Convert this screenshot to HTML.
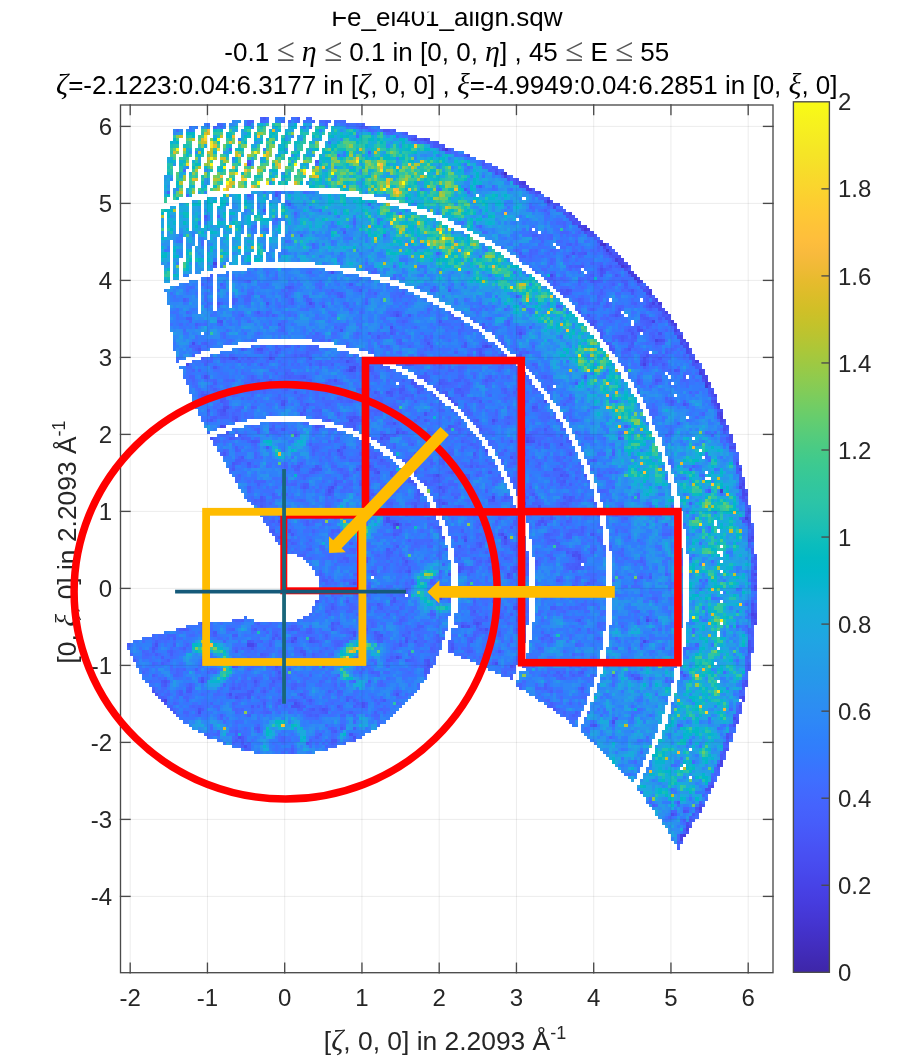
<!DOCTYPE html>
<html><head><meta charset="utf-8"><style>
html,body{margin:0;padding:0;background:#fff;width:902px;height:1064px;overflow:hidden}
#c{position:absolute;left:0;top:0}
svg{position:absolute;left:0;top:0}
svg{font-family:"Liberation Sans",sans-serif;font-size:24px}
</style></head><body>
<svg width="902" height="1064" viewBox="0 0 902 1064"><path fill="rgb(43,143,236)" stroke="rgb(43,143,236)" stroke-width="0.4" d="M259.8 116.8H269.1V119.8H259.8zM232.0 119.8H241.3V122.9H232.0zM275.3 119.8H284.5V122.9H275.3zM293.8 119.8H300.0V122.9H293.8zM303.1 119.8H312.3V122.9H303.1zM287.6 122.9H296.9V126.0H287.6zM303.1 122.9H312.3V126.0H303.1zM318.5 122.9H327.8V126.0H318.5zM337.1 122.9H340.1V126.0H337.1zM318.5 126.0H327.8V129.1H318.5zM330.9 126.0H352.5V129.1H330.9zM349.4 129.1H371.0V132.2H349.4zM368.0 132.2H389.6V135.2H368.0zM386.5 135.2H398.9V138.3H386.5zM395.8 138.3H411.2V141.4H395.8zM411.2 141.4H420.5V144.5H411.2zM420.5 144.5H429.8V147.6H420.5zM429.8 147.6H435.9V150.6H429.8zM435.9 150.6H448.3V153.7H435.9zM445.2 153.7H454.5V156.8H445.2zM454.5 156.8H460.7V159.9H454.5zM460.7 159.9H469.9V163.0H460.7zM466.8 163.0H473.0V166.0H466.8zM473.0 166.0H476.1V169.1H473.0zM479.2 169.1H482.3V172.2H479.2zM482.3 172.2H488.5V175.3H482.3zM488.5 175.3H491.6V178.4H488.5zM491.6 178.4H497.7V181.4H491.6zM494.6 181.4H500.8V184.5H494.6zM497.7 184.5H503.9V187.6H497.7zM497.7 187.6H510.1V190.7H497.7zM266.0 190.7H269.1V193.8H266.0zM500.8 190.7H513.2V193.8H500.8zM503.9 193.8H516.3V196.8H503.9zM503.9 196.8H519.4V199.9H503.9zM507.0 199.9H519.4V203.0H507.0zM507.0 203.0H522.5V206.1H507.0zM507.0 206.1H522.5V209.2H507.0zM503.9 209.2H519.4V212.2H503.9zM503.9 212.2H519.4V215.3H503.9zM296.9 215.3H312.3V218.4H296.9zM500.8 215.3H519.4V218.4H500.8zM296.9 218.4H312.3V221.5H296.9zM500.8 218.4H516.3V221.5H500.8zM296.9 221.5H312.3V224.6H296.9zM497.7 221.5H516.3V224.6H497.7zM284.5 224.6H312.3V227.6H284.5zM494.6 224.6H513.2V227.6H494.6zM284.5 227.6H290.7V230.7H284.5zM296.9 227.6H300.0V230.7H296.9zM491.6 227.6H510.1V230.7H491.6zM485.4 230.7H510.1V233.8H485.4zM296.9 233.8H300.0V236.9H296.9zM318.5 233.8H330.9V236.9H318.5zM482.3 233.8H507.0V236.9H482.3zM318.5 236.9H334.0V240.0H318.5zM485.4 236.9H503.9V240.0H485.4zM318.5 240.0H343.2V243.0H318.5zM491.6 240.0H500.8V243.0H491.6zM318.5 243.0H352.5V246.1H318.5zM494.6 243.0H500.8V246.1H494.6zM296.9 246.1H303.1V249.2H296.9zM321.6 246.1H352.5V249.2H321.6zM500.8 246.1H503.9V249.2H500.8zM296.9 249.2H303.1V252.3H296.9zM306.2 249.2H312.3V252.3H306.2zM327.8 249.2H355.6V252.3H327.8zM293.8 252.3H318.5V255.4H293.8zM324.7 252.3H358.7V255.4H324.7zM293.8 255.4H321.6V258.4H293.8zM324.7 255.4H327.8V258.4H324.7zM330.9 255.4H361.8V258.4H330.9zM287.6 258.4H321.6V261.5H287.6zM330.9 258.4H392.7V261.5H330.9zM315.4 261.5H401.9V264.6H315.4zM340.1 264.6H405.0V267.7H340.1zM355.6 267.7H411.2V270.8H355.6zM368.0 270.8H420.5V273.8H368.0zM380.3 273.8H429.8V276.9H380.3zM389.6 276.9H460.7V280.0H389.6zM398.9 280.0H466.8V283.1H398.9zM405.0 283.1H469.9V286.2H405.0zM414.3 286.2H445.2V289.2H414.3zM457.6 286.2H476.1V289.2H457.6zM423.6 289.2H439.0V292.3H423.6zM460.7 289.2H482.3V292.3H460.7zM429.8 292.3H435.9V295.4H429.8zM469.9 292.3H485.4V295.4H469.9zM479.2 295.4H491.6V298.5H479.2zM482.3 298.5H497.7V301.6H482.3zM488.5 301.6H500.8V304.6H488.5zM494.6 304.6H507.0V307.7H494.6zM497.7 307.7H510.1V310.8H497.7zM500.8 310.8H513.2V313.9H500.8zM507.0 313.9H516.3V317.0H507.0zM510.1 317.0H519.4V320.0H510.1zM513.2 320.0H525.5V323.1H513.2zM519.4 323.1H528.6V326.2H519.4zM522.5 326.2H531.7V329.3H522.5zM525.5 329.3H534.8V332.4H525.5zM528.6 332.4H537.9V335.4H528.6zM531.7 335.4H541.0V338.5H531.7zM531.7 338.5H547.2V341.6H531.7zM537.9 341.6H550.3V344.7H537.9zM541.0 344.7H553.4V347.8H541.0zM544.1 347.8H553.4V350.8H544.1zM547.2 350.8H556.4V353.9H547.2zM550.3 353.9H559.5V357.0H550.3zM553.4 357.0H562.6V360.1H553.4zM556.4 360.1H565.7V363.2H556.4zM556.4 363.2H568.8V366.2H556.4zM559.5 366.2H568.8V369.3H559.5zM562.6 369.3H571.9V372.4H562.6zM565.7 372.4H575.0V375.5H565.7zM568.8 375.5H575.0V378.6H568.8zM568.8 378.6H578.1V381.6H568.8zM571.9 381.6H578.1V384.7H571.9zM571.9 384.7H581.2V387.8H571.9zM575.0 387.8H584.3V390.9H575.0zM578.1 390.9H587.3V394.0H578.1zM578.1 394.0H587.3V397.0H578.1zM581.2 397.0H590.4V400.1H581.2zM584.3 400.1H590.4V403.2H584.3zM587.3 403.2H593.5V406.3H587.3zM590.4 406.3H596.6V409.4H590.4zM590.4 409.4H596.6V412.4H590.4zM593.5 412.4H599.7V415.5H593.5zM593.5 415.5H599.7V418.6H593.5zM683.1 415.5H686.2V418.6H683.1zM689.3 415.5H695.5V418.6H689.3zM593.5 418.6H602.8V421.7H593.5zM677.0 418.6H701.7V421.7H677.0zM596.6 421.7H602.8V424.8H596.6zM673.9 421.7H707.9V424.8H673.9zM599.7 424.8H605.9V427.8H599.7zM670.8 424.8H710.9V427.8H670.8zM599.7 427.8H605.9V430.9H599.7zM670.8 427.8H686.2V430.9H670.8zM698.6 427.8H714.0V430.9H698.6zM599.7 430.9H609.0V434.0H599.7zM670.8 430.9H683.1V434.0H670.8zM704.8 430.9H717.1V434.0H704.8zM300.0 434.0H306.2V437.1H300.0zM602.8 434.0H612.1V437.1H602.8zM667.7 434.0H683.1V437.1H667.7zM707.9 434.0H720.2V437.1H707.9zM262.9 437.1H269.1V440.2H262.9zM296.9 437.1H306.2V440.2H296.9zM602.8 437.1H612.1V440.2H602.8zM667.7 437.1H680.0V440.2H667.7zM710.9 437.1H720.2V440.2H710.9zM262.9 440.2H272.2V443.2H262.9zM293.8 440.2H306.2V443.2H293.8zM605.9 440.2H615.2V443.2H605.9zM661.5 440.2H680.0V443.2H661.5zM714.0 440.2H723.3V443.2H714.0zM262.9 443.2H278.3V446.3H262.9zM290.7 443.2H306.2V446.3H290.7zM609.0 443.2H615.2V446.3H609.0zM661.5 443.2H677.0V446.3H661.5zM717.1 443.2H723.3V446.3H717.1zM266.0 446.3H272.2V449.4H266.0zM275.3 446.3H293.8V449.4H275.3zM300.0 446.3H306.2V449.4H300.0zM609.0 446.3H615.2V449.4H609.0zM664.6 446.3H677.0V449.4H664.6zM717.1 446.3H723.3V449.4H717.1zM266.0 449.4H272.2V452.5H266.0zM300.0 449.4H303.1V452.5H300.0zM609.0 449.4H618.2V452.5H609.0zM664.6 449.4H677.0V452.5H664.6zM717.1 449.4H726.4V452.5H717.1zM269.1 452.5H275.3V455.6H269.1zM296.9 452.5H300.0V455.6H296.9zM609.0 452.5H618.2V455.6H609.0zM664.6 452.5H673.9V455.6H664.6zM720.2 452.5H726.4V455.6H720.2zM272.2 455.6H296.9V458.6H272.2zM609.0 455.6H618.2V458.6H609.0zM667.7 455.6H673.9V458.6H667.7zM723.3 455.6H726.4V458.6H723.3zM281.4 458.6H287.6V461.7H281.4zM612.1 458.6H621.3V461.7H612.1zM667.7 458.6H673.9V461.7H667.7zM726.4 458.6H729.5V461.7H726.4zM612.1 461.7H624.4V464.8H612.1zM726.4 461.7H729.5V464.8H726.4zM615.2 464.8H624.4V467.9H615.2zM726.4 464.8H729.5V467.9H726.4zM615.2 467.9H627.5V471.0H615.2zM729.5 467.9H732.6V471.0H729.5zM618.2 471.0H627.5V474.0H618.2zM729.5 471.0H732.6V474.0H729.5zM618.2 474.0H630.6V477.1H618.2zM621.3 477.1H630.6V480.2H621.3zM732.6 477.1H735.7V480.2H732.6zM621.3 480.2H630.6V483.3H621.3zM732.6 480.2H735.7V483.3H732.6zM624.4 483.3H633.7V486.4H624.4zM732.6 483.3H735.7V486.4H732.6zM624.4 486.4H633.7V489.4H624.4zM735.7 486.4H738.8V489.4H735.7zM627.5 489.4H636.8V492.5H627.5zM735.7 489.4H738.8V492.5H735.7zM627.5 492.5H636.8V495.6H627.5zM735.7 492.5H738.8V495.6H735.7zM343.2 495.6H352.5V498.7H343.2zM627.5 495.6H639.9V498.7H627.5zM735.7 495.6H738.8V498.7H735.7zM340.1 498.7H352.5V501.8H340.1zM630.6 498.7H639.9V501.8H630.6zM735.7 498.7H738.8V501.8H735.7zM337.1 501.8H340.1V504.8H337.1zM349.4 501.8H352.5V504.8H349.4zM630.6 501.8H643.0V504.8H630.6zM738.8 501.8H741.8V504.8H738.8zM349.4 504.8H352.5V507.9H349.4zM633.7 504.8H643.0V507.9H633.7zM738.8 504.8H741.8V507.9H738.8zM334.0 507.9H337.1V511.0H334.0zM349.4 507.9H352.5V511.0H349.4zM633.7 507.9H646.1V511.0H633.7zM738.8 507.9H741.8V511.0H738.8zM334.0 511.0H337.1V514.1H334.0zM349.4 511.0H352.5V514.1H349.4zM377.2 511.0H383.4V514.1H377.2zM636.8 511.0H649.1V514.1H636.8zM738.8 511.0H741.8V514.1H738.8zM334.0 514.1H337.1V517.2H334.0zM374.1 514.1H383.4V517.2H374.1zM636.8 514.1H652.2V517.2H636.8zM673.9 514.1H677.0V517.2H673.9zM738.8 514.1H741.8V517.2H738.8zM334.0 517.2H337.1V520.2H334.0zM352.5 517.2H355.6V520.2H352.5zM371.0 517.2H383.4V520.2H371.0zM639.9 517.2H655.3V520.2H639.9zM667.7 517.2H677.0V520.2H667.7zM741.8 517.2H744.9V520.2H741.8zM355.6 520.2H371.0V523.3H355.6zM380.3 520.2H383.4V523.3H380.3zM639.9 520.2H677.0V523.3H639.9zM741.8 520.2H744.9V523.3H741.8zM337.1 523.3H340.1V526.4H337.1zM380.3 523.3H383.4V526.4H380.3zM643.0 523.3H680.0V526.4H643.0zM741.8 523.3H744.9V526.4H741.8zM340.1 526.4H343.2V529.5H340.1zM377.2 526.4H380.3V529.5H377.2zM646.1 526.4H680.0V529.5H646.1zM741.8 526.4H744.9V529.5H741.8zM343.2 529.5H346.3V532.6H343.2zM374.1 529.5H380.3V532.6H374.1zM649.1 529.5H680.0V532.6H649.1zM741.8 529.5H744.9V532.6H741.8zM346.3 532.6H349.4V535.6H346.3zM371.0 532.6H377.2V535.6H371.0zM655.3 532.6H673.9V535.6H655.3zM677.0 532.6H680.0V535.6H677.0zM741.8 532.6H744.9V535.6H741.8zM352.5 535.6H358.7V538.7H352.5zM364.9 535.6H371.0V538.7H364.9zM655.3 535.6H670.8V538.7H655.3zM741.8 535.6H744.9V538.7H741.8zM741.8 538.7H744.9V541.8H741.8zM741.8 541.8H744.9V544.9H741.8zM680.0 548.0H683.1V551.0H680.0zM744.9 548.0H748.0V551.0H744.9zM744.9 551.0H748.0V554.1H744.9zM744.9 554.1H748.0V557.2H744.9zM744.9 557.2H748.0V560.3H744.9zM744.9 560.3H748.0V563.4H744.9zM426.7 563.4H445.2V566.4H426.7zM744.9 563.4H748.0V566.4H744.9zM420.5 566.4H426.7V569.5H420.5zM439.0 566.4H448.3V569.5H439.0zM744.9 566.4H748.0V569.5H744.9zM417.4 569.5H420.5V572.6H417.4zM439.0 569.5H448.3V572.6H439.0zM744.9 569.5H748.0V572.6H744.9zM414.3 572.6H417.4V575.7H414.3zM435.9 572.6H445.2V575.7H435.9zM744.9 572.6H748.0V575.7H744.9zM414.3 575.7H417.4V578.8H414.3zM432.8 575.7H435.9V578.8H432.8zM744.9 575.7H748.0V578.8H744.9zM411.2 578.8H414.3V581.8H411.2zM429.8 578.8H432.8V581.8H429.8zM744.9 578.8H748.0V581.8H744.9zM411.2 581.8H414.3V584.9H411.2zM744.9 581.8H748.0V584.9H744.9zM411.2 584.9H414.3V588.0H411.2zM426.7 584.9H429.8V588.0H426.7zM744.9 584.9H748.0V588.0H744.9zM411.2 588.0H414.3V591.1H411.2zM426.7 588.0H429.8V591.1H426.7zM744.9 588.0H748.0V591.1H744.9zM411.2 591.1H414.3V594.2H411.2zM744.9 591.1H748.0V594.2H744.9zM411.2 594.2H414.3V597.2H411.2zM429.8 594.2H432.8V597.2H429.8zM744.9 594.2H748.0V597.2H744.9zM429.8 597.2H435.9V600.3H429.8zM744.9 597.2H748.0V600.3H744.9zM414.3 600.3H417.4V603.4H414.3zM435.9 600.3H442.1V603.4H435.9zM744.9 600.3H748.0V603.4H744.9zM417.4 603.4H420.5V606.5H417.4zM435.9 603.4H451.4V606.5H435.9zM744.9 603.4H748.0V606.5H744.9zM420.5 606.5H426.7V609.6H420.5zM435.9 606.5H451.4V609.6H435.9zM744.9 606.5H748.0V609.6H744.9zM426.7 609.6H448.3V612.6H426.7zM744.9 609.6H748.0V612.6H744.9zM744.9 612.6H748.0V615.7H744.9zM744.9 615.7H748.0V618.8H744.9zM744.9 618.8H748.0V621.9H744.9zM744.9 621.9H748.0V625.0H744.9zM680.0 625.0H683.1V628.0H680.0zM744.9 625.0H748.0V628.0H744.9zM741.8 628.0H744.9V631.1H741.8zM741.8 631.1H744.9V634.2H741.8zM741.8 634.2H744.9V637.3H741.8zM201.1 637.3H219.6V640.4H201.1zM349.4 637.3H368.0V640.4H349.4zM741.8 637.3H744.9V640.4H741.8zM194.9 640.4H201.1V643.4H194.9zM219.6 640.4H222.7V643.4H219.6zM346.3 640.4H349.4V643.4H346.3zM371.0 640.4H374.1V643.4H371.0zM741.8 640.4H744.9V643.4H741.8zM191.8 643.4H194.9V646.5H191.8zM340.1 643.4H343.2V646.5H340.1zM374.1 643.4H377.2V646.5H374.1zM609.0 643.4H618.2V646.5H609.0zM677.0 643.4H680.0V646.5H677.0zM741.8 643.4H744.9V646.5H741.8zM188.7 646.5H194.9V649.6H188.7zM377.2 646.5H380.3V649.6H377.2zM609.0 646.5H624.4V649.6H609.0zM673.9 646.5H680.0V649.6H673.9zM741.8 646.5H744.9V649.6H741.8zM188.7 649.6H194.9V652.7H188.7zM228.9 649.6H232.0V652.7H228.9zM337.1 649.6H340.1V652.7H337.1zM377.2 649.6H383.4V652.7H377.2zM605.9 649.6H624.4V652.7H605.9zM639.9 649.6H649.1V652.7H639.9zM667.7 649.6H680.0V652.7H667.7zM741.8 649.6H744.9V652.7H741.8zM188.7 652.7H210.4V655.8H188.7zM232.0 652.7H235.1V655.8H232.0zM334.0 652.7H337.1V655.8H334.0zM377.2 652.7H383.4V655.8H377.2zM605.9 652.7H624.4V655.8H605.9zM636.8 652.7H652.2V655.8H636.8zM664.6 652.7H677.0V655.8H664.6zM741.8 652.7H744.9V655.8H741.8zM188.7 655.8H198.0V658.8H188.7zM210.4 655.8H213.5V658.8H210.4zM232.0 655.8H235.1V658.8H232.0zM334.0 655.8H337.1V658.8H334.0zM355.6 655.8H358.7V658.8H355.6zM371.0 655.8H383.4V658.8H371.0zM605.9 655.8H677.0V658.8H605.9zM741.8 655.8H744.9V658.8H741.8zM213.5 658.8H216.5V661.9H213.5zM352.5 658.8H355.6V661.9H352.5zM377.2 658.8H383.4V661.9H377.2zM605.9 658.8H677.0V661.9H605.9zM741.8 658.8H744.9V661.9H741.8zM605.9 661.9H677.0V665.0H605.9zM738.8 661.9H741.8V665.0H738.8zM602.8 665.0H677.0V668.1H602.8zM738.8 665.0H741.8V668.1H738.8zM352.5 668.1H355.6V671.2H352.5zM602.8 668.1H673.9V671.2H602.8zM738.8 668.1H741.8V671.2H738.8zM213.5 671.2H216.5V674.2H213.5zM232.0 671.2H235.1V674.2H232.0zM334.0 671.2H337.1V674.2H334.0zM352.5 671.2H355.6V674.2H352.5zM602.8 671.2H673.9V674.2H602.8zM738.8 671.2H741.8V674.2H738.8zM210.4 674.2H213.5V677.3H210.4zM232.0 674.2H235.1V677.3H232.0zM334.0 674.2H337.1V677.3H334.0zM355.6 674.2H358.7V677.3H355.6zM599.7 674.2H673.9V677.3H599.7zM738.8 674.2H741.8V677.3H738.8zM207.3 677.3H213.5V680.4H207.3zM228.9 677.3H232.0V680.4H228.9zM337.1 677.3H340.1V680.4H337.1zM355.6 677.3H361.8V680.4H355.6zM599.7 677.3H673.9V680.4H599.7zM735.7 677.3H738.8V680.4H735.7zM204.2 680.4H210.4V683.5H204.2zM225.8 680.4H228.9V683.5H225.8zM340.1 680.4H343.2V683.5H340.1zM358.7 680.4H364.9V683.5H358.7zM599.7 680.4H673.9V683.5H599.7zM735.7 680.4H738.8V683.5H735.7zM204.2 683.5H210.4V686.6H204.2zM222.7 683.5H225.8V686.6H222.7zM343.2 683.5H346.3V686.6H343.2zM358.7 683.5H364.9V686.6H358.7zM596.6 683.5H670.8V686.6H596.6zM735.7 683.5H738.8V686.6H735.7zM204.2 686.6H222.7V689.6H204.2zM346.3 686.6H364.9V689.6H346.3zM596.6 686.6H670.8V689.6H596.6zM735.7 686.6H738.8V689.6H735.7zM596.6 689.6H670.8V692.7H596.6zM732.6 689.6H735.7V692.7H732.6zM593.5 692.7H670.8V695.8H593.5zM732.6 692.7H735.7V695.8H732.6zM593.5 695.8H667.7V698.9H593.5zM732.6 695.8H735.7V698.9H732.6zM593.5 698.9H667.7V702.0H593.5zM732.6 698.9H735.7V702.0H732.6zM590.4 702.0H667.7V705.0H590.4zM732.6 702.0H735.7V705.0H732.6zM590.4 705.0H664.6V708.1H590.4zM729.5 705.0H735.7V708.1H729.5zM590.4 708.1H664.6V711.2H590.4zM729.5 708.1H732.6V711.2H729.5zM587.3 711.2H664.6V714.3H587.3zM729.5 711.2H732.6V714.3H729.5zM281.4 714.3H287.6V717.4H281.4zM587.3 714.3H661.5V717.4H587.3zM726.4 714.3H729.5V717.4H726.4zM272.2 717.4H278.3V720.4H272.2zM287.6 717.4H296.9V720.4H287.6zM584.3 717.4H661.5V720.4H584.3zM726.4 717.4H729.5V720.4H726.4zM204.2 720.4H216.5V723.5H204.2zM269.1 720.4H272.2V723.5H269.1zM293.8 720.4H300.0V723.5H293.8zM352.5 720.4H364.9V723.5H352.5zM584.3 720.4H661.5V723.5H584.3zM726.4 720.4H729.5V723.5H726.4zM201.1 723.5H222.7V726.6H201.1zM266.0 723.5H269.1V726.6H266.0zM296.9 723.5H303.1V726.6H296.9zM346.3 723.5H368.0V726.6H346.3zM581.2 723.5H658.4V726.6H581.2zM723.3 723.5H726.4V726.6H723.3zM198.0 726.6H201.1V729.7H198.0zM207.3 726.6H225.8V729.7H207.3zM262.9 726.6H266.0V729.7H262.9zM300.0 726.6H306.2V729.7H300.0zM343.2 726.6H361.8V729.7H343.2zM581.2 726.6H658.4V729.7H581.2zM723.3 726.6H726.4V729.7H723.3zM216.5 729.7H228.9V732.8H216.5zM262.9 729.7H266.0V732.8H262.9zM278.3 729.7H293.8V732.8H278.3zM303.1 729.7H306.2V732.8H303.1zM340.1 729.7H355.6V732.8H340.1zM581.2 729.7H658.4V732.8H581.2zM720.2 729.7H723.3V732.8H720.2zM216.5 732.8H228.9V735.8H216.5zM259.8 732.8H266.0V735.8H259.8zM272.2 732.8H278.3V735.8H272.2zM293.8 732.8H300.0V735.8H293.8zM303.1 732.8H309.2V735.8H303.1zM340.1 732.8H352.5V735.8H340.1zM584.3 732.8H655.3V735.8H584.3zM720.2 732.8H723.3V735.8H720.2zM219.6 735.8H228.9V738.9H219.6zM259.8 735.8H275.3V738.9H259.8zM296.9 735.8H309.2V738.9H296.9zM340.1 735.8H349.4V738.9H340.1zM587.3 735.8H655.3V738.9H587.3zM720.2 735.8H723.3V738.9H720.2zM219.6 738.9H228.9V742.0H219.6zM259.8 738.9H272.2V742.0H259.8zM296.9 738.9H309.2V742.0H296.9zM340.1 738.9H349.4V742.0H340.1zM590.4 738.9H652.2V742.0H590.4zM222.7 742.0H228.9V745.1H222.7zM262.9 742.0H269.1V745.1H262.9zM300.0 742.0H306.2V745.1H300.0zM340.1 742.0H346.3V745.1H340.1zM593.5 742.0H652.2V745.1H593.5zM717.1 742.0H720.2V745.1H717.1zM262.9 745.1H269.1V748.2H262.9zM596.6 745.1H652.2V748.2H596.6zM717.1 745.1H720.2V748.2H717.1zM599.7 748.2H649.1V751.2H599.7zM717.1 748.2H720.2V751.2H717.1zM602.8 751.2H649.1V754.3H602.8zM714.0 751.2H717.1V754.3H714.0zM605.9 754.3H646.1V757.4H605.9zM714.0 754.3H717.1V757.4H714.0zM609.0 757.4H646.1V760.5H609.0zM714.0 757.4H717.1V760.5H714.0zM612.1 760.5H643.0V763.6H612.1zM710.9 760.5H714.0V763.6H710.9zM615.2 763.6H643.0V766.6H615.2zM707.9 763.6H714.0V766.6H707.9zM618.2 766.6H639.9V769.7H618.2zM707.9 766.6H710.9V769.7H707.9zM621.3 769.7H639.9V772.8H621.3zM707.9 769.7H710.9V772.8H707.9zM627.5 772.8H636.8V775.9H627.5zM704.8 772.8H707.9V775.9H704.8zM630.6 775.9H636.8V779.0H630.6zM704.8 775.9H707.9V779.0H704.8zM630.6 779.0H633.7V782.0H630.6zM639.9 779.0H643.0V782.0H639.9zM704.8 779.0H707.9V782.0H704.8zM701.7 782.0H704.8V785.1H701.7zM636.8 785.1H639.9V788.2H636.8zM701.7 785.1H704.8V788.2H701.7zM636.8 788.2H639.9V791.3H636.8zM698.6 788.2H701.7V791.3H698.6zM695.5 791.3H701.7V794.4H695.5zM695.5 794.4H698.6V797.4H695.5zM692.4 797.4H695.5V800.5H692.4zM689.3 800.5H695.5V803.6H689.3zM686.2 803.6H692.4V806.7H686.2zM686.2 806.7H692.4V809.8H686.2zM683.1 809.8H689.3V812.8H683.1zM673.9 812.8H686.2V815.9H673.9zM667.7 815.9H683.1V819.0H667.7zM661.5 819.0H683.1V822.1H661.5zM661.5 822.1H680.0V825.2H661.5zM664.6 825.2H677.0V828.2H664.6zM667.7 828.2H677.0V831.3H667.7zM667.7 831.3H670.8V834.4H667.7z"/><path fill="rgb(52,125,248)" stroke="rgb(52,125,248)" stroke-width="0.4" d="M281.4 116.8H284.5V119.8H281.4zM290.7 116.8H300.0V119.8H290.7zM306.2 116.8H312.3V119.8H306.2zM321.6 119.8H324.7V122.9H321.6zM327.8 119.8H330.9V122.9H327.8zM334.0 119.8H340.1V122.9H334.0zM349.4 122.9H361.8V126.0H349.4zM368.0 126.0H377.2V129.1H368.0zM386.5 129.1H389.6V132.2H386.5zM398.9 132.2H401.9V135.2H398.9zM411.2 135.2H414.3V138.3H411.2zM420.5 138.3H423.6V141.4H420.5zM426.7 141.4H432.8V144.5H426.7zM435.9 144.5H442.1V147.6H435.9zM445.2 147.6H451.4V150.6H445.2zM454.5 150.6H457.6V153.7H454.5zM460.7 153.7H466.8V156.8H460.7zM469.9 156.8H473.0V159.9H469.9zM473.0 159.9H476.1V163.0H473.0zM479.2 163.0H482.3V166.0H479.2zM482.3 166.0H485.4V169.1H482.3zM488.5 169.1H491.6V172.2H488.5zM491.6 172.2H494.6V175.3H491.6zM497.7 175.3H500.8V178.4H497.7zM500.8 178.4H507.0V181.4H500.8zM507.0 181.4H510.1V184.5H507.0zM510.1 184.5H516.3V187.6H510.1zM516.3 187.6H519.4V190.7H516.3zM519.4 190.7H525.5V193.8H519.4zM522.5 193.8H528.6V196.8H522.5zM525.5 196.8H531.7V199.9H525.5zM528.6 199.9H534.8V203.0H528.6zM528.6 203.0H537.9V206.1H528.6zM528.6 206.1H541.0V209.2H528.6zM528.6 209.2H547.2V212.2H528.6zM528.6 212.2H550.3V215.3H528.6zM531.7 215.3H550.3V218.4H531.7zM531.7 218.4H553.4V221.5H531.7zM531.7 221.5H553.4V224.6H531.7zM531.7 224.6H556.4V227.6H531.7zM534.8 227.6H556.4V230.7H534.8zM528.6 230.7H537.9V233.8H528.6zM541.0 230.7H556.4V233.8H541.0zM528.6 233.8H553.4V236.9H528.6zM525.5 236.9H550.3V240.0H525.5zM522.5 240.0H547.2V243.0H522.5zM519.4 243.0H544.1V246.1H519.4zM516.3 246.1H541.0V249.2H516.3zM510.1 249.2H537.9V252.3H510.1zM516.3 252.3H537.9V255.4H516.3zM519.4 255.4H534.8V258.4H519.4zM522.5 258.4H537.9V261.5H522.5zM525.5 261.5H537.9V264.6H525.5zM528.6 264.6H534.8V267.7H528.6zM253.6 267.7H312.3V270.8H253.6zM531.7 267.7H537.9V270.8H531.7zM232.0 270.8H343.2V273.8H232.0zM537.9 270.8H541.0V273.8H537.9zM219.6 273.8H228.9V276.9H219.6zM232.0 273.8H358.7V276.9H232.0zM541.0 273.8H544.1V276.9H541.0zM207.3 276.9H213.5V280.0H207.3zM216.5 276.9H228.9V280.0H216.5zM232.0 276.9H368.0V280.0H232.0zM201.1 280.0H213.5V283.1H201.1zM216.5 280.0H228.9V283.1H216.5zM232.0 280.0H380.3V283.1H232.0zM547.2 280.0H550.3V283.1H547.2zM185.6 283.1H198.0V286.2H185.6zM201.1 283.1H213.5V286.2H201.1zM216.5 283.1H228.9V286.2H216.5zM232.0 283.1H389.6V286.2H232.0zM550.3 283.1H553.4V286.2H550.3zM176.4 286.2H182.6V289.2H176.4zM185.6 286.2H198.0V289.2H185.6zM201.1 286.2H213.5V289.2H201.1zM216.5 286.2H228.9V289.2H216.5zM232.0 286.2H398.9V289.2H232.0zM553.4 286.2H556.4V289.2H553.4zM164.0 289.2H198.0V292.3H164.0zM201.1 289.2H213.5V292.3H201.1zM216.5 289.2H228.9V292.3H216.5zM232.0 289.2H408.1V292.3H232.0zM556.4 289.2H559.5V292.3H556.4zM167.1 292.3H198.0V295.4H167.1zM201.1 292.3H213.5V295.4H201.1zM216.5 292.3H228.9V295.4H216.5zM232.0 292.3H414.3V295.4H232.0zM559.5 292.3H562.6V295.4H559.5zM167.1 295.4H198.0V298.5H167.1zM201.1 295.4H213.5V298.5H201.1zM216.5 295.4H228.9V298.5H216.5zM232.0 295.4H411.2V298.5H232.0zM414.3 295.4H420.5V298.5H414.3zM562.6 295.4H565.7V298.5H562.6zM167.1 298.5H198.0V301.6H167.1zM201.1 298.5H213.5V301.6H201.1zM216.5 298.5H228.9V301.6H216.5zM232.0 298.5H405.0V301.6H232.0zM417.4 298.5H426.7V301.6H417.4zM167.1 301.6H198.0V304.6H167.1zM201.1 301.6H213.5V304.6H201.1zM216.5 301.6H228.9V304.6H216.5zM232.0 301.6H401.9V304.6H232.0zM417.4 301.6H432.8V304.6H417.4zM170.2 304.6H198.0V307.7H170.2zM201.1 304.6H213.5V307.7H201.1zM222.7 304.6H228.9V307.7H222.7zM235.1 304.6H401.9V307.7H235.1zM417.4 304.6H439.0V307.7H417.4zM170.2 307.7H198.0V310.8H170.2zM201.1 307.7H204.2V310.8H201.1zM222.7 307.7H228.9V310.8H222.7zM235.1 307.7H238.2V310.8H235.1zM244.4 307.7H405.0V310.8H244.4zM420.5 307.7H432.8V310.8H420.5zM575.0 307.7H578.1V310.8H575.0zM170.2 310.8H185.6V313.9H170.2zM191.8 310.8H198.0V313.9H191.8zM225.8 310.8H232.0V313.9H225.8zM235.1 310.8H238.2V313.9H235.1zM244.4 310.8H401.9V313.9H244.4zM423.6 310.8H432.8V313.9H423.6zM460.7 310.8H485.4V313.9H460.7zM578.1 310.8H581.2V313.9H578.1zM170.2 313.9H182.6V317.0H170.2zM232.0 313.9H241.3V317.0H232.0zM244.4 313.9H303.1V317.0H244.4zM309.2 313.9H401.9V317.0H309.2zM423.6 313.9H432.8V317.0H423.6zM451.4 313.9H454.5V317.0H451.4zM463.7 313.9H491.6V317.0H463.7zM170.2 317.0H182.6V320.0H170.2zM207.3 317.0H213.5V320.0H207.3zM232.0 317.0H296.9V320.0H232.0zM309.2 317.0H405.0V320.0H309.2zM420.5 317.0H432.8V320.0H420.5zM457.6 317.0H460.7V320.0H457.6zM469.9 317.0H494.6V320.0H469.9zM170.2 320.0H182.6V323.1H170.2zM207.3 320.0H213.5V323.1H207.3zM232.0 320.0H296.9V323.1H232.0zM306.2 320.0H405.0V323.1H306.2zM420.5 320.0H432.8V323.1H420.5zM460.7 320.0H463.7V323.1H460.7zM473.0 320.0H497.7V323.1H473.0zM587.3 320.0H590.4V323.1H587.3zM170.2 323.1H185.6V326.2H170.2zM198.0 323.1H213.5V326.2H198.0zM232.0 323.1H405.0V326.2H232.0zM420.5 323.1H432.8V326.2H420.5zM479.2 323.1H497.7V326.2H479.2zM170.2 326.2H188.7V329.3H170.2zM198.0 326.2H213.5V329.3H198.0zM232.0 326.2H405.0V329.3H232.0zM420.5 326.2H423.6V329.3H420.5zM426.7 326.2H435.9V329.3H426.7zM482.3 326.2H507.0V329.3H482.3zM170.2 329.3H188.7V332.4H170.2zM232.0 329.3H405.0V332.4H232.0zM420.5 329.3H435.9V332.4H420.5zM485.4 329.3H513.2V332.4H485.4zM173.3 332.4H191.8V335.4H173.3zM232.0 332.4H405.0V335.4H232.0zM420.5 332.4H429.8V335.4H420.5zM491.6 332.4H519.4V335.4H491.6zM173.3 335.4H194.9V338.5H173.3zM235.1 335.4H405.0V338.5H235.1zM420.5 335.4H423.6V338.5H420.5zM494.6 335.4H522.5V338.5H494.6zM599.7 335.4H602.8V338.5H599.7zM173.3 338.5H191.8V341.6H173.3zM204.2 338.5H216.5V341.6H204.2zM238.2 338.5H256.7V341.6H238.2zM312.3 338.5H426.7V341.6H312.3zM497.7 338.5H522.5V341.6H497.7zM173.3 341.6H194.9V344.7H173.3zM201.1 341.6H219.6V344.7H201.1zM228.9 341.6H238.2V344.7H228.9zM334.0 341.6H429.8V344.7H334.0zM500.8 341.6H522.5V344.7H500.8zM173.3 344.7H222.7V347.8H173.3zM346.3 344.7H426.7V347.8H346.3zM503.9 344.7H525.5V347.8H503.9zM173.3 347.8H210.4V350.8H173.3zM232.0 347.8H235.1V350.8H232.0zM358.7 347.8H423.6V350.8H358.7zM507.0 347.8H528.6V350.8H507.0zM609.0 347.8H612.1V350.8H609.0zM176.4 350.8H201.1V353.9H176.4zM368.0 350.8H401.9V353.9H368.0zM423.6 350.8H426.7V353.9H423.6zM510.1 350.8H531.7V353.9H510.1zM176.4 353.9H194.9V357.0H176.4zM374.1 353.9H395.8V357.0H374.1zM516.3 353.9H531.7V357.0H516.3zM176.4 357.0H185.6V360.1H176.4zM383.4 357.0H389.6V360.1H383.4zM519.4 357.0H534.8V360.1H519.4zM176.4 360.1H179.5V363.2H176.4zM519.4 360.1H537.9V363.2H519.4zM522.5 363.2H534.8V366.2H522.5zM408.1 366.2H417.4V369.3H408.1zM525.5 366.2H537.9V369.3H525.5zM408.1 369.3H417.4V372.4H408.1zM528.6 369.3H547.2V372.4H528.6zM624.4 369.3H627.5V372.4H624.4zM531.7 372.4H550.3V375.5H531.7zM534.8 375.5H553.4V378.6H534.8zM627.5 375.5H630.6V378.6H627.5zM537.9 378.6H556.4V381.6H537.9zM630.6 378.6H633.7V381.6H630.6zM541.0 381.6H556.4V384.7H541.0zM541.0 384.7H553.4V387.8H541.0zM556.4 384.7H559.5V387.8H556.4zM633.7 384.7H636.8V387.8H633.7zM664.6 384.7H680.0V387.8H664.6zM686.2 384.7H695.5V387.8H686.2zM544.1 387.8H562.6V390.9H544.1zM636.8 387.8H639.9V390.9H636.8zM664.6 387.8H698.6V390.9H664.6zM547.2 390.9H565.7V394.0H547.2zM636.8 390.9H639.9V394.0H636.8zM661.5 390.9H701.7V394.0H661.5zM550.3 394.0H568.8V397.0H550.3zM639.9 394.0H643.0V397.0H639.9zM661.5 394.0H673.9V397.0H661.5zM677.0 394.0H701.7V397.0H677.0zM550.3 397.0H568.8V400.1H550.3zM658.4 397.0H701.7V400.1H658.4zM553.4 400.1H568.8V403.2H553.4zM643.0 400.1H646.1V403.2H643.0zM655.3 400.1H673.9V403.2H655.3zM677.0 400.1H704.8V403.2H677.0zM556.4 403.2H571.9V406.3H556.4zM646.1 403.2H649.1V406.3H646.1zM652.2 403.2H667.7V406.3H652.2zM692.4 403.2H707.9V406.3H692.4zM290.7 406.3H296.9V409.4H290.7zM559.5 406.3H575.0V409.4H559.5zM646.1 406.3H667.7V409.4H646.1zM698.6 406.3H707.9V409.4H698.6zM290.7 409.4H296.9V412.4H290.7zM559.5 409.4H575.0V412.4H559.5zM649.1 409.4H664.6V412.4H649.1zM704.8 409.4H710.9V412.4H704.8zM287.6 412.4H296.9V415.5H287.6zM562.6 412.4H578.1V415.5H562.6zM652.2 412.4H664.6V415.5H652.2zM707.9 412.4H714.0V415.5H707.9zM562.6 415.5H584.3V418.6H562.6zM652.2 415.5H664.6V418.6H652.2zM710.9 415.5H714.0V418.6H710.9zM565.7 418.6H587.3V421.7H565.7zM655.3 418.6H664.6V421.7H655.3zM714.0 418.6H717.1V421.7H714.0zM259.8 421.7H275.3V424.8H259.8zM293.8 421.7H296.9V424.8H293.8zM306.2 421.7H309.2V424.8H306.2zM568.8 421.7H587.3V424.8H568.8zM655.3 421.7H661.5V424.8H655.3zM714.0 421.7H717.1V424.8H714.0zM256.7 424.8H259.8V427.8H256.7zM272.2 424.8H275.3V427.8H272.2zM293.8 424.8H296.9V427.8H293.8zM309.2 424.8H315.4V427.8H309.2zM568.8 424.8H587.3V427.8H568.8zM717.1 424.8H720.2V427.8H717.1zM256.7 427.8H259.8V430.9H256.7zM272.2 427.8H275.3V430.9H272.2zM293.8 427.8H296.9V430.9H293.8zM312.3 427.8H315.4V430.9H312.3zM571.9 427.8H587.3V430.9H571.9zM253.6 430.9H259.8V434.0H253.6zM272.2 430.9H275.3V434.0H272.2zM293.8 430.9H296.9V434.0H293.8zM312.3 430.9H315.4V434.0H312.3zM571.9 430.9H587.3V434.0H571.9zM720.2 430.9H723.3V434.0H720.2zM253.6 434.0H259.8V437.1H253.6zM272.2 434.0H278.3V437.1H272.2zM290.7 434.0H296.9V437.1H290.7zM312.3 434.0H315.4V437.1H312.3zM575.0 434.0H590.4V437.1H575.0zM253.6 437.1H259.8V440.2H253.6zM275.3 437.1H278.3V440.2H275.3zM290.7 437.1H293.8V440.2H290.7zM312.3 437.1H315.4V440.2H312.3zM575.0 437.1H590.4V440.2H575.0zM723.3 437.1H726.4V440.2H723.3zM253.6 440.2H259.8V443.2H253.6zM278.3 440.2H290.7V443.2H278.3zM312.3 440.2H315.4V443.2H312.3zM578.1 440.2H593.5V443.2H578.1zM723.3 440.2H726.4V443.2H723.3zM256.7 443.2H259.8V446.3H256.7zM309.2 443.2H312.3V446.3H309.2zM578.1 443.2H596.6V446.3H578.1zM726.4 443.2H729.5V446.3H726.4zM256.7 446.3H259.8V449.4H256.7zM309.2 446.3H312.3V449.4H309.2zM581.2 446.3H596.6V449.4H581.2zM726.4 446.3H729.5V449.4H726.4zM259.8 449.4H262.9V452.5H259.8zM309.2 449.4H312.3V452.5H309.2zM581.2 449.4H596.6V452.5H581.2zM729.5 449.4H732.6V452.5H729.5zM259.8 452.5H266.0V455.6H259.8zM306.2 452.5H309.2V455.6H306.2zM584.3 452.5H596.6V455.6H584.3zM729.5 452.5H732.6V455.6H729.5zM262.9 455.6H269.1V458.6H262.9zM303.1 455.6H306.2V458.6H303.1zM584.3 455.6H596.6V458.6H584.3zM729.5 455.6H732.6V458.6H729.5zM266.0 458.6H272.2V461.7H266.0zM296.9 458.6H303.1V461.7H296.9zM587.3 458.6H596.6V461.7H587.3zM732.6 458.6H735.7V461.7H732.6zM269.1 461.7H296.9V464.8H269.1zM587.3 461.7H596.6V464.8H587.3zM732.6 461.7H735.7V464.8H732.6zM590.4 464.8H602.8V467.9H590.4zM732.6 464.8H735.7V467.9H732.6zM590.4 467.9H602.8V471.0H590.4zM735.7 467.9H738.8V471.0H735.7zM590.4 471.0H605.9V474.0H590.4zM735.7 471.0H738.8V474.0H735.7zM593.5 474.0H605.9V477.1H593.5zM735.7 474.0H738.8V477.1H735.7zM593.5 477.1H605.9V480.2H593.5zM738.8 477.1H741.8V480.2H738.8zM593.5 480.2H605.9V483.3H593.5zM738.8 480.2H741.8V483.3H738.8zM349.4 483.3H368.0V486.4H349.4zM596.6 483.3H609.0V486.4H596.6zM738.8 483.3H741.8V486.4H738.8zM343.2 486.4H374.1V489.4H343.2zM596.6 486.4H609.0V489.4H596.6zM340.1 489.4H346.3V492.5H340.1zM361.8 489.4H377.2V492.5H361.8zM596.6 489.4H612.1V492.5H596.6zM741.8 489.4H744.9V492.5H741.8zM337.1 492.5H340.1V495.6H337.1zM361.8 492.5H380.3V495.6H361.8zM599.7 492.5H612.1V495.6H599.7zM741.8 492.5H744.9V495.6H741.8zM334.0 495.6H337.1V498.7H334.0zM358.7 495.6H386.5V498.7H358.7zM599.7 495.6H612.1V498.7H599.7zM741.8 495.6H744.9V498.7H741.8zM334.0 498.7H337.1V501.8H334.0zM355.6 498.7H386.5V501.8H355.6zM599.7 498.7H612.1V501.8H599.7zM330.9 501.8H334.0V504.8H330.9zM355.6 501.8H358.7V504.8H355.6zM368.0 501.8H377.2V504.8H368.0zM383.4 501.8H389.6V504.8H383.4zM602.8 501.8H612.1V504.8H602.8zM744.9 501.8H748.0V504.8H744.9zM330.9 504.8H334.0V507.9H330.9zM355.6 504.8H358.7V507.9H355.6zM371.0 504.8H374.1V507.9H371.0zM386.5 504.8H389.6V507.9H386.5zM602.8 504.8H615.2V507.9H602.8zM744.9 504.8H748.0V507.9H744.9zM330.9 507.9H334.0V511.0H330.9zM352.5 507.9H355.6V511.0H352.5zM371.0 507.9H374.1V511.0H371.0zM386.5 507.9H392.7V511.0H386.5zM602.8 507.9H618.2V511.0H602.8zM744.9 507.9H748.0V511.0H744.9zM330.9 511.0H334.0V514.1H330.9zM368.0 511.0H374.1V514.1H368.0zM389.6 511.0H392.7V514.1H389.6zM602.8 511.0H621.3V514.1H602.8zM744.9 511.0H748.0V514.1H744.9zM330.9 514.1H334.0V517.2H330.9zM355.6 514.1H361.8V517.2H355.6zM364.9 514.1H371.0V517.2H364.9zM389.6 514.1H392.7V517.2H389.6zM605.9 514.1H624.4V517.2H605.9zM744.9 514.1H748.0V517.2H744.9zM330.9 517.2H334.0V520.2H330.9zM361.8 517.2H364.9V520.2H361.8zM386.5 517.2H389.6V520.2H386.5zM605.9 517.2H627.5V520.2H605.9zM330.9 520.2H334.0V523.3H330.9zM386.5 520.2H389.6V523.3H386.5zM605.9 520.2H627.5V523.3H605.9zM748.0 520.2H751.1V523.3H748.0zM330.9 523.3H334.0V526.4H330.9zM386.5 523.3H389.6V526.4H386.5zM605.9 523.3H627.5V526.4H605.9zM748.0 523.3H751.1V526.4H748.0zM334.0 526.4H337.1V529.5H334.0zM383.4 526.4H389.6V529.5H383.4zM605.9 526.4H630.6V529.5H605.9zM748.0 526.4H751.1V529.5H748.0zM334.0 529.5H340.1V532.6H334.0zM383.4 529.5H386.5V532.6H383.4zM609.0 529.5H630.6V532.6H609.0zM748.0 529.5H751.1V532.6H748.0zM337.1 532.6H343.2V535.6H337.1zM380.3 532.6H383.4V535.6H380.3zM609.0 532.6H633.7V535.6H609.0zM748.0 532.6H751.1V535.6H748.0zM340.1 535.6H346.3V538.7H340.1zM377.2 535.6H380.3V538.7H377.2zM609.0 535.6H633.7V538.7H609.0zM748.0 535.6H751.1V538.7H748.0zM346.3 538.7H352.5V541.8H346.3zM371.0 538.7H377.2V541.8H371.0zM609.0 538.7H636.8V541.8H609.0zM748.0 538.7H751.1V541.8H748.0zM352.5 541.8H368.0V544.9H352.5zM609.0 541.8H636.8V544.9H609.0zM609.0 544.9H639.9V548.0H609.0zM751.1 544.9H754.2V548.0H751.1zM609.0 548.0H639.9V551.0H609.0zM751.1 548.0H754.2V551.0H751.1zM612.1 551.0H639.9V554.1H612.1zM751.1 551.0H754.2V554.1H751.1zM612.1 554.1H643.0V557.2H612.1zM751.1 554.1H754.2V557.2H751.1zM426.7 557.2H448.3V560.3H426.7zM612.1 557.2H646.1V560.3H612.1zM649.1 557.2H652.2V560.3H649.1zM751.1 557.2H754.2V560.3H751.1zM420.5 560.3H429.8V563.4H420.5zM448.3 560.3H451.4V563.4H448.3zM612.1 560.3H643.0V563.4H612.1zM649.1 560.3H652.2V563.4H649.1zM751.1 560.3H754.2V563.4H751.1zM417.4 563.4H420.5V566.4H417.4zM612.1 563.4H643.0V566.4H612.1zM649.1 563.4H655.3V566.4H649.1zM673.9 563.4H680.0V566.4H673.9zM751.1 563.4H754.2V566.4H751.1zM414.3 566.4H417.4V569.5H414.3zM612.1 566.4H636.8V569.5H612.1zM673.9 566.4H680.0V569.5H673.9zM751.1 566.4H754.2V569.5H751.1zM411.2 569.5H414.3V572.6H411.2zM612.1 569.5H636.8V572.6H612.1zM751.1 569.5H754.2V572.6H751.1zM408.1 572.6H414.3V575.7H408.1zM612.1 572.6H633.7V575.7H612.1zM751.1 572.6H754.2V575.7H751.1zM408.1 575.7H411.2V578.8H408.1zM445.2 575.7H451.4V578.8H445.2zM556.4 575.7H562.6V578.8H556.4zM612.1 575.7H630.6V578.8H612.1zM751.1 575.7H754.2V578.8H751.1zM408.1 578.8H411.2V581.8H408.1zM435.9 578.8H445.2V581.8H435.9zM457.6 578.8H460.7V581.8H457.6zM553.4 578.8H565.7V581.8H553.4zM593.5 578.8H599.7V581.8H593.5zM612.1 578.8H627.5V581.8H612.1zM751.1 578.8H754.2V581.8H751.1zM432.8 581.8H435.9V584.9H432.8zM457.6 581.8H460.7V584.9H457.6zM556.4 581.8H568.8V584.9H556.4zM593.5 581.8H602.8V584.9H593.5zM612.1 581.8H618.2V584.9H612.1zM751.1 581.8H754.2V584.9H751.1zM405.0 584.9H408.1V588.0H405.0zM432.8 584.9H435.9V588.0H432.8zM457.6 584.9H460.7V588.0H457.6zM562.6 584.9H565.7V588.0H562.6zM593.5 584.9H599.7V588.0H593.5zM612.1 584.9H615.2V588.0H612.1zM751.1 584.9H754.2V588.0H751.1zM405.0 588.0H408.1V591.1H405.0zM432.8 588.0H435.9V591.1H432.8zM457.6 588.0H460.7V591.1H457.6zM612.1 588.0H615.2V591.1H612.1zM677.0 588.0H683.1V591.1H677.0zM751.1 588.0H754.2V591.1H751.1zM432.8 591.1H435.9V594.2H432.8zM457.6 591.1H463.7V594.2H457.6zM575.0 591.1H581.2V594.2H575.0zM627.5 591.1H643.0V594.2H627.5zM677.0 591.1H683.1V594.2H677.0zM751.1 591.1H754.2V594.2H751.1zM408.1 594.2H411.2V597.2H408.1zM435.9 594.2H451.4V597.2H435.9zM457.6 594.2H463.7V597.2H457.6zM534.8 594.2H544.1V597.2H534.8zM571.9 594.2H581.2V597.2H571.9zM627.5 594.2H658.4V597.2H627.5zM751.1 594.2H754.2V597.2H751.1zM408.1 597.2H411.2V600.3H408.1zM445.2 597.2H448.3V600.3H445.2zM457.6 597.2H460.7V600.3H457.6zM534.8 597.2H550.3V600.3H534.8zM571.9 597.2H587.3V600.3H571.9zM624.4 597.2H658.4V600.3H624.4zM751.1 597.2H754.2V600.3H751.1zM457.6 600.3H460.7V603.4H457.6zM534.8 600.3H550.3V603.4H534.8zM578.1 600.3H593.5V603.4H578.1zM627.5 600.3H646.1V603.4H627.5zM751.1 600.3H754.2V603.4H751.1zM411.2 603.4H414.3V606.5H411.2zM534.8 603.4H550.3V606.5H534.8zM578.1 603.4H602.8V606.5H578.1zM630.6 603.4H646.1V606.5H630.6zM751.1 603.4H754.2V606.5H751.1zM414.3 606.5H417.4V609.6H414.3zM534.8 606.5H550.3V609.6H534.8zM568.8 606.5H605.9V609.6H568.8zM630.6 606.5H636.8V609.6H630.6zM751.1 606.5H754.2V609.6H751.1zM414.3 609.6H420.5V612.6H414.3zM534.8 609.6H550.3V612.6H534.8zM562.6 609.6H605.9V612.6H562.6zM751.1 609.6H754.2V612.6H751.1zM417.4 612.6H426.7V615.7H417.4zM454.5 612.6H457.6V615.7H454.5zM534.8 612.6H553.4V615.7H534.8zM562.6 612.6H605.9V615.7H562.6zM751.1 612.6H754.2V615.7H751.1zM423.6 615.7H448.3V618.8H423.6zM534.8 615.7H605.9V618.8H534.8zM751.1 615.7H754.2V618.8H751.1zM534.8 618.8H605.9V621.9H534.8zM751.1 618.8H754.2V621.9H751.1zM531.7 621.9H605.9V625.0H531.7zM751.1 621.9H754.2V625.0H751.1zM531.7 625.0H605.9V628.0H531.7zM751.1 625.0H754.2V628.0H751.1zM531.7 628.0H605.9V631.1H531.7zM204.2 631.1H213.5V634.2H204.2zM531.7 631.1H602.8V634.2H531.7zM748.0 631.1H751.1V634.2H748.0zM194.9 634.2H201.1V637.3H194.9zM216.5 634.2H222.7V637.3H216.5zM346.3 634.2H355.6V637.3H346.3zM364.9 634.2H374.1V637.3H364.9zM531.7 634.2H602.8V637.3H531.7zM748.0 634.2H751.1V637.3H748.0zM191.8 637.3H194.9V640.4H191.8zM222.7 637.3H228.9V640.4H222.7zM340.1 637.3H346.3V640.4H340.1zM374.1 637.3H380.3V640.4H374.1zM531.7 637.3H602.8V640.4H531.7zM748.0 637.3H751.1V640.4H748.0zM185.6 640.4H191.8V643.4H185.6zM225.8 640.4H232.0V643.4H225.8zM337.1 640.4H340.1V643.4H337.1zM377.2 640.4H383.4V643.4H377.2zM528.6 640.4H602.8V643.4H528.6zM748.0 640.4H751.1V643.4H748.0zM185.6 643.4H188.7V646.5H185.6zM228.9 643.4H235.1V646.5H228.9zM334.0 643.4H340.1V646.5H334.0zM380.3 643.4H386.5V646.5H380.3zM528.6 643.4H602.8V646.5H528.6zM748.0 643.4H751.1V646.5H748.0zM182.6 646.5H185.6V649.6H182.6zM232.0 646.5H235.1V649.6H232.0zM334.0 646.5H337.1V649.6H334.0zM383.4 646.5H389.6V649.6H383.4zM528.6 646.5H602.8V649.6H528.6zM748.0 646.5H751.1V649.6H748.0zM182.6 649.6H185.6V652.7H182.6zM235.1 649.6H238.2V652.7H235.1zM330.9 649.6H334.0V652.7H330.9zM386.5 649.6H389.6V652.7H386.5zM528.6 649.6H599.7V652.7H528.6zM748.0 649.6H751.1V652.7H748.0zM179.5 652.7H185.6V655.8H179.5zM235.1 652.7H238.2V655.8H235.1zM330.9 652.7H334.0V655.8H330.9zM386.5 652.7H389.6V655.8H386.5zM525.5 652.7H599.7V655.8H525.5zM748.0 652.7H751.1V655.8H748.0zM179.5 655.8H182.6V658.8H179.5zM327.8 655.8H330.9V658.8H327.8zM386.5 655.8H392.7V658.8H386.5zM525.5 655.8H599.7V658.8H525.5zM748.0 655.8H751.1V658.8H748.0zM179.5 658.8H185.6V661.9H179.5zM198.0 658.8H204.2V661.9H198.0zM207.3 658.8H213.5V661.9H207.3zM238.2 658.8H241.3V661.9H238.2zM327.8 658.8H330.9V661.9H327.8zM358.7 658.8H371.0V661.9H358.7zM386.5 658.8H392.7V661.9H386.5zM525.5 658.8H599.7V661.9H525.5zM748.0 658.8H751.1V661.9H748.0zM179.5 661.9H185.6V665.0H179.5zM194.9 661.9H201.1V665.0H194.9zM210.4 661.9H213.5V665.0H210.4zM238.2 661.9H241.3V665.0H238.2zM327.8 661.9H330.9V665.0H327.8zM355.6 661.9H358.7V665.0H355.6zM368.0 661.9H374.1V665.0H368.0zM386.5 661.9H392.7V665.0H386.5zM522.5 661.9H575.0V665.0H522.5zM578.1 661.9H596.6V665.0H578.1zM179.5 665.0H198.0V668.1H179.5zM210.4 665.0H213.5V668.1H210.4zM238.2 665.0H241.3V668.1H238.2zM327.8 665.0H330.9V668.1H327.8zM355.6 665.0H358.7V668.1H355.6zM371.0 665.0H377.2V668.1H371.0zM386.5 665.0H389.6V668.1H386.5zM522.5 665.0H575.0V668.1H522.5zM578.1 665.0H596.6V668.1H578.1zM179.5 668.1H198.0V671.2H179.5zM210.4 668.1H213.5V671.2H210.4zM238.2 668.1H241.3V671.2H238.2zM355.6 668.1H358.7V671.2H355.6zM371.0 668.1H389.6V671.2H371.0zM525.5 668.1H575.0V671.2H525.5zM581.2 668.1H596.6V671.2H581.2zM744.9 668.1H748.0V671.2H744.9zM182.6 671.2H201.1V674.2H182.6zM204.2 671.2H210.4V674.2H204.2zM238.2 671.2H241.3V674.2H238.2zM358.7 671.2H389.6V674.2H358.7zM519.4 671.2H575.0V674.2H519.4zM578.1 671.2H596.6V674.2H578.1zM744.9 671.2H748.0V674.2H744.9zM182.6 674.2H207.3V677.3H182.6zM235.1 674.2H238.2V677.3H235.1zM330.9 674.2H334.0V677.3H330.9zM361.8 674.2H386.5V677.3H361.8zM519.4 674.2H581.2V677.3H519.4zM584.3 674.2H593.5V677.3H584.3zM744.9 674.2H748.0V677.3H744.9zM185.6 677.3H198.0V680.4H185.6zM235.1 677.3H238.2V680.4H235.1zM330.9 677.3H334.0V680.4H330.9zM371.0 677.3H383.4V680.4H371.0zM519.4 677.3H581.2V680.4H519.4zM188.7 680.4H194.9V683.5H188.7zM232.0 680.4H235.1V683.5H232.0zM334.0 680.4H337.1V683.5H334.0zM374.1 680.4H380.3V683.5H374.1zM516.3 680.4H581.2V683.5H516.3zM188.7 683.5H194.9V686.6H188.7zM228.9 683.5H232.0V686.6H228.9zM337.1 683.5H340.1V686.6H337.1zM371.0 683.5H380.3V686.6H371.0zM516.3 683.5H587.3V686.6H516.3zM741.8 683.5H744.9V686.6H741.8zM191.8 686.6H198.0V689.6H191.8zM225.8 686.6H232.0V689.6H225.8zM340.1 686.6H343.2V689.6H340.1zM371.0 686.6H377.2V689.6H371.0zM519.4 686.6H587.3V689.6H519.4zM741.8 686.6H744.9V689.6H741.8zM194.9 689.6H201.1V692.7H194.9zM219.6 689.6H225.8V692.7H219.6zM343.2 689.6H349.4V692.7H343.2zM364.9 689.6H374.1V692.7H364.9zM525.5 689.6H587.3V692.7H525.5zM741.8 689.6H744.9V692.7H741.8zM198.0 692.7H219.6V695.8H198.0zM346.3 692.7H371.0V695.8H346.3zM528.6 692.7H587.3V695.8H528.6zM741.8 692.7H744.9V695.8H741.8zM534.8 695.8H587.3V698.9H534.8zM738.8 695.8H741.8V698.9H738.8zM537.9 698.9H587.3V702.0H537.9zM544.1 702.0H584.3V705.0H544.1zM738.8 702.0H741.8V705.0H738.8zM547.2 705.0H584.3V708.1H547.2zM738.8 705.0H741.8V708.1H738.8zM553.4 708.1H584.3V711.2H553.4zM735.7 708.1H738.8V711.2H735.7zM201.1 711.2H213.5V714.3H201.1zM272.2 711.2H296.9V714.3H272.2zM355.6 711.2H368.0V714.3H355.6zM556.4 711.2H581.2V714.3H556.4zM735.7 711.2H738.8V714.3H735.7zM194.9 714.3H204.2V717.4H194.9zM213.5 714.3H225.8V717.4H213.5zM266.0 714.3H272.2V717.4H266.0zM296.9 714.3H306.2V717.4H296.9zM346.3 714.3H374.1V717.4H346.3zM559.5 714.3H581.2V717.4H559.5zM188.7 717.4H198.0V720.4H188.7zM219.6 717.4H228.9V720.4H219.6zM262.9 717.4H266.0V720.4H262.9zM300.0 717.4H306.2V720.4H300.0zM340.1 717.4H349.4V720.4H340.1zM371.0 717.4H377.2V720.4H371.0zM565.7 717.4H578.1V720.4H565.7zM732.6 717.4H735.7V720.4H732.6zM185.6 720.4H191.8V723.5H185.6zM225.8 720.4H232.0V723.5H225.8zM259.8 720.4H262.9V723.5H259.8zM306.2 720.4H309.2V723.5H306.2zM337.1 720.4H343.2V723.5H337.1zM374.1 720.4H380.3V723.5H374.1zM568.8 720.4H578.1V723.5H568.8zM228.9 723.5H232.0V726.6H228.9zM259.8 723.5H262.9V726.6H259.8zM306.2 723.5H312.3V726.6H306.2zM337.1 723.5H340.1V726.6H337.1zM377.2 723.5H380.3V726.6H377.2zM571.9 723.5H575.0V726.6H571.9zM729.5 723.5H732.6V726.6H729.5zM228.9 726.6H235.1V729.7H228.9zM256.7 726.6H259.8V729.7H256.7zM309.2 726.6H312.3V729.7H309.2zM334.0 726.6H340.1V729.7H334.0zM729.5 726.6H732.6V729.7H729.5zM232.0 729.7H235.1V732.8H232.0zM256.7 729.7H259.8V732.8H256.7zM312.3 729.7H315.4V732.8H312.3zM334.0 729.7H337.1V732.8H334.0zM726.4 729.7H729.5V732.8H726.4zM204.2 732.8H213.5V735.8H204.2zM232.0 732.8H238.2V735.8H232.0zM253.6 732.8H256.7V735.8H253.6zM312.3 732.8H315.4V735.8H312.3zM334.0 732.8H337.1V735.8H334.0zM358.7 732.8H364.9V735.8H358.7zM726.4 732.8H729.5V735.8H726.4zM207.3 735.8H213.5V738.9H207.3zM235.1 735.8H238.2V738.9H235.1zM253.6 735.8H256.7V738.9H253.6zM278.3 735.8H293.8V738.9H278.3zM312.3 735.8H315.4V738.9H312.3zM330.9 735.8H337.1V738.9H330.9zM355.6 735.8H361.8V738.9H355.6zM726.4 735.8H729.5V738.9H726.4zM235.1 738.9H238.2V742.0H235.1zM253.6 738.9H256.7V742.0H253.6zM275.3 738.9H278.3V742.0H275.3zM290.7 738.9H293.8V742.0H290.7zM312.3 738.9H315.4V742.0H312.3zM330.9 738.9H337.1V742.0H330.9zM352.5 738.9H355.6V742.0H352.5zM723.3 738.9H726.4V742.0H723.3zM235.1 742.0H238.2V745.1H235.1zM253.6 742.0H256.7V745.1H253.6zM275.3 742.0H278.3V745.1H275.3zM293.8 742.0H296.9V745.1H293.8zM312.3 742.0H315.4V745.1H312.3zM330.9 742.0H334.0V745.1H330.9zM723.3 742.0H726.4V745.1H723.3zM232.0 745.1H238.2V748.2H232.0zM253.6 745.1H259.8V748.2H253.6zM275.3 745.1H278.3V748.2H275.3zM293.8 745.1H296.9V748.2H293.8zM312.3 745.1H315.4V748.2H312.3zM330.9 745.1H334.0V748.2H330.9zM723.3 745.1H726.4V748.2H723.3zM256.7 748.2H259.8V751.2H256.7zM275.3 748.2H278.3V751.2H275.3zM293.8 748.2H296.9V751.2H293.8zM309.2 748.2H315.4V751.2H309.2zM723.3 748.2H726.4V751.2H723.3zM256.7 751.2H259.8V754.3H256.7zM275.3 751.2H278.3V754.3H275.3zM293.8 751.2H300.0V754.3H293.8zM309.2 751.2H315.4V754.3H309.2zM720.2 754.3H723.3V757.4H720.2zM720.2 757.4H723.3V760.5H720.2zM717.1 760.5H720.2V763.6H717.1zM717.1 763.6H720.2V766.6H717.1zM714.0 766.6H717.1V769.7H714.0zM710.9 772.8H714.0V775.9H710.9zM710.9 775.9H714.0V779.0H710.9zM707.9 782.0H710.9V785.1H707.9zM707.9 785.1H710.9V788.2H707.9zM704.8 788.2H707.9V791.3H704.8zM704.8 791.3H707.9V794.4H704.8zM701.7 794.4H704.8V797.4H701.7zM698.6 800.5H701.7V803.6H698.6zM695.5 803.6H698.6V806.7H695.5zM695.5 806.7H698.6V809.8H695.5zM692.4 809.8H695.5V812.8H692.4zM689.3 812.8H692.4V815.9H689.3zM689.3 815.9H692.4V819.0H689.3zM686.2 819.0H689.3V822.1H686.2zM683.1 822.1H686.2V825.2H683.1zM683.1 825.2H686.2V828.2H683.1zM680.0 828.2H683.1V831.3H680.0zM677.0 831.3H680.0V834.4H677.0zM673.9 834.4H677.0V837.5H673.9zM670.8 837.5H673.9V840.6H670.8z"/><path fill="rgb(56,183,173)" stroke="rgb(56,183,173)" stroke-width="0.4" d="M201.1 129.1H210.4V132.2H201.1zM228.9 129.1H238.2V132.2H228.9zM241.3 129.1H250.5V132.2H241.3zM256.7 129.1H266.0V132.2H256.7zM188.7 132.2H194.9V135.2H188.7zM201.1 132.2H210.4V135.2H201.1zM213.5 132.2H222.7V135.2H213.5zM225.8 132.2H235.1V135.2H225.8zM241.3 132.2H250.5V135.2H241.3zM253.6 132.2H266.0V135.2H253.6zM269.1 132.2H278.3V135.2H269.1zM185.6 135.2H194.9V138.3H185.6zM228.9 135.2H232.0V138.3H228.9zM253.6 135.2H262.9V138.3H253.6zM269.1 135.2H278.3V138.3H269.1zM281.4 135.2H293.8V138.3H281.4zM173.3 138.3H179.5V141.4H173.3zM185.6 138.3H188.7V141.4H185.6zM259.8 138.3H262.9V141.4H259.8zM266.0 138.3H278.3V141.4H266.0zM281.4 138.3H290.7V141.4H281.4zM296.9 138.3H306.2V141.4H296.9zM312.3 138.3H315.4V141.4H312.3zM327.8 138.3H334.0V141.4H327.8zM170.2 141.4H179.5V144.5H170.2zM281.4 141.4H290.7V144.5H281.4zM293.8 141.4H306.2V144.5H293.8zM309.2 141.4H318.5V144.5H309.2zM324.7 141.4H340.1V144.5H324.7zM170.2 144.5H179.5V147.6H170.2zM293.8 144.5H303.1V147.6H293.8zM309.2 144.5H318.5V147.6H309.2zM324.7 144.5H343.2V147.6H324.7zM358.7 144.5H361.8V147.6H358.7zM170.2 147.6H179.5V150.6H170.2zM309.2 147.6H318.5V150.6H309.2zM321.6 147.6H374.1V150.6H321.6zM170.2 150.6H176.4V153.7H170.2zM334.0 150.6H386.5V153.7H334.0zM170.2 153.7H176.4V156.8H170.2zM334.0 153.7H398.9V156.8H334.0zM167.1 156.8H176.4V159.9H167.1zM337.1 156.8H340.1V159.9H337.1zM346.3 156.8H349.4V159.9H346.3zM371.0 156.8H408.1V159.9H371.0zM167.1 159.9H176.4V163.0H167.1zM386.5 159.9H423.6V163.0H386.5zM167.1 163.0H176.4V166.0H167.1zM392.7 163.0H429.8V166.0H392.7zM167.1 166.0H173.3V169.1H167.1zM179.5 166.0H182.6V169.1H179.5zM401.9 166.0H432.8V169.1H401.9zM167.1 169.1H173.3V172.2H167.1zM179.5 169.1H185.6V172.2H179.5zM420.5 169.1H439.0V172.2H420.5zM167.1 172.2H173.3V175.3H167.1zM176.4 172.2H182.6V175.3H176.4zM296.9 172.2H306.2V175.3H296.9zM312.3 172.2H321.6V175.3H312.3zM324.7 172.2H327.8V175.3H324.7zM330.9 172.2H343.2V175.3H330.9zM361.8 172.2H364.9V175.3H361.8zM426.7 172.2H445.2V175.3H426.7zM164.0 175.3H173.3V178.4H164.0zM176.4 175.3H182.6V178.4H176.4zM284.5 175.3H290.7V178.4H284.5zM293.8 175.3H306.2V178.4H293.8zM309.2 175.3H346.3V178.4H309.2zM358.7 175.3H368.0V178.4H358.7zM426.7 175.3H451.4V178.4H426.7zM164.0 178.4H173.3V181.4H164.0zM176.4 178.4H185.6V181.4H176.4zM281.4 178.4H290.7V181.4H281.4zM293.8 178.4H303.1V181.4H293.8zM309.2 178.4H368.0V181.4H309.2zM432.8 178.4H454.5V181.4H432.8zM164.0 181.4H170.2V184.5H164.0zM176.4 181.4H182.6V184.5H176.4zM278.3 181.4H287.6V184.5H278.3zM293.8 181.4H303.1V184.5H293.8zM306.2 181.4H377.2V184.5H306.2zM439.0 181.4H457.6V184.5H439.0zM164.0 184.5H170.2V187.6H164.0zM176.4 184.5H182.6V187.6H176.4zM253.6 184.5H259.8V187.6H253.6zM318.5 184.5H395.8V187.6H318.5zM439.0 184.5H457.6V187.6H439.0zM164.0 187.6H170.2V190.7H164.0zM173.3 187.6H182.6V190.7H173.3zM225.8 187.6H228.9V190.7H225.8zM346.3 187.6H414.3V190.7H346.3zM432.8 187.6H460.7V190.7H432.8zM164.0 190.7H170.2V193.8H164.0zM173.3 190.7H182.6V193.8H173.3zM358.7 190.7H420.5V193.8H358.7zM429.8 190.7H460.7V193.8H429.8zM173.3 193.8H182.6V196.8H173.3zM185.6 193.8H191.8V196.8H185.6zM374.1 193.8H460.7V196.8H374.1zM173.3 196.8H179.5V199.9H173.3zM386.5 196.8H389.6V199.9H386.5zM392.7 196.8H460.7V199.9H392.7zM401.9 199.9H460.7V203.0H401.9zM408.1 203.0H457.6V206.1H408.1zM417.4 206.1H429.8V209.2H417.4zM439.0 206.1H454.5V209.2H439.0zM408.1 209.2H411.2V212.2H408.1zM405.0 212.2H417.4V215.3H405.0zM398.9 215.3H426.7V218.4H398.9zM386.5 218.4H435.9V221.5H386.5zM386.5 221.5H442.1V224.6H386.5zM386.5 224.6H445.2V227.6H386.5zM386.5 227.6H445.2V230.7H386.5zM401.9 230.7H451.4V233.8H401.9zM405.0 233.8H451.4V236.9H405.0zM411.2 236.9H463.7V240.0H411.2zM414.3 240.0H466.8V243.0H414.3zM423.6 243.0H473.0V246.1H423.6zM432.8 246.1H476.1V249.2H432.8zM442.1 249.2H479.2V252.3H442.1zM466.8 252.3H482.3V255.4H466.8zM469.9 255.4H482.3V258.4H469.9zM476.1 258.4H482.3V261.5H476.1zM213.5 646.5H219.6V649.6H213.5zM346.3 646.5H355.6V649.6H346.3zM213.5 649.6H225.8V652.7H213.5zM343.2 649.6H355.6V652.7H343.2zM216.5 652.7H225.8V655.8H216.5zM340.1 652.7H352.5V655.8H340.1zM219.6 655.8H228.9V658.8H219.6zM340.1 655.8H352.5V658.8H340.1zM219.6 658.8H228.9V661.9H219.6zM337.1 658.8H349.4V661.9H337.1zM222.7 661.9H228.9V665.0H222.7zM337.1 661.9H349.4V665.0H337.1zM222.7 665.0H228.9V668.1H222.7zM337.1 665.0H349.4V668.1H337.1zM340.1 668.1H349.4V671.2H340.1zM343.2 671.2H346.3V674.2H343.2z"/><path fill="rgb(64,97,244)" stroke="rgb(64,97,244)" stroke-width="0.4" d="M482.3 159.9H485.4V163.0H482.3zM485.4 163.0H491.6V166.0H485.4zM491.6 166.0H497.7V169.1H491.6zM494.6 169.1H503.9V172.2H494.6zM500.8 172.2H507.0V175.3H500.8zM507.0 175.3H513.2V178.4H507.0zM513.2 178.4H519.4V181.4H513.2zM519.4 181.4H525.5V184.5H519.4zM522.5 184.5H528.6V187.6H522.5zM528.6 187.6H534.8V190.7H528.6zM531.7 190.7H541.0V193.8H531.7zM534.8 193.8H544.1V196.8H534.8zM537.9 196.8H550.3V199.9H537.9zM541.0 199.9H553.4V203.0H541.0zM547.2 203.0H559.5V206.1H547.2zM550.3 206.1H562.6V209.2H550.3zM553.4 209.2H565.7V212.2H553.4zM559.5 212.2H571.9V215.3H559.5zM562.6 215.3H575.0V218.4H562.6zM565.7 218.4H578.1V221.5H565.7zM568.8 221.5H581.2V224.6H568.8zM571.9 224.6H587.3V227.6H571.9zM578.1 227.6H590.4V230.7H578.1zM581.2 230.7H593.5V233.8H581.2zM584.3 233.8H596.6V236.9H584.3zM587.3 236.9H599.7V240.0H587.3zM590.4 240.0H602.8V243.0H590.4zM593.5 243.0H609.0V246.1H593.5zM596.6 246.1H612.1V249.2H596.6zM599.7 249.2H615.2V252.3H599.7zM602.8 252.3H618.2V255.4H602.8zM605.9 255.4H621.3V258.4H605.9zM609.0 258.4H624.4V261.5H609.0zM612.1 261.5H627.5V264.6H612.1zM615.2 264.6H630.6V267.7H615.2zM618.2 267.7H630.6V270.8H618.2zM621.3 270.8H633.7V273.8H621.3zM621.3 273.8H636.8V276.9H621.3zM624.4 276.9H639.9V280.0H624.4zM627.5 280.0H643.0V283.1H627.5zM630.6 283.1H646.1V286.2H630.6zM630.6 286.2H649.1V289.2H630.6zM633.7 289.2H652.2V292.3H633.7zM636.8 292.3H652.2V295.4H636.8zM639.9 295.4H655.3V298.5H639.9zM643.0 298.5H658.4V301.6H643.0zM646.1 301.6H661.5V304.6H646.1zM649.1 304.6H661.5V307.7H649.1zM652.2 307.7H664.6V310.8H652.2zM655.3 310.8H667.7V313.9H655.3zM655.3 313.9H670.8V317.0H655.3zM658.4 317.0H670.8V320.0H658.4zM661.5 320.0H673.9V323.1H661.5zM661.5 323.1H677.0V326.2H661.5zM664.6 326.2H677.0V329.3H664.6zM667.7 329.3H680.0V332.4H667.7zM670.8 332.4H683.1V335.4H670.8zM673.9 335.4H683.1V338.5H673.9zM673.9 338.5H686.2V341.6H673.9zM677.0 341.6H689.3V344.7H677.0zM680.0 344.7H689.3V347.8H680.0zM680.0 347.8H692.4V350.8H680.0zM683.1 350.8H692.4V353.9H683.1zM683.1 353.9H695.5V357.0H683.1zM686.2 357.0H695.5V360.1H686.2zM689.3 360.1H698.6V363.2H689.3zM689.3 363.2H701.7V366.2H689.3zM692.4 366.2H701.7V369.3H692.4zM695.5 369.3H704.8V372.4H695.5zM695.5 372.4H704.8V375.5H695.5zM698.6 375.5H707.9V378.6H698.6zM698.6 378.6H707.9V381.6H698.6zM701.7 381.6H710.9V384.7H701.7zM701.7 384.7H710.9V387.8H701.7zM704.8 387.8H714.0V390.9H704.8zM704.8 390.9H714.0V394.0H704.8zM707.9 394.0H717.1V397.0H707.9zM707.9 397.0H717.1V400.1H707.9zM710.9 400.1H717.1V403.2H710.9zM714.0 403.2H720.2V406.3H714.0zM714.0 406.3H720.2V409.4H714.0zM717.1 409.4H723.3V412.4H717.1zM717.1 412.4H723.3V415.5H717.1zM720.2 415.5H723.3V418.6H720.2zM723.3 418.6H726.4V421.7H723.3zM723.3 421.7H726.4V424.8H723.3zM726.4 424.8H729.5V427.8H726.4zM726.4 427.8H729.5V430.9H726.4zM729.5 434.0H732.6V437.1H729.5zM729.5 437.1H732.6V440.2H729.5zM732.6 443.2H735.7V446.3H732.6zM732.6 446.3H735.7V449.4H732.6zM735.7 452.5H738.8V455.6H735.7zM735.7 455.6H738.8V458.6H735.7zM738.8 464.8H741.8V467.9H738.8zM744.9 489.4H748.0V492.5H744.9zM735.7 720.4H738.8V723.5H735.7zM732.6 729.7H735.7V732.8H732.6zM729.5 738.9H732.6V742.0H729.5zM726.4 748.2H729.5V751.2H726.4zM717.1 772.8H720.2V775.9H717.1zM714.0 779.0H717.1V782.0H714.0zM710.9 785.1H714.0V788.2H710.9zM707.9 791.3H710.9V794.4H707.9zM698.6 809.8H701.7V812.8H698.6zM695.5 812.8H698.6V815.9H695.5zM695.5 815.9H698.6V819.0H695.5zM692.4 819.0H695.5V822.1H692.4zM689.3 822.1H692.4V825.2H689.3zM689.3 825.2H692.4V828.2H689.3zM686.2 828.2H689.3V831.3H686.2zM686.2 831.3H689.3V834.4H686.2zM683.1 834.4H686.2V837.5H683.1zM677.0 840.6H683.1V843.6H677.0zM677.0 843.6H680.0V846.7H677.0zM677.0 846.7H680.0V849.8H677.0z"/><path fill="rgb(48,132,243)" stroke="rgb(48,132,243)" stroke-width="0.4" d="M275.3 116.8H281.4V119.8H275.3zM287.6 119.8H293.8V122.9H287.6zM312.3 119.8H315.4V122.9H312.3zM318.5 119.8H321.6V122.9H318.5zM324.7 119.8H327.8V122.9H324.7zM334.0 122.9H337.1V126.0H334.0zM340.1 122.9H349.4V126.0H340.1zM352.5 126.0H368.0V129.1H352.5zM371.0 129.1H386.5V132.2H371.0zM389.6 132.2H398.9V135.2H389.6zM398.9 135.2H411.2V138.3H398.9zM411.2 138.3H420.5V141.4H411.2zM420.5 141.4H426.7V144.5H420.5zM429.8 144.5H435.9V147.6H429.8zM435.9 147.6H445.2V150.6H435.9zM448.3 150.6H454.5V153.7H448.3zM454.5 153.7H460.7V156.8H454.5zM460.7 156.8H469.9V159.9H460.7zM469.9 159.9H473.0V163.0H469.9zM473.0 163.0H479.2V166.0H473.0zM476.1 166.0H482.3V169.1H476.1zM482.3 169.1H488.5V172.2H482.3zM488.5 172.2H491.6V175.3H488.5zM491.6 175.3H497.7V178.4H491.6zM497.7 178.4H500.8V181.4H497.7zM500.8 181.4H507.0V184.5H500.8zM503.9 184.5H510.1V187.6H503.9zM510.1 187.6H516.3V190.7H510.1zM513.2 190.7H519.4V193.8H513.2zM516.3 193.8H522.5V196.8H516.3zM519.4 196.8H522.5V199.9H519.4zM519.4 199.9H528.6V203.0H519.4zM522.5 203.0H528.6V206.1H522.5zM522.5 206.1H528.6V209.2H522.5zM519.4 209.2H528.6V212.2H519.4zM519.4 212.2H528.6V215.3H519.4zM519.4 215.3H531.7V218.4H519.4zM519.4 218.4H531.7V221.5H519.4zM516.3 221.5H531.7V224.6H516.3zM513.2 224.6H531.7V227.6H513.2zM510.1 227.6H531.7V230.7H510.1zM510.1 230.7H528.6V233.8H510.1zM507.0 233.8H528.6V236.9H507.0zM503.9 236.9H525.5V240.0H503.9zM500.8 240.0H522.5V243.0H500.8zM500.8 243.0H519.4V246.1H500.8zM503.9 246.1H516.3V249.2H503.9zM507.0 249.2H510.1V252.3H507.0zM510.1 252.3H516.3V255.4H510.1zM516.3 255.4H519.4V258.4H516.3zM519.4 258.4H522.5V261.5H519.4zM522.5 261.5H525.5V264.6H522.5zM247.4 267.7H253.6V270.8H247.4zM312.3 267.7H324.7V270.8H312.3zM225.8 270.8H228.9V273.8H225.8zM534.8 270.8H537.9V273.8H534.8zM210.4 273.8H213.5V276.9H210.4zM216.5 273.8H219.6V276.9H216.5zM201.1 276.9H207.3V280.0H201.1zM368.0 276.9H371.0V280.0H368.0zM188.7 280.0H198.0V283.1H188.7zM179.5 283.1H185.6V286.2H179.5zM170.2 286.2H176.4V289.2H170.2zM182.6 286.2H185.6V289.2H182.6zM445.2 286.2H457.6V289.2H445.2zM420.5 289.2H423.6V292.3H420.5zM439.0 289.2H460.7V292.3H439.0zM426.7 292.3H429.8V295.4H426.7zM435.9 292.3H469.9V295.4H435.9zM432.8 295.4H479.2V298.5H432.8zM439.0 298.5H482.3V301.6H439.0zM445.2 301.6H488.5V304.6H445.2zM216.5 304.6H222.7V307.7H216.5zM232.0 304.6H235.1V307.7H232.0zM451.4 304.6H494.6V307.7H451.4zM204.2 307.7H213.5V310.8H204.2zM216.5 307.7H222.7V310.8H216.5zM228.9 307.7H235.1V310.8H228.9zM238.2 307.7H244.4V310.8H238.2zM454.5 307.7H497.7V310.8H454.5zM185.6 310.8H191.8V313.9H185.6zM201.1 310.8H225.8V313.9H201.1zM232.0 310.8H235.1V313.9H232.0zM238.2 310.8H244.4V313.9H238.2zM485.4 310.8H500.8V313.9H485.4zM182.6 313.9H232.0V317.0H182.6zM241.3 313.9H244.4V317.0H241.3zM303.1 313.9H309.2V317.0H303.1zM491.6 313.9H507.0V317.0H491.6zM182.6 317.0H207.3V320.0H182.6zM213.5 317.0H232.0V320.0H213.5zM296.9 317.0H309.2V320.0H296.9zM494.6 317.0H510.1V320.0H494.6zM182.6 320.0H207.3V323.1H182.6zM213.5 320.0H232.0V323.1H213.5zM296.9 320.0H306.2V323.1H296.9zM497.7 320.0H513.2V323.1H497.7zM185.6 323.1H198.0V326.2H185.6zM213.5 323.1H232.0V326.2H213.5zM497.7 323.1H519.4V326.2H497.7zM188.7 326.2H198.0V329.3H188.7zM213.5 326.2H232.0V329.3H213.5zM507.0 326.2H522.5V329.3H507.0zM188.7 329.3H232.0V332.4H188.7zM513.2 329.3H525.5V332.4H513.2zM191.8 332.4H201.1V335.4H191.8zM204.2 332.4H232.0V335.4H204.2zM519.4 332.4H528.6V335.4H519.4zM194.9 335.4H235.1V338.5H194.9zM522.5 335.4H531.7V338.5H522.5zM191.8 338.5H204.2V341.6H191.8zM216.5 338.5H238.2V341.6H216.5zM522.5 338.5H531.7V341.6H522.5zM194.9 341.6H201.1V344.7H194.9zM219.6 341.6H228.9V344.7H219.6zM522.5 341.6H537.9V344.7H522.5zM525.5 344.7H541.0V347.8H525.5zM528.6 347.8H544.1V350.8H528.6zM531.7 350.8H547.2V353.9H531.7zM531.7 353.9H550.3V357.0H531.7zM534.8 357.0H553.4V360.1H534.8zM537.9 360.1H556.4V363.2H537.9zM534.8 363.2H556.4V366.2H534.8zM537.9 366.2H559.5V369.3H537.9zM547.2 369.3H562.6V372.4H547.2zM550.3 372.4H565.7V375.5H550.3zM553.4 375.5H568.8V378.6H553.4zM556.4 378.6H568.8V381.6H556.4zM556.4 381.6H571.9V384.7H556.4zM559.5 384.7H571.9V387.8H559.5zM562.6 387.8H575.0V390.9H562.6zM565.7 390.9H578.1V394.0H565.7zM568.8 394.0H578.1V397.0H568.8zM568.8 397.0H581.2V400.1H568.8zM568.8 400.1H584.3V403.2H568.8zM673.9 400.1H677.0V403.2H673.9zM571.9 403.2H587.3V406.3H571.9zM667.7 403.2H692.4V406.3H667.7zM575.0 406.3H590.4V409.4H575.0zM667.7 406.3H698.6V409.4H667.7zM575.0 409.4H590.4V412.4H575.0zM664.6 409.4H704.8V412.4H664.6zM578.1 412.4H593.5V415.5H578.1zM649.1 412.4H652.2V415.5H649.1zM664.6 412.4H707.9V415.5H664.6zM584.3 415.5H593.5V418.6H584.3zM664.6 415.5H683.1V418.6H664.6zM695.5 415.5H710.9V418.6H695.5zM587.3 418.6H593.5V421.7H587.3zM652.2 418.6H655.3V421.7H652.2zM664.6 418.6H677.0V421.7H664.6zM701.7 418.6H714.0V421.7H701.7zM296.9 421.7H306.2V424.8H296.9zM587.3 421.7H596.6V424.8H587.3zM652.2 421.7H655.3V424.8H652.2zM661.5 421.7H673.9V424.8H661.5zM707.9 421.7H714.0V424.8H707.9zM259.8 424.8H272.2V427.8H259.8zM296.9 424.8H309.2V427.8H296.9zM587.3 424.8H599.7V427.8H587.3zM655.3 424.8H670.8V427.8H655.3zM710.9 424.8H717.1V427.8H710.9zM259.8 427.8H272.2V430.9H259.8zM296.9 427.8H312.3V430.9H296.9zM587.3 427.8H599.7V430.9H587.3zM655.3 427.8H670.8V430.9H655.3zM714.0 427.8H720.2V430.9H714.0zM259.8 430.9H272.2V434.0H259.8zM296.9 430.9H312.3V434.0H296.9zM587.3 430.9H599.7V434.0H587.3zM658.4 430.9H670.8V434.0H658.4zM717.1 430.9H720.2V434.0H717.1zM259.8 434.0H272.2V437.1H259.8zM296.9 434.0H300.0V437.1H296.9zM306.2 434.0H312.3V437.1H306.2zM590.4 434.0H602.8V437.1H590.4zM658.4 434.0H667.7V437.1H658.4zM720.2 434.0H723.3V437.1H720.2zM259.8 437.1H262.9V440.2H259.8zM269.1 437.1H275.3V440.2H269.1zM293.8 437.1H296.9V440.2H293.8zM306.2 437.1H312.3V440.2H306.2zM590.4 437.1H602.8V440.2H590.4zM661.5 437.1H667.7V440.2H661.5zM720.2 437.1H723.3V440.2H720.2zM259.8 440.2H262.9V443.2H259.8zM272.2 440.2H278.3V443.2H272.2zM290.7 440.2H293.8V443.2H290.7zM306.2 440.2H312.3V443.2H306.2zM593.5 440.2H605.9V443.2H593.5zM259.8 443.2H262.9V446.3H259.8zM278.3 443.2H290.7V446.3H278.3zM306.2 443.2H309.2V446.3H306.2zM596.6 443.2H609.0V446.3H596.6zM723.3 443.2H726.4V446.3H723.3zM259.8 446.3H266.0V449.4H259.8zM306.2 446.3H309.2V449.4H306.2zM596.6 446.3H609.0V449.4H596.6zM723.3 446.3H726.4V449.4H723.3zM262.9 449.4H266.0V452.5H262.9zM303.1 449.4H309.2V452.5H303.1zM596.6 449.4H609.0V452.5H596.6zM726.4 449.4H729.5V452.5H726.4zM266.0 452.5H269.1V455.6H266.0zM300.0 452.5H306.2V455.6H300.0zM596.6 452.5H609.0V455.6H596.6zM726.4 452.5H729.5V455.6H726.4zM269.1 455.6H272.2V458.6H269.1zM296.9 455.6H303.1V458.6H296.9zM596.6 455.6H609.0V458.6H596.6zM726.4 455.6H729.5V458.6H726.4zM272.2 458.6H281.4V461.7H272.2zM287.6 458.6H296.9V461.7H287.6zM596.6 458.6H612.1V461.7H596.6zM729.5 458.6H732.6V461.7H729.5zM596.6 461.7H612.1V464.8H596.6zM729.5 461.7H732.6V464.8H729.5zM602.8 464.8H615.2V467.9H602.8zM729.5 464.8H732.6V467.9H729.5zM602.8 467.9H615.2V471.0H602.8zM732.6 467.9H735.7V471.0H732.6zM605.9 471.0H618.2V474.0H605.9zM732.6 471.0H735.7V474.0H732.6zM605.9 474.0H618.2V477.1H605.9zM732.6 474.0H735.7V477.1H732.6zM605.9 477.1H621.3V480.2H605.9zM735.7 477.1H738.8V480.2H735.7zM605.9 480.2H621.3V483.3H605.9zM735.7 480.2H738.8V483.3H735.7zM609.0 483.3H624.4V486.4H609.0zM735.7 483.3H738.8V486.4H735.7zM609.0 486.4H624.4V489.4H609.0zM738.8 486.4H741.8V489.4H738.8zM346.3 489.4H361.8V492.5H346.3zM612.1 489.4H627.5V492.5H612.1zM738.8 489.4H741.8V492.5H738.8zM340.1 492.5H361.8V495.6H340.1zM612.1 492.5H627.5V495.6H612.1zM738.8 492.5H741.8V495.6H738.8zM337.1 495.6H343.2V498.7H337.1zM352.5 495.6H358.7V498.7H352.5zM612.1 495.6H627.5V498.7H612.1zM738.8 495.6H741.8V498.7H738.8zM337.1 498.7H340.1V501.8H337.1zM352.5 498.7H355.6V501.8H352.5zM612.1 498.7H630.6V501.8H612.1zM738.8 498.7H744.9V501.8H738.8zM334.0 501.8H337.1V504.8H334.0zM352.5 501.8H355.6V504.8H352.5zM377.2 501.8H383.4V504.8H377.2zM612.1 501.8H630.6V504.8H612.1zM741.8 501.8H744.9V504.8H741.8zM334.0 504.8H337.1V507.9H334.0zM352.5 504.8H355.6V507.9H352.5zM374.1 504.8H386.5V507.9H374.1zM615.2 504.8H633.7V507.9H615.2zM741.8 504.8H744.9V507.9H741.8zM374.1 507.9H386.5V511.0H374.1zM618.2 507.9H633.7V511.0H618.2zM741.8 507.9H744.9V511.0H741.8zM352.5 511.0H355.6V514.1H352.5zM374.1 511.0H377.2V514.1H374.1zM383.4 511.0H389.6V514.1H383.4zM621.3 511.0H636.8V514.1H621.3zM741.8 511.0H744.9V514.1H741.8zM352.5 514.1H355.6V517.2H352.5zM371.0 514.1H374.1V517.2H371.0zM383.4 514.1H389.6V517.2H383.4zM624.4 514.1H636.8V517.2H624.4zM741.8 514.1H744.9V517.2H741.8zM355.6 517.2H361.8V520.2H355.6zM364.9 517.2H371.0V520.2H364.9zM383.4 517.2H386.5V520.2H383.4zM627.5 517.2H639.9V520.2H627.5zM744.9 517.2H748.0V520.2H744.9zM334.0 520.2H337.1V523.3H334.0zM383.4 520.2H386.5V523.3H383.4zM627.5 520.2H639.9V523.3H627.5zM744.9 520.2H748.0V523.3H744.9zM334.0 523.3H337.1V526.4H334.0zM383.4 523.3H386.5V526.4H383.4zM627.5 523.3H643.0V526.4H627.5zM744.9 523.3H748.0V526.4H744.9zM337.1 526.4H340.1V529.5H337.1zM380.3 526.4H383.4V529.5H380.3zM630.6 526.4H646.1V529.5H630.6zM744.9 526.4H748.0V529.5H744.9zM340.1 529.5H343.2V532.6H340.1zM380.3 529.5H383.4V532.6H380.3zM630.6 529.5H649.1V532.6H630.6zM744.9 529.5H748.0V532.6H744.9zM343.2 532.6H346.3V535.6H343.2zM377.2 532.6H380.3V535.6H377.2zM633.7 532.6H655.3V535.6H633.7zM673.9 532.6H677.0V535.6H673.9zM744.9 532.6H748.0V535.6H744.9zM346.3 535.6H352.5V538.7H346.3zM371.0 535.6H377.2V538.7H371.0zM633.7 535.6H655.3V538.7H633.7zM670.8 535.6H680.0V538.7H670.8zM744.9 535.6H748.0V538.7H744.9zM352.5 538.7H371.0V541.8H352.5zM636.8 538.7H680.0V541.8H636.8zM744.9 538.7H748.0V541.8H744.9zM636.8 541.8H680.0V544.9H636.8zM744.9 541.8H751.1V544.9H744.9zM639.9 544.9H680.0V548.0H639.9zM744.9 544.9H751.1V548.0H744.9zM639.9 548.0H680.0V551.0H639.9zM748.0 548.0H751.1V551.0H748.0zM639.9 551.0H683.1V554.1H639.9zM748.0 551.0H751.1V554.1H748.0zM643.0 554.1H683.1V557.2H643.0zM748.0 554.1H751.1V557.2H748.0zM646.1 557.2H649.1V560.3H646.1zM652.2 557.2H683.1V560.3H652.2zM748.0 557.2H751.1V560.3H748.0zM429.8 560.3H448.3V563.4H429.8zM643.0 560.3H649.1V563.4H643.0zM652.2 560.3H683.1V563.4H652.2zM748.0 560.3H751.1V563.4H748.0zM420.5 563.4H426.7V566.4H420.5zM445.2 563.4H451.4V566.4H445.2zM643.0 563.4H649.1V566.4H643.0zM655.3 563.4H673.9V566.4H655.3zM680.0 563.4H683.1V566.4H680.0zM748.0 563.4H751.1V566.4H748.0zM417.4 566.4H420.5V569.5H417.4zM448.3 566.4H451.4V569.5H448.3zM636.8 566.4H673.9V569.5H636.8zM680.0 566.4H683.1V569.5H680.0zM748.0 566.4H751.1V569.5H748.0zM414.3 569.5H417.4V572.6H414.3zM448.3 569.5H451.4V572.6H448.3zM636.8 569.5H683.1V572.6H636.8zM748.0 569.5H751.1V572.6H748.0zM445.2 572.6H451.4V575.7H445.2zM633.7 572.6H683.1V575.7H633.7zM748.0 572.6H751.1V575.7H748.0zM411.2 575.7H414.3V578.8H411.2zM435.9 575.7H445.2V578.8H435.9zM630.6 575.7H683.1V578.8H630.6zM748.0 575.7H751.1V578.8H748.0zM432.8 578.8H435.9V581.8H432.8zM627.5 578.8H683.1V581.8H627.5zM748.0 578.8H751.1V581.8H748.0zM408.1 581.8H411.2V584.9H408.1zM429.8 581.8H432.8V584.9H429.8zM618.2 581.8H683.1V584.9H618.2zM748.0 581.8H751.1V584.9H748.0zM408.1 584.9H411.2V588.0H408.1zM429.8 584.9H432.8V588.0H429.8zM615.2 584.9H683.1V588.0H615.2zM748.0 584.9H751.1V588.0H748.0zM408.1 588.0H411.2V591.1H408.1zM429.8 588.0H432.8V591.1H429.8zM615.2 588.0H677.0V591.1H615.2zM748.0 588.0H751.1V591.1H748.0zM408.1 591.1H411.2V594.2H408.1zM429.8 591.1H432.8V594.2H429.8zM612.1 591.1H627.5V594.2H612.1zM643.0 591.1H677.0V594.2H643.0zM748.0 591.1H751.1V594.2H748.0zM432.8 594.2H435.9V597.2H432.8zM612.1 594.2H627.5V597.2H612.1zM658.4 594.2H683.1V597.2H658.4zM748.0 594.2H751.1V597.2H748.0zM411.2 597.2H414.3V600.3H411.2zM435.9 597.2H445.2V600.3H435.9zM448.3 597.2H451.4V600.3H448.3zM612.1 597.2H624.4V600.3H612.1zM658.4 597.2H683.1V600.3H658.4zM748.0 597.2H751.1V600.3H748.0zM411.2 600.3H414.3V603.4H411.2zM442.1 600.3H451.4V603.4H442.1zM612.1 600.3H627.5V603.4H612.1zM646.1 600.3H683.1V603.4H646.1zM748.0 600.3H751.1V603.4H748.0zM414.3 603.4H417.4V606.5H414.3zM612.1 603.4H630.6V606.5H612.1zM646.1 603.4H683.1V606.5H646.1zM748.0 603.4H751.1V606.5H748.0zM417.4 606.5H420.5V609.6H417.4zM612.1 606.5H630.6V609.6H612.1zM636.8 606.5H683.1V609.6H636.8zM748.0 606.5H751.1V609.6H748.0zM420.5 609.6H426.7V612.6H420.5zM448.3 609.6H451.4V612.6H448.3zM612.1 609.6H683.1V612.6H612.1zM748.0 609.6H751.1V612.6H748.0zM426.7 612.6H451.4V615.7H426.7zM612.1 612.6H683.1V615.7H612.1zM748.0 612.6H751.1V615.7H748.0zM612.1 615.7H683.1V618.8H612.1zM748.0 615.7H751.1V618.8H748.0zM612.1 618.8H683.1V621.9H612.1zM748.0 618.8H751.1V621.9H748.0zM612.1 621.9H683.1V625.0H612.1zM748.0 621.9H751.1V625.0H748.0zM609.0 625.0H680.0V628.0H609.0zM748.0 625.0H751.1V628.0H748.0zM609.0 628.0H680.0V631.1H609.0zM744.9 628.0H751.1V631.1H744.9zM609.0 631.1H680.0V634.2H609.0zM744.9 631.1H748.0V634.2H744.9zM201.1 634.2H216.5V637.3H201.1zM355.6 634.2H364.9V637.3H355.6zM609.0 634.2H680.0V637.3H609.0zM744.9 634.2H748.0V637.3H744.9zM194.9 637.3H201.1V640.4H194.9zM219.6 637.3H222.7V640.4H219.6zM346.3 637.3H349.4V640.4H346.3zM368.0 637.3H374.1V640.4H368.0zM609.0 637.3H680.0V640.4H609.0zM744.9 637.3H748.0V640.4H744.9zM191.8 640.4H194.9V643.4H191.8zM222.7 640.4H225.8V643.4H222.7zM340.1 640.4H346.3V643.4H340.1zM374.1 640.4H377.2V643.4H374.1zM609.0 640.4H680.0V643.4H609.0zM744.9 640.4H748.0V643.4H744.9zM188.7 643.4H191.8V646.5H188.7zM225.8 643.4H228.9V646.5H225.8zM377.2 643.4H380.3V646.5H377.2zM618.2 643.4H677.0V646.5H618.2zM744.9 643.4H748.0V646.5H744.9zM185.6 646.5H188.7V649.6H185.6zM228.9 646.5H232.0V649.6H228.9zM337.1 646.5H340.1V649.6H337.1zM380.3 646.5H383.4V649.6H380.3zM605.9 646.5H609.0V649.6H605.9zM624.4 646.5H673.9V649.6H624.4zM744.9 646.5H748.0V649.6H744.9zM185.6 649.6H188.7V652.7H185.6zM232.0 649.6H235.1V652.7H232.0zM334.0 649.6H337.1V652.7H334.0zM383.4 649.6H386.5V652.7H383.4zM624.4 649.6H639.9V652.7H624.4zM649.1 649.6H667.7V652.7H649.1zM744.9 649.6H748.0V652.7H744.9zM185.6 652.7H188.7V655.8H185.6zM383.4 652.7H386.5V655.8H383.4zM624.4 652.7H636.8V655.8H624.4zM652.2 652.7H664.6V655.8H652.2zM744.9 652.7H748.0V655.8H744.9zM182.6 655.8H188.7V658.8H182.6zM198.0 655.8H210.4V658.8H198.0zM235.1 655.8H238.2V658.8H235.1zM330.9 655.8H334.0V658.8H330.9zM358.7 655.8H371.0V658.8H358.7zM383.4 655.8H386.5V658.8H383.4zM744.9 655.8H748.0V658.8H744.9zM185.6 658.8H198.0V661.9H185.6zM235.1 658.8H238.2V661.9H235.1zM330.9 658.8H334.0V661.9H330.9zM355.6 658.8H358.7V661.9H355.6zM371.0 658.8H377.2V661.9H371.0zM383.4 658.8H386.5V661.9H383.4zM744.9 658.8H748.0V661.9H744.9zM185.6 661.9H194.9V665.0H185.6zM213.5 661.9H216.5V665.0H213.5zM235.1 661.9H238.2V665.0H235.1zM330.9 661.9H334.0V665.0H330.9zM352.5 661.9H355.6V665.0H352.5zM374.1 661.9H386.5V665.0H374.1zM575.0 661.9H578.1V665.0H575.0zM596.6 661.9H599.7V665.0H596.6zM602.8 661.9H605.9V665.0H602.8zM741.8 661.9H748.0V665.0H741.8zM213.5 665.0H216.5V668.1H213.5zM235.1 665.0H238.2V668.1H235.1zM330.9 665.0H334.0V668.1H330.9zM352.5 665.0H355.6V668.1H352.5zM377.2 665.0H386.5V668.1H377.2zM575.0 665.0H578.1V668.1H575.0zM741.8 665.0H748.0V668.1H741.8zM213.5 668.1H216.5V671.2H213.5zM235.1 668.1H238.2V671.2H235.1zM330.9 668.1H334.0V671.2H330.9zM575.0 668.1H581.2V671.2H575.0zM741.8 668.1H744.9V671.2H741.8zM210.4 671.2H213.5V674.2H210.4zM235.1 671.2H238.2V674.2H235.1zM330.9 671.2H334.0V674.2H330.9zM355.6 671.2H358.7V674.2H355.6zM575.0 671.2H578.1V674.2H575.0zM741.8 671.2H744.9V674.2H741.8zM207.3 674.2H210.4V677.3H207.3zM358.7 674.2H361.8V677.3H358.7zM581.2 674.2H584.3V677.3H581.2zM593.5 674.2H596.6V677.3H593.5zM741.8 674.2H744.9V677.3H741.8zM198.0 677.3H207.3V680.4H198.0zM232.0 677.3H235.1V680.4H232.0zM334.0 677.3H337.1V680.4H334.0zM361.8 677.3H371.0V680.4H361.8zM581.2 677.3H593.5V680.4H581.2zM738.8 677.3H744.9V680.4H738.8zM194.9 680.4H204.2V683.5H194.9zM228.9 680.4H232.0V683.5H228.9zM337.1 680.4H340.1V683.5H337.1zM364.9 680.4H374.1V683.5H364.9zM581.2 680.4H593.5V683.5H581.2zM738.8 680.4H744.9V683.5H738.8zM194.9 683.5H204.2V686.6H194.9zM225.8 683.5H228.9V686.6H225.8zM340.1 683.5H343.2V686.6H340.1zM364.9 683.5H371.0V686.6H364.9zM587.3 683.5H593.5V686.6H587.3zM738.8 683.5H741.8V686.6H738.8zM198.0 686.6H204.2V689.6H198.0zM222.7 686.6H225.8V689.6H222.7zM343.2 686.6H346.3V689.6H343.2zM364.9 686.6H371.0V689.6H364.9zM587.3 686.6H590.4V689.6H587.3zM738.8 686.6H741.8V689.6H738.8zM201.1 689.6H219.6V692.7H201.1zM349.4 689.6H364.9V692.7H349.4zM587.3 689.6H590.4V692.7H587.3zM735.7 689.6H741.8V692.7H735.7zM587.3 692.7H590.4V695.8H587.3zM735.7 692.7H741.8V695.8H735.7zM735.7 695.8H738.8V698.9H735.7zM735.7 698.9H738.8V702.0H735.7zM584.3 702.0H587.3V705.0H584.3zM735.7 702.0H738.8V705.0H735.7zM735.7 705.0H738.8V708.1H735.7zM732.6 708.1H735.7V711.2H732.6zM732.6 711.2H735.7V714.3H732.6zM204.2 714.3H213.5V717.4H204.2zM272.2 714.3H281.4V717.4H272.2zM287.6 714.3H296.9V717.4H287.6zM729.5 714.3H735.7V717.4H729.5zM198.0 717.4H219.6V720.4H198.0zM266.0 717.4H272.2V720.4H266.0zM296.9 717.4H300.0V720.4H296.9zM349.4 717.4H371.0V720.4H349.4zM729.5 717.4H732.6V720.4H729.5zM191.8 720.4H204.2V723.5H191.8zM216.5 720.4H225.8V723.5H216.5zM262.9 720.4H269.1V723.5H262.9zM300.0 720.4H306.2V723.5H300.0zM343.2 720.4H352.5V723.5H343.2zM364.9 720.4H374.1V723.5H364.9zM729.5 720.4H732.6V723.5H729.5zM188.7 723.5H201.1V726.6H188.7zM222.7 723.5H228.9V726.6H222.7zM262.9 723.5H266.0V726.6H262.9zM303.1 723.5H306.2V726.6H303.1zM340.1 723.5H346.3V726.6H340.1zM368.0 723.5H377.2V726.6H368.0zM575.0 723.5H578.1V726.6H575.0zM726.4 723.5H729.5V726.6H726.4zM191.8 726.6H198.0V729.7H191.8zM201.1 726.6H207.3V729.7H201.1zM225.8 726.6H228.9V729.7H225.8zM259.8 726.6H262.9V729.7H259.8zM306.2 726.6H309.2V729.7H306.2zM340.1 726.6H343.2V729.7H340.1zM361.8 726.6H377.2V729.7H361.8zM726.4 726.6H729.5V729.7H726.4zM198.0 729.7H216.5V732.8H198.0zM228.9 729.7H232.0V732.8H228.9zM259.8 729.7H262.9V732.8H259.8zM306.2 729.7H312.3V732.8H306.2zM337.1 729.7H340.1V732.8H337.1zM355.6 729.7H371.0V732.8H355.6zM723.3 729.7H726.4V732.8H723.3zM213.5 732.8H216.5V735.8H213.5zM228.9 732.8H232.0V735.8H228.9zM256.7 732.8H259.8V735.8H256.7zM278.3 732.8H293.8V735.8H278.3zM309.2 732.8H312.3V735.8H309.2zM337.1 732.8H340.1V735.8H337.1zM352.5 732.8H358.7V735.8H352.5zM723.3 732.8H726.4V735.8H723.3zM213.5 735.8H219.6V738.9H213.5zM228.9 735.8H235.1V738.9H228.9zM256.7 735.8H259.8V738.9H256.7zM275.3 735.8H278.3V738.9H275.3zM293.8 735.8H296.9V738.9H293.8zM309.2 735.8H312.3V738.9H309.2zM337.1 735.8H340.1V738.9H337.1zM349.4 735.8H355.6V738.9H349.4zM723.3 735.8H726.4V738.9H723.3zM216.5 738.9H219.6V742.0H216.5zM228.9 738.9H235.1V742.0H228.9zM256.7 738.9H259.8V742.0H256.7zM272.2 738.9H275.3V742.0H272.2zM293.8 738.9H296.9V742.0H293.8zM309.2 738.9H312.3V742.0H309.2zM337.1 738.9H340.1V742.0H337.1zM349.4 738.9H352.5V742.0H349.4zM720.2 738.9H723.3V742.0H720.2zM228.9 742.0H235.1V745.1H228.9zM256.7 742.0H262.9V745.1H256.7zM269.1 742.0H275.3V745.1H269.1zM296.9 742.0H300.0V745.1H296.9zM306.2 742.0H312.3V745.1H306.2zM334.0 742.0H340.1V745.1H334.0zM720.2 742.0H723.3V745.1H720.2zM259.8 745.1H262.9V748.2H259.8zM269.1 745.1H275.3V748.2H269.1zM296.9 745.1H312.3V748.2H296.9zM334.0 745.1H337.1V748.2H334.0zM720.2 745.1H723.3V748.2H720.2zM259.8 748.2H275.3V751.2H259.8zM296.9 748.2H309.2V751.2H296.9zM720.2 748.2H723.3V751.2H720.2zM259.8 751.2H275.3V754.3H259.8zM300.0 751.2H309.2V754.3H300.0zM717.1 751.2H723.3V754.3H717.1zM717.1 754.3H720.2V757.4H717.1zM717.1 757.4H720.2V760.5H717.1zM714.0 760.5H717.1V763.6H714.0zM714.0 763.6H717.1V766.6H714.0zM710.9 766.6H714.0V769.7H710.9zM710.9 769.7H714.0V772.8H710.9zM624.4 772.8H627.5V775.9H624.4zM707.9 772.8H710.9V775.9H707.9zM627.5 775.9H630.6V779.0H627.5zM707.9 775.9H710.9V779.0H707.9zM707.9 779.0H710.9V782.0H707.9zM704.8 782.0H707.9V785.1H704.8zM704.8 785.1H707.9V788.2H704.8zM701.7 788.2H704.8V791.3H701.7zM701.7 791.3H704.8V794.4H701.7zM698.6 794.4H701.7V797.4H698.6zM695.5 797.4H701.7V800.5H695.5zM695.5 800.5H698.6V803.6H695.5zM692.4 803.6H695.5V806.7H692.4zM692.4 806.7H695.5V809.8H692.4zM689.3 809.8H692.4V812.8H689.3zM686.2 812.8H689.3V815.9H686.2zM683.1 815.9H689.3V819.0H683.1zM683.1 819.0H686.2V822.1H683.1zM680.0 822.1H683.1V825.2H680.0zM677.0 825.2H683.1V828.2H677.0zM677.0 828.2H680.0V831.3H677.0zM670.8 831.3H677.0V834.4H670.8zM670.8 834.4H673.9V837.5H670.8z"/><path fill="rgb(40,175,197)" stroke="rgb(40,175,197)" stroke-width="0.4" d="M250.5 122.9H253.6V126.0H250.5zM201.1 126.0H210.4V129.1H201.1zM213.5 126.0H225.8V129.1H213.5zM228.9 126.0H238.2V129.1H228.9zM244.4 126.0H253.6V129.1H244.4zM256.7 126.0H266.0V129.1H256.7zM185.6 129.1H194.9V132.2H185.6zM213.5 129.1H222.7V132.2H213.5zM269.1 129.1H281.4V132.2H269.1zM284.5 129.1H293.8V132.2H284.5zM300.0 129.1H309.2V132.2H300.0zM179.5 132.2H182.6V135.2H179.5zM185.6 132.2H188.7V135.2H185.6zM284.5 132.2H293.8V135.2H284.5zM300.0 132.2H309.2V135.2H300.0zM312.3 132.2H324.7V135.2H312.3zM327.8 132.2H337.1V135.2H327.8zM173.3 135.2H182.6V138.3H173.3zM296.9 135.2H306.2V138.3H296.9zM312.3 135.2H321.6V138.3H312.3zM327.8 135.2H358.7V138.3H327.8zM315.4 138.3H321.6V141.4H315.4zM334.0 138.3H368.0V141.4H334.0zM340.1 141.4H386.5V144.5H340.1zM343.2 144.5H358.7V147.6H343.2zM361.8 144.5H398.9V147.6H361.8zM374.1 147.6H411.2V150.6H374.1zM386.5 150.6H420.5V153.7H386.5zM398.9 153.7H426.7V156.8H398.9zM408.1 156.8H432.8V159.9H408.1zM423.6 159.9H442.1V163.0H423.6zM429.8 163.0H445.2V166.0H429.8zM432.8 166.0H451.4V169.1H432.8zM439.0 169.1H457.6V172.2H439.0zM445.2 172.2H460.7V175.3H445.2zM451.4 175.3H466.8V178.4H451.4zM454.5 178.4H469.9V181.4H454.5zM457.6 181.4H473.0V184.5H457.6zM309.2 184.5H318.5V187.6H309.2zM457.6 184.5H476.1V187.6H457.6zM340.1 187.6H346.3V190.7H340.1zM460.7 187.6H476.1V190.7H460.7zM250.5 190.7H253.6V193.8H250.5zM460.7 190.7H479.2V193.8H460.7zM164.0 193.8H170.2V196.8H164.0zM222.7 193.8H225.8V196.8H222.7zM460.7 193.8H476.1V196.8H460.7zM164.0 196.8H167.1V199.9H164.0zM389.6 196.8H392.7V199.9H389.6zM460.7 196.8H479.2V199.9H460.7zM164.0 199.9H167.1V203.0H164.0zM374.1 199.9H377.2V203.0H374.1zM398.9 199.9H401.9V203.0H398.9zM460.7 199.9H479.2V203.0H460.7zM371.0 203.0H389.6V206.1H371.0zM457.6 203.0H479.2V206.1H457.6zM368.0 206.1H398.9V209.2H368.0zM429.8 206.1H439.0V209.2H429.8zM454.5 206.1H476.1V209.2H454.5zM364.9 209.2H408.1V212.2H364.9zM426.7 209.2H473.0V212.2H426.7zM361.8 212.2H405.0V215.3H361.8zM432.8 212.2H469.9V215.3H432.8zM361.8 215.3H398.9V218.4H361.8zM442.1 215.3H463.7V218.4H442.1zM364.9 218.4H386.5V221.5H364.9zM448.3 218.4H454.5V221.5H448.3zM368.0 221.5H386.5V224.6H368.0zM368.0 224.6H386.5V227.6H368.0zM445.2 224.6H448.3V227.6H445.2zM374.1 227.6H386.5V230.7H374.1zM445.2 227.6H454.5V230.7H445.2zM377.2 230.7H401.9V233.8H377.2zM451.4 230.7H463.7V233.8H451.4zM380.3 233.8H405.0V236.9H380.3zM451.4 233.8H469.9V236.9H451.4zM386.5 236.9H411.2V240.0H386.5zM463.7 236.9H473.0V240.0H463.7zM395.8 240.0H414.3V243.0H395.8zM466.8 240.0H479.2V243.0H466.8zM405.0 243.0H423.6V246.1H405.0zM473.0 243.0H485.4V246.1H473.0zM414.3 246.1H432.8V249.2H414.3zM476.1 246.1H491.6V249.2H476.1zM417.4 249.2H442.1V252.3H417.4zM479.2 249.2H494.6V252.3H479.2zM426.7 252.3H466.8V255.4H426.7zM482.3 252.3H500.8V255.4H482.3zM435.9 255.4H469.9V258.4H435.9zM482.3 255.4H503.9V258.4H482.3zM442.1 258.4H476.1V261.5H442.1zM482.3 258.4H510.1V261.5H482.3zM457.6 261.5H513.2V264.6H457.6zM463.7 264.6H516.3V267.7H463.7zM469.9 267.7H519.4V270.8H469.9zM473.0 270.8H525.5V273.8H473.0zM479.2 273.8H528.6V276.9H479.2zM488.5 276.9H531.7V280.0H488.5zM494.6 280.0H537.9V283.1H494.6zM500.8 283.1H541.0V286.2H500.8zM503.9 286.2H544.1V289.2H503.9zM507.0 289.2H547.2V292.3H507.0zM510.1 292.3H550.3V295.4H510.1zM513.2 295.4H553.4V298.5H513.2zM519.4 298.5H556.4V301.6H519.4zM522.5 301.6H562.6V304.6H522.5zM528.6 304.6H565.7V307.7H528.6zM531.7 307.7H568.8V310.8H531.7zM537.9 310.8H571.9V313.9H537.9zM537.9 313.9H571.9V317.0H537.9zM541.0 317.0H575.0V320.0H541.0zM544.1 320.0H578.1V323.1H544.1zM547.2 323.1H578.1V326.2H547.2zM550.3 326.2H581.2V329.3H550.3zM556.4 329.3H587.3V332.4H556.4zM556.4 332.4H590.4V335.4H556.4zM559.5 335.4H590.4V338.5H559.5zM562.6 338.5H593.5V341.6H562.6zM562.6 341.6H596.6V344.7H562.6zM565.7 344.7H596.6V347.8H565.7zM568.8 347.8H602.8V350.8H568.8zM571.9 350.8H602.8V353.9H571.9zM575.0 353.9H605.9V357.0H575.0zM578.1 357.0H609.0V360.1H578.1zM581.2 360.1H612.1V363.2H581.2zM581.2 363.2H612.1V366.2H581.2zM584.3 366.2H615.2V369.3H584.3zM587.3 369.3H615.2V372.4H587.3zM590.4 372.4H618.2V375.5H590.4zM590.4 375.5H621.3V378.6H590.4zM593.5 378.6H621.3V381.6H593.5zM596.6 381.6H624.4V384.7H596.6zM599.7 384.7H627.5V387.8H599.7zM602.8 387.8H627.5V390.9H602.8zM605.9 390.9H630.6V394.0H605.9zM605.9 394.0H630.6V397.0H605.9zM609.0 397.0H633.7V400.1H609.0zM609.0 400.1H636.8V403.2H609.0zM609.0 403.2H636.8V406.3H609.0zM612.1 406.3H639.9V409.4H612.1zM612.1 409.4H639.9V412.4H612.1zM615.2 412.4H643.0V415.5H615.2zM615.2 415.5H643.0V418.6H615.2zM618.2 418.6H646.1V421.7H618.2zM621.3 421.7H646.1V424.8H621.3zM621.3 424.8H646.1V427.8H621.3zM624.4 427.8H646.1V430.9H624.4zM624.4 430.9H649.1V434.0H624.4zM624.4 434.0H649.1V437.1H624.4zM627.5 437.1H652.2V440.2H627.5zM627.5 440.2H652.2V443.2H627.5zM630.6 443.2H655.3V446.3H630.6zM630.6 446.3H655.3V449.4H630.6zM633.7 449.4H655.3V452.5H633.7zM633.7 452.5H658.4V455.6H633.7zM633.7 455.6H658.4V458.6H633.7zM633.7 458.6H658.4V461.7H633.7zM636.8 461.7H661.5V464.8H636.8zM639.9 464.8H661.5V467.9H639.9zM643.0 467.9H661.5V471.0H643.0zM692.4 467.9H707.9V471.0H692.4zM646.1 471.0H661.5V474.0H646.1zM692.4 471.0H704.8V474.0H692.4zM707.9 471.0H710.9V474.0H707.9zM646.1 474.0H658.4V477.1H646.1zM689.3 474.0H714.0V477.1H689.3zM646.1 477.1H658.4V480.2H646.1zM689.3 477.1H704.8V480.2H689.3zM710.9 477.1H717.1V480.2H710.9zM652.2 480.2H655.3V483.3H652.2zM689.3 480.2H717.1V483.3H689.3zM689.3 483.3H717.1V486.4H689.3zM689.3 486.4H720.2V489.4H689.3zM689.3 489.4H720.2V492.5H689.3zM692.4 492.5H720.2V495.6H692.4zM692.4 495.6H720.2V498.7H692.4zM692.4 498.7H720.2V501.8H692.4zM692.4 501.8H720.2V504.8H692.4zM695.5 504.8H723.3V507.9H695.5zM695.5 507.9H723.3V511.0H695.5zM695.5 511.0H726.4V514.1H695.5zM698.6 514.1H726.4V517.2H698.6zM343.2 517.2H346.3V520.2H343.2zM698.6 517.2H726.4V520.2H698.6zM343.2 520.2H349.4V523.3H343.2zM698.6 520.2H714.0V523.3H698.6zM717.1 520.2H726.4V523.3H717.1zM346.3 523.3H355.6V526.4H346.3zM698.6 523.3H714.0V526.4H698.6zM717.1 523.3H723.3V526.4H717.1zM349.4 526.4H361.8V529.5H349.4zM698.6 526.4H723.3V529.5H698.6zM352.5 529.5H361.8V532.6H352.5zM701.7 529.5H717.1V532.6H701.7zM720.2 529.5H726.4V532.6H720.2zM701.7 532.6H726.4V535.6H701.7zM704.8 535.6H726.4V538.7H704.8zM701.7 538.7H726.4V541.8H701.7zM701.7 541.8H729.5V544.9H701.7zM701.7 544.9H720.2V548.0H701.7zM723.3 544.9H726.4V548.0H723.3zM701.7 548.0H726.4V551.0H701.7zM704.8 551.0H717.1V554.1H704.8zM723.3 551.0H726.4V554.1H723.3zM707.9 554.1H720.2V557.2H707.9zM723.3 554.1H726.4V557.2H723.3zM707.9 557.2H726.4V560.3H707.9zM707.9 560.3H720.2V563.4H707.9zM723.3 560.3H726.4V563.4H723.3zM707.9 563.4H726.4V566.4H707.9zM707.9 566.4H726.4V569.5H707.9zM710.9 569.5H720.2V572.6H710.9zM723.3 569.5H726.4V572.6H723.3zM710.9 572.6H726.4V575.7H710.9zM710.9 575.7H726.4V578.8H710.9zM420.5 578.8H423.6V581.8H420.5zM710.9 578.8H726.4V581.8H710.9zM417.4 581.8H423.6V584.9H417.4zM717.1 581.8H726.4V584.9H717.1zM417.4 584.9H423.6V588.0H417.4zM720.2 584.9H723.3V588.0H720.2zM417.4 588.0H423.6V591.1H417.4zM720.2 588.0H723.3V591.1H720.2zM417.4 591.1H423.6V594.2H417.4zM420.5 594.2H426.7V597.2H420.5zM714.0 609.6H723.3V612.6H714.0zM714.0 612.6H723.3V615.7H714.0zM714.0 615.7H723.3V618.8H714.0zM710.9 618.8H726.4V621.9H710.9zM707.9 621.9H720.2V625.0H707.9zM723.3 621.9H726.4V625.0H723.3zM707.9 625.0H723.3V628.0H707.9zM704.8 628.0H723.3V631.1H704.8zM707.9 631.1H717.1V634.2H707.9zM707.9 634.2H717.1V637.3H707.9zM707.9 640.4H717.1V643.4H707.9zM207.3 643.4H219.6V646.5H207.3zM349.4 643.4H364.9V646.5H349.4zM710.9 643.4H723.3V646.5H710.9zM207.3 646.5H213.5V649.6H207.3zM219.6 646.5H225.8V649.6H219.6zM343.2 646.5H346.3V649.6H343.2zM355.6 646.5H364.9V649.6H355.6zM707.9 646.5H717.1V649.6H707.9zM720.2 646.5H723.3V649.6H720.2zM210.4 649.6H213.5V652.7H210.4zM225.8 649.6H228.9V652.7H225.8zM340.1 649.6H343.2V652.7H340.1zM355.6 649.6H361.8V652.7H355.6zM707.9 649.6H720.2V652.7H707.9zM213.5 652.7H216.5V655.8H213.5zM225.8 652.7H228.9V655.8H225.8zM352.5 652.7H355.6V655.8H352.5zM707.9 652.7H720.2V655.8H707.9zM216.5 655.8H219.6V658.8H216.5zM228.9 655.8H232.0V658.8H228.9zM337.1 655.8H340.1V658.8H337.1zM707.9 655.8H720.2V658.8H707.9zM228.9 658.8H232.0V661.9H228.9zM349.4 658.8H352.5V661.9H349.4zM707.9 658.8H720.2V661.9H707.9zM219.6 661.9H222.7V665.0H219.6zM228.9 661.9H232.0V665.0H228.9zM707.9 661.9H714.0V665.0H707.9zM219.6 665.0H222.7V668.1H219.6zM228.9 665.0H232.0V668.1H228.9zM710.9 665.0H717.1V668.1H710.9zM219.6 668.1H232.0V671.2H219.6zM337.1 668.1H340.1V671.2H337.1zM707.9 668.1H720.2V671.2H707.9zM219.6 671.2H228.9V674.2H219.6zM337.1 671.2H343.2V674.2H337.1zM346.3 671.2H349.4V674.2H346.3zM707.9 671.2H717.1V674.2H707.9zM219.6 674.2H228.9V677.3H219.6zM340.1 674.2H349.4V677.3H340.1zM707.9 674.2H717.1V677.3H707.9zM346.3 677.3H349.4V680.4H346.3zM701.7 677.3H717.1V680.4H701.7zM701.7 680.4H710.9V683.5H701.7zM704.8 683.5H707.9V686.6H704.8zM701.7 686.6H707.9V689.6H701.7zM704.8 689.6H707.9V692.7H704.8zM704.8 692.7H710.9V695.8H704.8zM704.8 695.8H710.9V698.9H704.8zM704.8 698.9H710.9V702.0H704.8zM698.6 702.0H710.9V705.0H698.6zM695.5 705.0H710.9V708.1H695.5zM689.3 708.1H707.9V711.2H689.3zM689.3 711.2H704.8V714.3H689.3zM686.2 714.3H704.8V717.4H686.2zM686.2 717.4H701.7V720.4H686.2zM683.1 720.4H701.7V723.5H683.1zM683.1 723.5H698.6V726.6H683.1zM686.2 726.6H695.5V729.7H686.2zM692.4 729.7H695.5V732.8H692.4z"/><path fill="rgb(82,191,145)" stroke="rgb(82,191,145)" stroke-width="0.4" d="M198.0 135.2H207.3V138.3H198.0zM213.5 135.2H222.7V138.3H213.5zM225.8 135.2H228.9V138.3H225.8zM232.0 135.2H235.1V138.3H232.0zM241.3 135.2H250.5V138.3H241.3zM188.7 138.3H194.9V141.4H188.7zM198.0 138.3H207.3V141.4H198.0zM210.4 138.3H219.6V141.4H210.4zM225.8 138.3H235.1V141.4H225.8zM238.2 138.3H247.4V141.4H238.2zM253.6 138.3H259.8V141.4H253.6zM185.6 141.4H191.8V144.5H185.6zM198.0 141.4H207.3V144.5H198.0zM210.4 141.4H219.6V144.5H210.4zM225.8 141.4H235.1V144.5H225.8zM238.2 141.4H247.4V144.5H238.2zM253.6 141.4H262.9V144.5H253.6zM266.0 141.4H275.3V144.5H266.0zM182.6 144.5H191.8V147.6H182.6zM198.0 144.5H207.3V147.6H198.0zM210.4 144.5H219.6V147.6H210.4zM222.7 144.5H232.0V147.6H222.7zM238.2 144.5H247.4V147.6H238.2zM250.5 144.5H259.8V147.6H250.5zM266.0 144.5H275.3V147.6H266.0zM278.3 144.5H287.6V147.6H278.3zM182.6 147.6H191.8V150.6H182.6zM194.9 147.6H204.2V150.6H194.9zM210.4 147.6H219.6V150.6H210.4zM222.7 147.6H232.0V150.6H222.7zM235.1 147.6H244.4V150.6H235.1zM250.5 147.6H259.8V150.6H250.5zM262.9 147.6H272.2V150.6H262.9zM278.3 147.6H287.6V150.6H278.3zM293.8 147.6H303.1V150.6H293.8zM306.2 147.6H309.2V150.6H306.2zM176.4 150.6H179.5V153.7H176.4zM182.6 150.6H191.8V153.7H182.6zM194.9 150.6H204.2V153.7H194.9zM207.3 150.6H216.5V153.7H207.3zM222.7 150.6H232.0V153.7H222.7zM235.1 150.6H244.4V153.7H235.1zM250.5 150.6H259.8V153.7H250.5zM262.9 150.6H272.2V153.7H262.9zM278.3 150.6H287.6V153.7H278.3zM290.7 150.6H300.0V153.7H290.7zM306.2 150.6H315.4V153.7H306.2zM321.6 150.6H334.0V153.7H321.6zM182.6 153.7H191.8V156.8H182.6zM194.9 153.7H204.2V156.8H194.9zM207.3 153.7H216.5V156.8H207.3zM219.6 153.7H228.9V156.8H219.6zM235.1 153.7H244.4V156.8H235.1zM247.4 153.7H256.7V156.8H247.4zM262.9 153.7H272.2V156.8H262.9zM275.3 153.7H284.5V156.8H275.3zM290.7 153.7H300.0V156.8H290.7zM303.1 153.7H315.4V156.8H303.1zM318.5 153.7H334.0V156.8H318.5zM179.5 156.8H188.7V159.9H179.5zM194.9 156.8H201.1V159.9H194.9zM207.3 156.8H216.5V159.9H207.3zM219.6 156.8H228.9V159.9H219.6zM232.0 156.8H241.3V159.9H232.0zM247.4 156.8H256.7V159.9H247.4zM259.8 156.8H269.1V159.9H259.8zM275.3 156.8H284.5V159.9H275.3zM287.6 156.8H300.0V159.9H287.6zM303.1 156.8H312.3V159.9H303.1zM318.5 156.8H337.1V159.9H318.5zM340.1 156.8H346.3V159.9H340.1zM349.4 156.8H371.0V159.9H349.4zM179.5 159.9H188.7V163.0H179.5zM191.8 159.9H201.1V163.0H191.8zM207.3 159.9H213.5V163.0H207.3zM219.6 159.9H228.9V163.0H219.6zM232.0 159.9H241.3V163.0H232.0zM247.4 159.9H253.6V163.0H247.4zM259.8 159.9H269.1V163.0H259.8zM272.2 159.9H281.4V163.0H272.2zM287.6 159.9H296.9V163.0H287.6zM303.1 159.9H312.3V163.0H303.1zM315.4 159.9H386.5V163.0H315.4zM179.5 163.0H188.7V166.0H179.5zM191.8 163.0H201.1V166.0H191.8zM204.2 163.0H213.5V166.0H204.2zM219.6 163.0H225.8V166.0H219.6zM232.0 163.0H241.3V166.0H232.0zM244.4 163.0H253.6V166.0H244.4zM259.8 163.0H269.1V166.0H259.8zM272.2 163.0H281.4V166.0H272.2zM287.6 163.0H296.9V166.0H287.6zM300.0 163.0H309.2V166.0H300.0zM315.4 163.0H392.7V166.0H315.4zM182.6 166.0H188.7V169.1H182.6zM191.8 166.0H201.1V169.1H191.8zM204.2 166.0H213.5V169.1H204.2zM216.5 166.0H225.8V169.1H216.5zM232.0 166.0H238.2V169.1H232.0zM244.4 166.0H253.6V169.1H244.4zM256.7 166.0H266.0V169.1H256.7zM272.2 166.0H281.4V169.1H272.2zM284.5 166.0H293.8V169.1H284.5zM300.0 166.0H309.2V169.1H300.0zM312.3 166.0H401.9V169.1H312.3zM191.8 169.1H198.0V172.2H191.8zM204.2 169.1H213.5V172.2H204.2zM216.5 169.1H225.8V172.2H216.5zM228.9 169.1H238.2V172.2H228.9zM244.4 169.1H250.5V172.2H244.4zM256.7 169.1H266.0V172.2H256.7zM269.1 169.1H278.3V172.2H269.1zM284.5 169.1H293.8V172.2H284.5zM296.9 169.1H306.2V172.2H296.9zM312.3 169.1H420.5V172.2H312.3zM182.6 172.2H185.6V175.3H182.6zM188.7 172.2H198.0V175.3H188.7zM204.2 172.2H210.4V175.3H204.2zM216.5 172.2H225.8V175.3H216.5zM228.9 172.2H238.2V175.3H228.9zM241.3 172.2H250.5V175.3H241.3zM256.7 172.2H262.9V175.3H256.7zM269.1 172.2H278.3V175.3H269.1zM281.4 172.2H290.7V175.3H281.4zM321.6 172.2H324.7V175.3H321.6zM327.8 172.2H330.9V175.3H327.8zM343.2 172.2H361.8V175.3H343.2zM364.9 172.2H423.6V175.3H364.9zM182.6 175.3H185.6V178.4H182.6zM188.7 175.3H198.0V178.4H188.7zM201.1 175.3H210.4V178.4H201.1zM213.5 175.3H222.7V178.4H213.5zM228.9 175.3H235.1V178.4H228.9zM241.3 175.3H250.5V178.4H241.3zM253.6 175.3H262.9V178.4H253.6zM269.1 175.3H278.3V178.4H269.1zM281.4 175.3H284.5V178.4H281.4zM346.3 175.3H358.7V178.4H346.3zM368.0 175.3H426.7V178.4H368.0zM188.7 178.4H198.0V181.4H188.7zM201.1 178.4H210.4V181.4H201.1zM213.5 178.4H222.7V181.4H213.5zM225.8 178.4H235.1V181.4H225.8zM241.3 178.4H247.4V181.4H241.3zM253.6 178.4H262.9V181.4H253.6zM266.0 178.4H275.3V181.4H266.0zM368.0 178.4H432.8V181.4H368.0zM188.7 181.4H194.9V184.5H188.7zM201.1 181.4H210.4V184.5H201.1zM213.5 181.4H222.7V184.5H213.5zM225.8 181.4H235.1V184.5H225.8zM238.2 181.4H247.4V184.5H238.2zM250.5 181.4H259.8V184.5H250.5zM266.0 181.4H275.3V184.5H266.0zM377.2 181.4H439.0V184.5H377.2zM188.7 184.5H194.9V187.6H188.7zM201.1 184.5H207.3V187.6H201.1zM213.5 184.5H219.6V187.6H213.5zM225.8 184.5H235.1V187.6H225.8zM238.2 184.5H247.4V187.6H238.2zM250.5 184.5H253.6V187.6H250.5zM395.8 184.5H439.0V187.6H395.8zM185.6 187.6H194.9V190.7H185.6zM198.0 187.6H207.3V190.7H198.0zM210.4 187.6H219.6V190.7H210.4zM222.7 187.6H225.8V190.7H222.7zM414.3 187.6H432.8V190.7H414.3zM185.6 190.7H194.9V193.8H185.6zM198.0 190.7H207.3V193.8H198.0zM420.5 190.7H429.8V193.8H420.5z"/><path fill="rgb(57,116,251)" stroke="rgb(57,116,251)" stroke-width="0.4" d="M340.1 119.8H346.3V122.9H340.1zM361.8 122.9H364.9V126.0H361.8zM377.2 126.0H380.3V129.1H377.2zM389.6 129.1H395.8V132.2H389.6zM401.9 132.2H408.1V135.2H401.9zM414.3 135.2H417.4V138.3H414.3zM423.6 138.3H429.8V141.4H423.6zM432.8 141.4H439.0V144.5H432.8zM442.1 144.5H445.2V147.6H442.1zM451.4 147.6H454.5V150.6H451.4zM457.6 150.6H463.7V153.7H457.6zM466.8 153.7H469.9V156.8H466.8zM473.0 156.8H476.1V159.9H473.0zM476.1 159.9H482.3V163.0H476.1zM482.3 163.0H485.4V166.0H482.3zM485.4 166.0H491.6V169.1H485.4zM491.6 169.1H494.6V172.2H491.6zM494.6 172.2H500.8V175.3H494.6zM500.8 175.3H507.0V178.4H500.8zM507.0 178.4H513.2V181.4H507.0zM510.1 181.4H519.4V184.5H510.1zM516.3 184.5H522.5V187.6H516.3zM519.4 187.6H528.6V190.7H519.4zM525.5 190.7H531.7V193.8H525.5zM528.6 193.8H534.8V196.8H528.6zM531.7 196.8H537.9V199.9H531.7zM534.8 199.9H541.0V203.0H534.8zM537.9 203.0H547.2V206.1H537.9zM541.0 206.1H550.3V209.2H541.0zM547.2 209.2H553.4V212.2H547.2zM550.3 212.2H559.5V215.3H550.3zM550.3 215.3H562.6V218.4H550.3zM553.4 218.4H565.7V221.5H553.4zM553.4 221.5H568.8V224.6H553.4zM556.4 224.6H571.9V227.6H556.4zM556.4 227.6H578.1V230.7H556.4zM556.4 230.7H581.2V233.8H556.4zM553.4 233.8H584.3V236.9H553.4zM550.3 236.9H587.3V240.0H550.3zM547.2 240.0H590.4V243.0H547.2zM544.1 243.0H553.4V246.1H544.1zM556.4 243.0H593.5V246.1H556.4zM541.0 246.1H556.4V249.2H541.0zM559.5 246.1H596.6V249.2H559.5zM537.9 249.2H599.7V252.3H537.9zM537.9 252.3H602.8V255.4H537.9zM534.8 255.4H605.9V258.4H534.8zM537.9 258.4H609.0V261.5H537.9zM537.9 261.5H612.1V264.6H537.9zM534.8 264.6H615.2V267.7H534.8zM537.9 267.7H581.2V270.8H537.9zM584.3 267.7H618.2V270.8H584.3zM541.0 270.8H584.3V273.8H541.0zM587.3 270.8H621.3V273.8H587.3zM544.1 273.8H621.3V276.9H544.1zM544.1 276.9H624.4V280.0H544.1zM550.3 280.0H627.5V283.1H550.3zM553.4 283.1H630.6V286.2H553.4zM556.4 286.2H630.6V289.2H556.4zM559.5 289.2H633.7V292.3H559.5zM562.6 292.3H636.8V295.4H562.6zM411.2 295.4H414.3V298.5H411.2zM565.7 295.4H639.9V298.5H565.7zM405.0 298.5H417.4V301.6H405.0zM568.8 298.5H609.0V301.6H568.8zM612.1 298.5H639.9V301.6H612.1zM401.9 301.6H417.4V304.6H401.9zM571.9 301.6H646.1V304.6H571.9zM401.9 304.6H417.4V307.7H401.9zM575.0 304.6H649.1V307.7H575.0zM405.0 307.7H420.5V310.8H405.0zM432.8 307.7H445.2V310.8H432.8zM578.1 307.7H652.2V310.8H578.1zM401.9 310.8H423.6V313.9H401.9zM432.8 310.8H451.4V313.9H432.8zM581.2 310.8H621.3V313.9H581.2zM624.4 310.8H655.3V313.9H624.4zM401.9 313.9H423.6V317.0H401.9zM432.8 313.9H451.4V317.0H432.8zM581.2 313.9H624.4V317.0H581.2zM627.5 313.9H655.3V317.0H627.5zM405.0 317.0H420.5V320.0H405.0zM432.8 317.0H457.6V320.0H432.8zM584.3 317.0H658.4V320.0H584.3zM405.0 320.0H420.5V323.1H405.0zM432.8 320.0H460.7V323.1H432.8zM590.4 320.0H630.6V323.1H590.4zM633.7 320.0H661.5V323.1H633.7zM405.0 323.1H420.5V326.2H405.0zM432.8 323.1H469.9V326.2H432.8zM590.4 323.1H630.6V326.2H590.4zM633.7 323.1H661.5V326.2H633.7zM405.0 326.2H420.5V329.3H405.0zM423.6 326.2H426.7V329.3H423.6zM435.9 326.2H473.0V329.3H435.9zM593.5 326.2H664.6V329.3H593.5zM405.0 329.3H420.5V332.4H405.0zM435.9 329.3H479.2V332.4H435.9zM596.6 329.3H667.7V332.4H596.6zM405.0 332.4H420.5V335.4H405.0zM429.8 332.4H482.3V335.4H429.8zM599.7 332.4H639.9V335.4H599.7zM643.0 332.4H670.8V335.4H643.0zM405.0 335.4H420.5V338.5H405.0zM423.6 335.4H485.4V338.5H423.6zM602.8 335.4H673.9V338.5H602.8zM426.7 338.5H488.5V341.6H426.7zM602.8 338.5H673.9V341.6H602.8zM429.8 341.6H494.6V344.7H429.8zM605.9 341.6H677.0V344.7H605.9zM250.5 344.7H318.5V347.8H250.5zM426.7 344.7H497.7V347.8H426.7zM609.0 344.7H680.0V347.8H609.0zM235.1 347.8H337.1V350.8H235.1zM423.6 347.8H500.8V350.8H423.6zM612.1 347.8H680.0V350.8H612.1zM219.6 350.8H349.4V353.9H219.6zM401.9 350.8H423.6V353.9H401.9zM426.7 350.8H503.9V353.9H426.7zM612.1 350.8H649.1V353.9H612.1zM652.2 350.8H683.1V353.9H652.2zM210.4 353.9H358.7V357.0H210.4zM395.8 353.9H507.0V357.0H395.8zM615.2 353.9H683.1V357.0H615.2zM201.1 357.0H368.0V360.1H201.1zM389.6 357.0H510.1V360.1H389.6zM618.2 357.0H686.2V360.1H618.2zM191.8 360.1H377.2V363.2H191.8zM389.6 360.1H513.2V363.2H389.6zM618.2 360.1H689.3V363.2H618.2zM185.6 363.2H383.4V366.2H185.6zM395.8 363.2H516.3V366.2H395.8zM621.3 363.2H689.3V366.2H621.3zM179.5 366.2H389.6V369.3H179.5zM401.9 366.2H408.1V369.3H401.9zM417.4 366.2H519.4V369.3H417.4zM624.4 366.2H692.4V369.3H624.4zM182.6 369.3H395.8V372.4H182.6zM417.4 369.3H522.5V372.4H417.4zM627.5 369.3H695.5V372.4H627.5zM182.6 372.4H401.9V375.5H182.6zM414.3 372.4H525.5V375.5H414.3zM627.5 372.4H664.6V375.5H627.5zM667.7 372.4H695.5V375.5H667.7zM182.6 375.5H408.1V378.6H182.6zM417.4 375.5H528.6V378.6H417.4zM630.6 375.5H667.7V378.6H630.6zM670.8 375.5H686.2V378.6H670.8zM689.3 375.5H698.6V378.6H689.3zM185.6 378.6H414.3V381.6H185.6zM423.6 378.6H531.7V381.6H423.6zM633.7 378.6H698.6V381.6H633.7zM185.6 381.6H395.8V384.7H185.6zM398.9 381.6H417.4V384.7H398.9zM426.7 381.6H531.7V384.7H426.7zM633.7 381.6H670.8V384.7H633.7zM673.9 381.6H701.7V384.7H673.9zM188.7 384.7H423.6V387.8H188.7zM432.8 384.7H534.8V387.8H432.8zM636.8 384.7H664.6V387.8H636.8zM680.0 384.7H686.2V387.8H680.0zM695.5 384.7H701.7V387.8H695.5zM188.7 387.8H426.7V390.9H188.7zM435.9 387.8H537.9V390.9H435.9zM639.9 387.8H664.6V390.9H639.9zM698.6 387.8H704.8V390.9H698.6zM188.7 390.9H432.8V394.0H188.7zM439.0 390.9H541.0V394.0H439.0zM639.9 390.9H661.5V394.0H639.9zM701.7 390.9H704.8V394.0H701.7zM191.8 394.0H435.9V397.0H191.8zM445.2 394.0H544.1V397.0H445.2zM643.0 394.0H661.5V397.0H643.0zM701.7 394.0H707.9V397.0H701.7zM191.8 397.0H439.0V400.1H191.8zM448.3 397.0H544.1V400.1H448.3zM643.0 397.0H658.4V400.1H643.0zM701.7 397.0H707.9V400.1H701.7zM191.8 400.1H442.1V403.2H191.8zM451.4 400.1H547.2V403.2H451.4zM646.1 400.1H655.3V403.2H646.1zM704.8 400.1H710.9V403.2H704.8zM194.9 403.2H445.2V406.3H194.9zM454.5 403.2H550.3V406.3H454.5zM649.1 403.2H652.2V406.3H649.1zM707.9 403.2H714.0V406.3H707.9zM194.9 406.3H290.7V409.4H194.9zM296.9 406.3H451.4V409.4H296.9zM457.6 406.3H550.3V409.4H457.6zM707.9 406.3H714.0V409.4H707.9zM198.0 409.4H290.7V412.4H198.0zM296.9 409.4H454.5V412.4H296.9zM460.7 409.4H553.4V412.4H460.7zM710.9 409.4H717.1V412.4H710.9zM198.0 412.4H287.6V415.5H198.0zM296.9 412.4H457.6V415.5H296.9zM463.7 412.4H556.4V415.5H463.7zM714.0 412.4H717.1V415.5H714.0zM201.1 415.5H266.0V418.6H201.1zM306.2 415.5H460.7V418.6H306.2zM466.8 415.5H556.4V418.6H466.8zM714.0 415.5H720.2V418.6H714.0zM201.1 418.6H247.4V421.7H201.1zM321.6 418.6H463.7V421.7H321.6zM469.9 418.6H559.5V421.7H469.9zM717.1 418.6H723.3V421.7H717.1zM204.2 421.7H235.1V424.8H204.2zM275.3 421.7H293.8V424.8H275.3zM334.0 421.7H466.8V424.8H334.0zM473.0 421.7H562.6V424.8H473.0zM717.1 421.7H723.3V424.8H717.1zM204.2 424.8H225.8V427.8H204.2zM244.4 424.8H256.7V427.8H244.4zM275.3 424.8H293.8V427.8H275.3zM315.4 424.8H324.7V427.8H315.4zM343.2 424.8H466.8V427.8H343.2zM476.1 424.8H562.6V427.8H476.1zM720.2 424.8H726.4V427.8H720.2zM207.3 427.8H216.5V430.9H207.3zM232.0 427.8H256.7V430.9H232.0zM275.3 427.8H293.8V430.9H275.3zM315.4 427.8H337.1V430.9H315.4zM352.5 427.8H469.9V430.9H352.5zM479.2 427.8H565.7V430.9H479.2zM720.2 427.8H726.4V430.9H720.2zM207.3 430.9H210.4V434.0H207.3zM225.8 430.9H253.6V434.0H225.8zM275.3 430.9H293.8V434.0H275.3zM315.4 430.9H346.3V434.0H315.4zM358.7 430.9H473.0V434.0H358.7zM479.2 430.9H565.7V434.0H479.2zM723.3 430.9H729.5V434.0H723.3zM216.5 434.0H235.1V437.1H216.5zM238.2 434.0H253.6V437.1H238.2zM278.3 434.0H290.7V437.1H278.3zM315.4 434.0H352.5V437.1H315.4zM364.9 434.0H476.1V437.1H364.9zM482.3 434.0H568.8V437.1H482.3zM723.3 434.0H729.5V437.1H723.3zM210.4 437.1H253.6V440.2H210.4zM278.3 437.1H290.7V440.2H278.3zM315.4 437.1H358.7V440.2H315.4zM371.0 437.1H479.2V440.2H371.0zM485.4 437.1H568.8V440.2H485.4zM726.4 437.1H729.5V440.2H726.4zM213.5 440.2H253.6V443.2H213.5zM315.4 440.2H364.9V443.2H315.4zM377.2 440.2H482.3V443.2H377.2zM488.5 440.2H571.9V443.2H488.5zM726.4 440.2H732.6V443.2H726.4zM213.5 443.2H256.7V446.3H213.5zM312.3 443.2H371.0V446.3H312.3zM380.3 443.2H482.3V446.3H380.3zM488.5 443.2H571.9V446.3H488.5zM729.5 443.2H732.6V446.3H729.5zM216.5 446.3H256.7V449.4H216.5zM312.3 446.3H374.1V449.4H312.3zM386.5 446.3H485.4V449.4H386.5zM491.6 446.3H575.0V449.4H491.6zM729.5 446.3H732.6V449.4H729.5zM216.5 449.4H259.8V452.5H216.5zM312.3 449.4H380.3V452.5H312.3zM389.6 449.4H488.5V452.5H389.6zM494.6 449.4H575.0V452.5H494.6zM732.6 449.4H735.7V452.5H732.6zM219.6 452.5H259.8V455.6H219.6zM309.2 452.5H383.4V455.6H309.2zM392.7 452.5H488.5V455.6H392.7zM494.6 452.5H578.1V455.6H494.6zM732.6 452.5H735.7V455.6H732.6zM222.7 455.6H262.9V458.6H222.7zM306.2 455.6H389.6V458.6H306.2zM395.8 455.6H491.6V458.6H395.8zM497.7 455.6H578.1V458.6H497.7zM732.6 455.6H735.7V458.6H732.6zM222.7 458.6H266.0V461.7H222.7zM303.1 458.6H392.7V461.7H303.1zM401.9 458.6H494.6V461.7H401.9zM500.8 458.6H581.2V461.7H500.8zM735.7 458.6H738.8V461.7H735.7zM225.8 461.7H269.1V464.8H225.8zM296.9 461.7H395.8V464.8H296.9zM405.0 461.7H494.6V464.8H405.0zM500.8 461.7H581.2V464.8H500.8zM735.7 461.7H738.8V464.8H735.7zM225.8 464.8H398.9V467.9H225.8zM408.1 464.8H497.7V467.9H408.1zM503.9 464.8H584.3V467.9H503.9zM735.7 464.8H738.8V467.9H735.7zM228.9 467.9H401.9V471.0H228.9zM411.2 467.9H497.7V471.0H411.2zM503.9 467.9H584.3V471.0H503.9zM738.8 467.9H741.8V471.0H738.8zM228.9 471.0H405.0V474.0H228.9zM414.3 471.0H500.8V474.0H414.3zM507.0 471.0H584.3V474.0H507.0zM738.8 471.0H741.8V474.0H738.8zM232.0 474.0H408.1V477.1H232.0zM414.3 474.0H500.8V477.1H414.3zM507.0 474.0H587.3V477.1H507.0zM738.8 474.0H741.8V477.1H738.8zM235.1 477.1H411.2V480.2H235.1zM417.4 477.1H503.9V480.2H417.4zM510.1 477.1H587.3V480.2H510.1zM741.8 477.1H744.9V480.2H741.8zM235.1 480.2H414.3V483.3H235.1zM420.5 480.2H503.9V483.3H420.5zM510.1 480.2H590.4V483.3H510.1zM741.8 480.2H744.9V483.3H741.8zM238.2 483.3H349.4V486.4H238.2zM368.0 483.3H417.4V486.4H368.0zM423.6 483.3H507.0V486.4H423.6zM513.2 483.3H590.4V486.4H513.2zM741.8 483.3H744.9V486.4H741.8zM238.2 486.4H343.2V489.4H238.2zM374.1 486.4H417.4V489.4H374.1zM426.7 486.4H507.0V489.4H426.7zM513.2 486.4H590.4V489.4H513.2zM741.8 486.4H744.9V489.4H741.8zM241.3 489.4H340.1V492.5H241.3zM377.2 489.4H420.5V492.5H377.2zM426.7 489.4H510.1V492.5H426.7zM516.3 489.4H593.5V492.5H516.3zM244.4 492.5H337.1V495.6H244.4zM380.3 492.5H423.6V495.6H380.3zM429.8 492.5H510.1V495.6H429.8zM516.3 492.5H593.5V495.6H516.3zM744.9 492.5H748.0V495.6H744.9zM244.4 495.6H334.0V498.7H244.4zM386.5 495.6H426.7V498.7H386.5zM432.8 495.6H513.2V498.7H432.8zM519.4 495.6H593.5V498.7H519.4zM744.9 495.6H748.0V498.7H744.9zM247.4 498.7H334.0V501.8H247.4zM386.5 498.7H426.7V501.8H386.5zM432.8 498.7H513.2V501.8H432.8zM519.4 498.7H593.5V501.8H519.4zM744.9 498.7H748.0V501.8H744.9zM250.5 501.8H330.9V504.8H250.5zM358.7 501.8H368.0V504.8H358.7zM389.6 501.8H429.8V504.8H389.6zM435.9 501.8H513.2V504.8H435.9zM519.4 501.8H596.6V504.8H519.4zM253.6 504.8H330.9V507.9H253.6zM358.7 504.8H371.0V507.9H358.7zM389.6 504.8H429.8V507.9H389.6zM435.9 504.8H516.3V507.9H435.9zM522.5 504.8H596.6V507.9H522.5zM748.0 504.8H751.1V507.9H748.0zM253.6 507.9H330.9V511.0H253.6zM355.6 507.9H371.0V511.0H355.6zM392.7 507.9H432.8V511.0H392.7zM439.0 507.9H516.3V511.0H439.0zM522.5 507.9H596.6V511.0H522.5zM748.0 507.9H751.1V511.0H748.0zM256.7 511.0H330.9V514.1H256.7zM355.6 511.0H368.0V514.1H355.6zM392.7 511.0H432.8V514.1H392.7zM439.0 511.0H519.4V514.1H439.0zM522.5 511.0H596.6V514.1H522.5zM748.0 511.0H751.1V514.1H748.0zM259.8 514.1H330.9V517.2H259.8zM361.8 514.1H364.9V517.2H361.8zM392.7 514.1H435.9V517.2H392.7zM442.1 514.1H519.4V517.2H442.1zM525.5 514.1H599.7V517.2H525.5zM748.0 514.1H751.1V517.2H748.0zM262.9 517.2H330.9V520.2H262.9zM389.6 517.2H435.9V520.2H389.6zM442.1 517.2H519.4V520.2H442.1zM525.5 517.2H599.7V520.2H525.5zM748.0 517.2H751.1V520.2H748.0zM262.9 520.2H330.9V523.3H262.9zM389.6 520.2H439.0V523.3H389.6zM445.2 520.2H519.4V523.3H445.2zM525.5 520.2H599.7V523.3H525.5zM266.0 523.3H330.9V526.4H266.0zM389.6 523.3H439.0V526.4H389.6zM445.2 523.3H522.5V526.4H445.2zM528.6 523.3H599.7V526.4H528.6zM751.1 523.3H754.2V526.4H751.1zM269.1 526.4H334.0V529.5H269.1zM389.6 526.4H442.1V529.5H389.6zM448.3 526.4H522.5V529.5H448.3zM528.6 526.4H602.8V529.5H528.6zM751.1 526.4H754.2V529.5H751.1zM269.1 529.5H334.0V532.6H269.1zM386.5 529.5H442.1V532.6H386.5zM448.3 529.5H522.5V532.6H448.3zM528.6 529.5H602.8V532.6H528.6zM751.1 529.5H754.2V532.6H751.1zM272.2 532.6H337.1V535.6H272.2zM383.4 532.6H442.1V535.6H383.4zM448.3 532.6H522.5V535.6H448.3zM528.6 532.6H602.8V535.6H528.6zM751.1 532.6H754.2V535.6H751.1zM275.3 535.6H340.1V538.7H275.3zM380.3 535.6H445.2V538.7H380.3zM451.4 535.6H525.5V538.7H451.4zM528.6 535.6H602.8V538.7H528.6zM751.1 535.6H754.2V538.7H751.1zM275.3 538.7H346.3V541.8H275.3zM377.2 538.7H445.2V541.8H377.2zM451.4 538.7H525.5V541.8H451.4zM531.7 538.7H602.8V541.8H531.7zM751.1 538.7H754.2V541.8H751.1zM278.3 541.8H352.5V544.9H278.3zM368.0 541.8H445.2V544.9H368.0zM451.4 541.8H525.5V544.9H451.4zM531.7 541.8H602.8V544.9H531.7zM751.1 541.8H754.2V544.9H751.1zM281.4 544.9H448.3V548.0H281.4zM451.4 544.9H525.5V548.0H451.4zM531.7 544.9H605.9V548.0H531.7zM281.4 548.0H448.3V551.0H281.4zM454.5 548.0H525.5V551.0H454.5zM531.7 548.0H605.9V551.0H531.7zM284.5 551.0H448.3V554.1H284.5zM454.5 551.0H528.6V554.1H454.5zM531.7 551.0H605.9V554.1H531.7zM296.9 554.1H448.3V557.2H296.9zM454.5 554.1H528.6V557.2H454.5zM531.7 554.1H605.9V557.2H531.7zM754.2 554.1H757.3V557.2H754.2zM303.1 557.2H426.7V560.3H303.1zM454.5 557.2H528.6V560.3H454.5zM534.8 557.2H605.9V560.3H534.8zM754.2 557.2H757.3V560.3H754.2zM306.2 560.3H420.5V563.4H306.2zM454.5 560.3H528.6V563.4H454.5zM534.8 560.3H605.9V563.4H534.8zM754.2 560.3H757.3V563.4H754.2zM309.2 563.4H417.4V566.4H309.2zM457.6 563.4H528.6V566.4H457.6zM534.8 563.4H581.2V566.4H534.8zM584.3 563.4H605.9V566.4H584.3zM754.2 563.4H757.3V566.4H754.2zM312.3 566.4H414.3V569.5H312.3zM457.6 566.4H528.6V569.5H457.6zM534.8 566.4H605.9V569.5H534.8zM754.2 566.4H757.3V569.5H754.2zM315.4 569.5H411.2V572.6H315.4zM457.6 569.5H528.6V572.6H457.6zM534.8 569.5H605.9V572.6H534.8zM754.2 569.5H757.3V572.6H754.2zM315.4 572.6H408.1V575.7H315.4zM457.6 572.6H528.6V575.7H457.6zM534.8 572.6H605.9V575.7H534.8zM754.2 572.6H757.3V575.7H754.2zM318.5 575.7H371.0V578.8H318.5zM374.1 575.7H408.1V578.8H374.1zM457.6 575.7H528.6V578.8H457.6zM534.8 575.7H556.4V578.8H534.8zM562.6 575.7H605.9V578.8H562.6zM754.2 575.7H757.3V578.8H754.2zM318.5 578.8H408.1V581.8H318.5zM445.2 578.8H451.4V581.8H445.2zM460.7 578.8H528.6V581.8H460.7zM534.8 578.8H553.4V581.8H534.8zM565.7 578.8H593.5V581.8H565.7zM599.7 578.8H605.9V581.8H599.7zM754.2 578.8H757.3V581.8H754.2zM318.5 581.8H408.1V584.9H318.5zM435.9 581.8H451.4V584.9H435.9zM460.7 581.8H528.6V584.9H460.7zM534.8 581.8H556.4V584.9H534.8zM568.8 581.8H593.5V584.9H568.8zM602.8 581.8H605.9V584.9H602.8zM754.2 581.8H757.3V584.9H754.2zM318.5 584.9H405.0V588.0H318.5zM435.9 584.9H451.4V588.0H435.9zM460.7 584.9H528.6V588.0H460.7zM534.8 584.9H562.6V588.0H534.8zM565.7 584.9H593.5V588.0H565.7zM599.7 584.9H605.9V588.0H599.7zM754.2 584.9H757.3V588.0H754.2zM318.5 588.0H405.0V591.1H318.5zM435.9 588.0H451.4V591.1H435.9zM460.7 588.0H528.6V591.1H460.7zM534.8 588.0H605.9V591.1H534.8zM754.2 588.0H757.3V591.1H754.2zM318.5 591.1H408.1V594.2H318.5zM435.9 591.1H451.4V594.2H435.9zM463.7 591.1H528.6V594.2H463.7zM534.8 591.1H575.0V594.2H534.8zM581.2 591.1H605.9V594.2H581.2zM754.2 591.1H757.3V594.2H754.2zM318.5 594.2H405.0V597.2H318.5zM463.7 594.2H528.6V597.2H463.7zM544.1 594.2H571.9V597.2H544.1zM581.2 594.2H605.9V597.2H581.2zM754.2 594.2H757.3V597.2H754.2zM318.5 597.2H408.1V600.3H318.5zM460.7 597.2H528.6V600.3H460.7zM550.3 597.2H571.9V600.3H550.3zM587.3 597.2H605.9V600.3H587.3zM754.2 597.2H757.3V600.3H754.2zM315.4 600.3H411.2V603.4H315.4zM460.7 600.3H528.6V603.4H460.7zM550.3 600.3H578.1V603.4H550.3zM593.5 600.3H605.9V603.4H593.5zM754.2 600.3H757.3V603.4H754.2zM315.4 603.4H411.2V606.5H315.4zM457.6 603.4H528.6V606.5H457.6zM550.3 603.4H578.1V606.5H550.3zM602.8 603.4H605.9V606.5H602.8zM754.2 603.4H757.3V606.5H754.2zM312.3 606.5H414.3V609.6H312.3zM457.6 606.5H528.6V609.6H457.6zM550.3 606.5H568.8V609.6H550.3zM754.2 606.5H757.3V609.6H754.2zM312.3 609.6H414.3V612.6H312.3zM457.6 609.6H528.6V612.6H457.6zM550.3 609.6H562.6V612.6H550.3zM754.2 609.6H757.3V612.6H754.2zM309.2 612.6H417.4V615.7H309.2zM457.6 612.6H528.6V615.7H457.6zM553.4 612.6H562.6V615.7H553.4zM754.2 612.6H757.3V615.7H754.2zM244.4 615.7H247.4V618.8H244.4zM303.1 615.7H423.6V618.8H303.1zM454.5 615.7H528.6V618.8H454.5zM754.2 615.7H757.3V618.8H754.2zM232.0 618.8H253.6V621.9H232.0zM296.9 618.8H448.3V621.9H296.9zM454.5 618.8H528.6V621.9H454.5zM754.2 618.8H757.3V621.9H754.2zM198.0 621.9H448.3V625.0H198.0zM454.5 621.9H528.6V625.0H454.5zM754.2 621.9H757.3V625.0H754.2zM185.6 625.0H448.3V628.0H185.6zM457.6 625.0H525.5V628.0H457.6zM176.4 628.0H448.3V631.1H176.4zM451.4 628.0H525.5V631.1H451.4zM751.1 628.0H754.2V631.1H751.1zM164.0 631.1H204.2V634.2H164.0zM213.5 631.1H445.2V634.2H213.5zM451.4 631.1H525.5V634.2H451.4zM751.1 631.1H754.2V634.2H751.1zM151.7 634.2H194.9V637.3H151.7zM222.7 634.2H346.3V637.3H222.7zM374.1 634.2H445.2V637.3H374.1zM451.4 634.2H525.5V637.3H451.4zM751.1 634.2H754.2V637.3H751.1zM142.4 637.3H191.8V640.4H142.4zM228.9 637.3H340.1V640.4H228.9zM380.3 637.3H445.2V640.4H380.3zM451.4 637.3H525.5V640.4H451.4zM751.1 637.3H754.2V640.4H751.1zM133.1 640.4H185.6V643.4H133.1zM232.0 640.4H337.1V643.4H232.0zM383.4 640.4H442.1V643.4H383.4zM448.3 640.4H525.5V643.4H448.3zM751.1 640.4H754.2V643.4H751.1zM126.9 643.4H185.6V646.5H126.9zM235.1 643.4H334.0V646.5H235.1zM386.5 643.4H442.1V646.5H386.5zM448.3 643.4H522.5V646.5H448.3zM751.1 643.4H754.2V646.5H751.1zM126.9 646.5H182.6V649.6H126.9zM235.1 646.5H334.0V649.6H235.1zM389.6 646.5H442.1V649.6H389.6zM448.3 646.5H522.5V649.6H448.3zM751.1 646.5H754.2V649.6H751.1zM130.0 649.6H182.6V652.7H130.0zM238.2 649.6H330.9V652.7H238.2zM389.6 649.6H439.0V652.7H389.6zM448.3 649.6H522.5V652.7H448.3zM751.1 649.6H754.2V652.7H751.1zM130.0 652.7H179.5V655.8H130.0zM238.2 652.7H330.9V655.8H238.2zM389.6 652.7H439.0V655.8H389.6zM454.5 652.7H522.5V655.8H454.5zM133.1 655.8H179.5V658.8H133.1zM238.2 655.8H327.8V658.8H238.2zM392.7 655.8H435.9V658.8H392.7zM460.7 655.8H519.4V658.8H460.7zM133.1 658.8H179.5V661.9H133.1zM204.2 658.8H207.3V661.9H204.2zM241.3 658.8H327.8V661.9H241.3zM392.7 658.8H435.9V661.9H392.7zM469.9 658.8H519.4V661.9H469.9zM136.2 661.9H179.5V665.0H136.2zM201.1 661.9H210.4V665.0H201.1zM241.3 661.9H327.8V665.0H241.3zM358.7 661.9H368.0V665.0H358.7zM392.7 661.9H435.9V665.0H392.7zM476.1 661.9H519.4V665.0H476.1zM748.0 661.9H751.1V665.0H748.0zM136.2 665.0H179.5V668.1H136.2zM198.0 665.0H210.4V668.1H198.0zM241.3 665.0H327.8V668.1H241.3zM358.7 665.0H371.0V668.1H358.7zM389.6 665.0H432.8V668.1H389.6zM482.3 665.0H516.3V668.1H482.3zM748.0 665.0H751.1V668.1H748.0zM139.3 668.1H179.5V671.2H139.3zM198.0 668.1H210.4V671.2H198.0zM241.3 668.1H330.9V671.2H241.3zM358.7 668.1H371.0V671.2H358.7zM389.6 668.1H429.8V671.2H389.6zM488.5 668.1H516.3V671.2H488.5zM748.0 668.1H751.1V671.2H748.0zM139.3 671.2H182.6V674.2H139.3zM201.1 671.2H204.2V674.2H201.1zM241.3 671.2H330.9V674.2H241.3zM389.6 671.2H429.8V674.2H389.6zM494.6 671.2H516.3V674.2H494.6zM142.4 674.2H182.6V677.3H142.4zM238.2 674.2H330.9V677.3H238.2zM386.5 674.2H426.7V677.3H386.5zM500.8 674.2H513.2V677.3H500.8zM142.4 677.3H185.6V680.4H142.4zM238.2 677.3H330.9V680.4H238.2zM383.4 677.3H426.7V680.4H383.4zM510.1 677.3H513.2V680.4H510.1zM744.9 677.3H748.0V680.4H744.9zM145.5 680.4H188.7V683.5H145.5zM235.1 680.4H334.0V683.5H235.1zM380.3 680.4H423.6V683.5H380.3zM744.9 680.4H748.0V683.5H744.9zM148.6 683.5H188.7V686.6H148.6zM232.0 683.5H337.1V686.6H232.0zM380.3 683.5H420.5V686.6H380.3zM744.9 683.5H748.0V686.6H744.9zM151.7 686.6H191.8V689.6H151.7zM232.0 686.6H340.1V689.6H232.0zM377.2 686.6H420.5V689.6H377.2zM151.7 689.6H194.9V692.7H151.7zM225.8 689.6H343.2V692.7H225.8zM374.1 689.6H417.4V692.7H374.1zM154.7 692.7H198.0V695.8H154.7zM219.6 692.7H346.3V695.8H219.6zM371.0 692.7H414.3V695.8H371.0zM157.8 695.8H411.2V698.9H157.8zM741.8 695.8H744.9V698.9H741.8zM160.9 698.9H408.1V702.0H160.9zM741.8 698.9H744.9V702.0H741.8zM164.0 702.0H405.0V705.0H164.0zM167.1 705.0H401.9V708.1H167.1zM170.2 708.1H398.9V711.2H170.2zM738.8 708.1H741.8V711.2H738.8zM173.3 711.2H201.1V714.3H173.3zM213.5 711.2H272.2V714.3H213.5zM296.9 711.2H355.6V714.3H296.9zM368.0 711.2H395.8V714.3H368.0zM738.8 711.2H741.8V714.3H738.8zM176.4 714.3H194.9V717.4H176.4zM225.8 714.3H266.0V717.4H225.8zM306.2 714.3H346.3V717.4H306.2zM374.1 714.3H392.7V717.4H374.1zM735.7 714.3H738.8V717.4H735.7zM179.5 717.4H188.7V720.4H179.5zM228.9 717.4H262.9V720.4H228.9zM306.2 717.4H340.1V720.4H306.2zM377.2 717.4H389.6V720.4H377.2zM735.7 717.4H738.8V720.4H735.7zM182.6 720.4H185.6V723.5H182.6zM232.0 720.4H259.8V723.5H232.0zM309.2 720.4H337.1V723.5H309.2zM380.3 720.4H386.5V723.5H380.3zM732.6 720.4H735.7V723.5H732.6zM232.0 723.5H259.8V726.6H232.0zM312.3 723.5H337.1V726.6H312.3zM732.6 723.5H735.7V726.6H732.6zM235.1 726.6H256.7V729.7H235.1zM312.3 726.6H334.0V729.7H312.3zM732.6 726.6H735.7V729.7H732.6zM235.1 729.7H256.7V732.8H235.1zM315.4 729.7H334.0V732.8H315.4zM729.5 729.7H732.6V732.8H729.5zM238.2 732.8H253.6V735.8H238.2zM315.4 732.8H334.0V735.8H315.4zM729.5 732.8H732.6V735.8H729.5zM238.2 735.8H253.6V738.9H238.2zM315.4 735.8H330.9V738.9H315.4zM729.5 735.8H732.6V738.9H729.5zM238.2 738.9H253.6V742.0H238.2zM278.3 738.9H290.7V742.0H278.3zM315.4 738.9H330.9V742.0H315.4zM726.4 738.9H729.5V742.0H726.4zM238.2 742.0H253.6V745.1H238.2zM278.3 742.0H293.8V745.1H278.3zM315.4 742.0H330.9V745.1H315.4zM726.4 742.0H729.5V745.1H726.4zM238.2 745.1H253.6V748.2H238.2zM278.3 745.1H293.8V748.2H278.3zM315.4 745.1H330.9V748.2H315.4zM726.4 745.1H729.5V748.2H726.4zM241.3 748.2H256.7V751.2H241.3zM278.3 748.2H293.8V751.2H278.3zM315.4 748.2H327.8V751.2H315.4zM253.6 751.2H256.7V754.3H253.6zM278.3 751.2H293.8V754.3H278.3zM723.3 751.2H726.4V754.3H723.3zM723.3 754.3H726.4V757.4H723.3zM723.3 757.4H726.4V760.5H723.3zM720.2 760.5H723.3V763.6H720.2zM720.2 763.6H723.3V766.6H720.2zM717.1 766.6H720.2V769.7H717.1zM714.0 769.7H720.2V772.8H714.0zM714.0 772.8H717.1V775.9H714.0zM714.0 775.9H717.1V779.0H714.0zM710.9 779.0H714.0V782.0H710.9zM710.9 782.0H714.0V785.1H710.9zM707.9 788.2H710.9V791.3H707.9zM704.8 794.4H707.9V797.4H704.8zM701.7 797.4H707.9V800.5H701.7zM701.7 800.5H704.8V803.6H701.7zM698.6 803.6H704.8V806.7H698.6zM698.6 806.7H701.7V809.8H698.6zM695.5 809.8H698.6V812.8H695.5zM692.4 812.8H695.5V815.9H692.4zM692.4 815.9H695.5V819.0H692.4zM689.3 819.0H692.4V822.1H689.3zM686.2 822.1H689.3V825.2H686.2zM686.2 825.2H689.3V828.2H686.2zM683.1 828.2H686.2V831.3H683.1zM680.0 831.3H686.2V834.4H680.0zM677.0 834.4H683.1V837.5H677.0zM673.9 837.5H683.1V840.6H673.9zM673.9 840.6H677.0V843.6H673.9z"/><path fill="rgb(37,155,226)" stroke="rgb(37,155,226)" stroke-width="0.4" d="M244.4 119.8H250.5V122.9H244.4zM259.8 119.8H269.1V122.9H259.8zM272.2 122.9H281.4V126.0H272.2zM309.2 126.0H312.3V129.1H309.2zM315.4 126.0H318.5V129.1H315.4zM173.3 129.1H179.5V132.2H173.3zM337.1 129.1H349.4V132.2H337.1zM355.6 132.2H368.0V135.2H355.6zM371.0 135.2H386.5V138.3H371.0zM386.5 138.3H395.8V141.4H386.5zM398.9 141.4H411.2V144.5H398.9zM411.2 144.5H420.5V147.6H411.2zM420.5 147.6H429.8V150.6H420.5zM429.8 150.6H435.9V153.7H429.8zM439.0 153.7H445.2V156.8H439.0zM448.3 156.8H454.5V159.9H448.3zM454.5 159.9H460.7V163.0H454.5zM460.7 163.0H466.8V166.0H460.7zM466.8 166.0H473.0V169.1H466.8zM473.0 169.1H479.2V172.2H473.0zM476.1 172.2H482.3V175.3H476.1zM479.2 175.3H488.5V178.4H479.2zM482.3 178.4H491.6V181.4H482.3zM485.4 181.4H494.6V184.5H485.4zM485.4 184.5H497.7V187.6H485.4zM488.5 187.6H497.7V190.7H488.5zM259.8 190.7H266.0V193.8H259.8zM269.1 190.7H318.5V193.8H269.1zM488.5 190.7H500.8V193.8H488.5zM235.1 193.8H241.3V196.8H235.1zM244.4 193.8H253.6V196.8H244.4zM256.7 193.8H269.1V196.8H256.7zM272.2 193.8H281.4V196.8H272.2zM284.5 193.8H337.1V196.8H284.5zM491.6 193.8H503.9V196.8H491.6zM219.6 196.8H228.9V199.9H219.6zM232.0 196.8H241.3V199.9H232.0zM244.4 196.8H253.6V199.9H244.4zM256.7 196.8H269.1V199.9H256.7zM272.2 196.8H281.4V199.9H272.2zM284.5 196.8H340.1V199.9H284.5zM491.6 196.8H503.9V199.9H491.6zM198.0 199.9H201.1V203.0H198.0zM219.6 199.9H228.9V203.0H219.6zM232.0 199.9H241.3V203.0H232.0zM244.4 199.9H253.6V203.0H244.4zM256.7 199.9H266.0V203.0H256.7zM269.1 199.9H281.4V203.0H269.1zM284.5 199.9H340.1V203.0H284.5zM491.6 199.9H507.0V203.0H491.6zM185.6 203.0H188.7V206.1H185.6zM191.8 203.0H201.1V206.1H191.8zM210.4 203.0H213.5V206.1H210.4zM219.6 203.0H228.9V206.1H219.6zM232.0 203.0H241.3V206.1H232.0zM244.4 203.0H253.6V206.1H244.4zM256.7 203.0H266.0V206.1H256.7zM269.1 203.0H278.3V206.1H269.1zM281.4 203.0H337.1V206.1H281.4zM491.6 203.0H507.0V206.1H491.6zM170.2 206.1H176.4V209.2H170.2zM179.5 206.1H188.7V209.2H179.5zM191.8 206.1H201.1V209.2H191.8zM204.2 206.1H213.5V209.2H204.2zM216.5 206.1H225.8V209.2H216.5zM232.0 206.1H241.3V209.2H232.0zM244.4 206.1H253.6V209.2H244.4zM256.7 206.1H266.0V209.2H256.7zM269.1 206.1H278.3V209.2H269.1zM281.4 206.1H337.1V209.2H281.4zM491.6 206.1H507.0V209.2H491.6zM160.9 209.2H176.4V212.2H160.9zM179.5 209.2H188.7V212.2H179.5zM191.8 209.2H194.9V212.2H191.8zM198.0 209.2H201.1V212.2H198.0zM204.2 209.2H213.5V212.2H204.2zM216.5 209.2H225.8V212.2H216.5zM228.9 209.2H241.3V212.2H228.9zM244.4 209.2H253.6V212.2H244.4zM256.7 209.2H266.0V212.2H256.7zM269.1 209.2H278.3V212.2H269.1zM281.4 209.2H343.2V212.2H281.4zM488.5 209.2H503.9V212.2H488.5zM160.9 212.2H164.0V215.3H160.9zM167.1 212.2H176.4V215.3H167.1zM179.5 212.2H188.7V215.3H179.5zM191.8 212.2H194.9V215.3H191.8zM198.0 212.2H201.1V215.3H198.0zM204.2 212.2H213.5V215.3H204.2zM216.5 212.2H225.8V215.3H216.5zM228.9 212.2H238.2V215.3H228.9zM241.3 212.2H253.6V215.3H241.3zM256.7 212.2H266.0V215.3H256.7zM269.1 212.2H278.3V215.3H269.1zM281.4 212.2H346.3V215.3H281.4zM488.5 212.2H503.9V215.3H488.5zM160.9 215.3H164.0V218.4H160.9zM167.1 215.3H176.4V218.4H167.1zM179.5 215.3H188.7V218.4H179.5zM191.8 215.3H201.1V218.4H191.8zM204.2 215.3H213.5V218.4H204.2zM216.5 215.3H225.8V218.4H216.5zM228.9 215.3H238.2V218.4H228.9zM241.3 215.3H250.5V218.4H241.3zM253.6 215.3H262.9V218.4H253.6zM269.1 215.3H278.3V218.4H269.1zM281.4 215.3H296.9V218.4H281.4zM312.3 215.3H349.4V218.4H312.3zM488.5 215.3H500.8V218.4H488.5zM160.9 218.4H164.0V221.5H160.9zM167.1 218.4H176.4V221.5H167.1zM179.5 218.4H188.7V221.5H179.5zM191.8 218.4H194.9V221.5H191.8zM198.0 218.4H201.1V221.5H198.0zM204.2 218.4H213.5V221.5H204.2zM216.5 218.4H225.8V221.5H216.5zM228.9 218.4H238.2V221.5H228.9zM241.3 218.4H250.5V221.5H241.3zM253.6 218.4H296.9V221.5H253.6zM312.3 218.4H349.4V221.5H312.3zM485.4 218.4H500.8V221.5H485.4zM160.9 221.5H164.0V224.6H160.9zM167.1 221.5H176.4V224.6H167.1zM179.5 221.5H188.7V224.6H179.5zM191.8 221.5H201.1V224.6H191.8zM204.2 221.5H213.5V224.6H204.2zM216.5 221.5H225.8V224.6H216.5zM228.9 221.5H256.7V224.6H228.9zM259.8 221.5H269.1V224.6H259.8zM272.2 221.5H281.4V224.6H272.2zM284.5 221.5H296.9V224.6H284.5zM312.3 221.5H355.6V224.6H312.3zM482.3 221.5H497.7V224.6H482.3zM160.9 224.6H164.0V227.6H160.9zM167.1 224.6H176.4V227.6H167.1zM179.5 224.6H188.7V227.6H179.5zM191.8 224.6H201.1V227.6H191.8zM204.2 224.6H232.0V227.6H204.2zM235.1 224.6H244.4V227.6H235.1zM247.4 224.6H256.7V227.6H247.4zM259.8 224.6H269.1V227.6H259.8zM272.2 224.6H281.4V227.6H272.2zM312.3 224.6H358.7V227.6H312.3zM473.0 224.6H494.6V227.6H473.0zM160.9 227.6H164.0V230.7H160.9zM167.1 227.6H170.2V230.7H167.1zM179.5 227.6H188.7V230.7H179.5zM191.8 227.6H219.6V230.7H191.8zM222.7 227.6H232.0V230.7H222.7zM235.1 227.6H244.4V230.7H235.1zM247.4 227.6H256.7V230.7H247.4zM259.8 227.6H269.1V230.7H259.8zM272.2 227.6H281.4V230.7H272.2zM290.7 227.6H296.9V230.7H290.7zM300.0 227.6H358.7V230.7H300.0zM473.0 227.6H491.6V230.7H473.0zM160.9 230.7H164.0V233.8H160.9zM167.1 230.7H170.2V233.8H167.1zM179.5 230.7H185.6V233.8H179.5zM188.7 230.7H191.8V233.8H188.7zM194.9 230.7H207.3V233.8H194.9zM210.4 230.7H219.6V233.8H210.4zM222.7 230.7H232.0V233.8H222.7zM235.1 230.7H244.4V233.8H235.1zM247.4 230.7H256.7V233.8H247.4zM259.8 230.7H269.1V233.8H259.8zM272.2 230.7H281.4V233.8H272.2zM284.5 230.7H361.8V233.8H284.5zM473.0 230.7H485.4V233.8H473.0zM160.9 233.8H164.0V236.9H160.9zM167.1 233.8H170.2V236.9H167.1zM198.0 233.8H207.3V236.9H198.0zM210.4 233.8H219.6V236.9H210.4zM222.7 233.8H228.9V236.9H222.7zM235.1 233.8H241.3V236.9H235.1zM247.4 233.8H253.6V236.9H247.4zM259.8 233.8H266.0V236.9H259.8zM272.2 233.8H278.3V236.9H272.2zM284.5 233.8H296.9V236.9H284.5zM300.0 233.8H318.5V236.9H300.0zM330.9 233.8H364.9V236.9H330.9zM479.2 233.8H482.3V236.9H479.2zM160.9 236.9H170.2V240.0H160.9zM201.1 236.9H207.3V240.0H201.1zM210.4 236.9H216.5V240.0H210.4zM219.6 236.9H228.9V240.0H219.6zM232.0 236.9H241.3V240.0H232.0zM244.4 236.9H253.6V240.0H244.4zM256.7 236.9H266.0V240.0H256.7zM269.1 236.9H278.3V240.0H269.1zM281.4 236.9H318.5V240.0H281.4zM334.0 236.9H368.0V240.0H334.0zM160.9 240.0H170.2V243.0H160.9zM201.1 240.0H204.2V243.0H201.1zM207.3 240.0H216.5V243.0H207.3zM219.6 240.0H228.9V243.0H219.6zM232.0 240.0H241.3V243.0H232.0zM244.4 240.0H253.6V243.0H244.4zM256.7 240.0H266.0V243.0H256.7zM269.1 240.0H278.3V243.0H269.1zM281.4 240.0H318.5V243.0H281.4zM343.2 240.0H374.1V243.0H343.2zM160.9 243.0H170.2V246.1H160.9zM188.7 243.0H194.9V246.1H188.7zM201.1 243.0H204.2V246.1H201.1zM207.3 243.0H216.5V246.1H207.3zM219.6 243.0H228.9V246.1H219.6zM232.0 243.0H241.3V246.1H232.0zM244.4 243.0H253.6V246.1H244.4zM256.7 243.0H266.0V246.1H256.7zM269.1 243.0H278.3V246.1H269.1zM281.4 243.0H318.5V246.1H281.4zM352.5 243.0H380.3V246.1H352.5zM160.9 246.1H170.2V249.2H160.9zM188.7 246.1H191.8V249.2H188.7zM194.9 246.1H204.2V249.2H194.9zM207.3 246.1H216.5V249.2H207.3zM219.6 246.1H228.9V249.2H219.6zM232.0 246.1H241.3V249.2H232.0zM244.4 246.1H253.6V249.2H244.4zM256.7 246.1H266.0V249.2H256.7zM269.1 246.1H278.3V249.2H269.1zM281.4 246.1H296.9V249.2H281.4zM303.1 246.1H321.6V249.2H303.1zM352.5 246.1H386.5V249.2H352.5zM185.6 249.2H191.8V252.3H185.6zM194.9 249.2H204.2V252.3H194.9zM207.3 249.2H216.5V252.3H207.3zM219.6 249.2H228.9V252.3H219.6zM232.0 249.2H241.3V252.3H232.0zM244.4 249.2H253.6V252.3H244.4zM256.7 249.2H266.0V252.3H256.7zM269.1 249.2H275.3V252.3H269.1zM281.4 249.2H296.9V252.3H281.4zM303.1 249.2H306.2V252.3H303.1zM312.3 249.2H327.8V252.3H312.3zM355.6 249.2H392.7V252.3H355.6zM185.6 252.3H191.8V255.4H185.6zM194.9 252.3H204.2V255.4H194.9zM207.3 252.3H216.5V255.4H207.3zM219.6 252.3H228.9V255.4H219.6zM232.0 252.3H241.3V255.4H232.0zM244.4 252.3H250.5V255.4H244.4zM256.7 252.3H262.9V255.4H256.7zM266.0 252.3H275.3V255.4H266.0zM278.3 252.3H293.8V255.4H278.3zM318.5 252.3H324.7V255.4H318.5zM358.7 252.3H411.2V255.4H358.7zM160.9 255.4H170.2V258.4H160.9zM179.5 255.4H182.6V258.4H179.5zM185.6 255.4H191.8V258.4H185.6zM194.9 255.4H204.2V258.4H194.9zM207.3 255.4H216.5V258.4H207.3zM219.6 255.4H228.9V258.4H219.6zM232.0 255.4H238.2V258.4H232.0zM241.3 255.4H250.5V258.4H241.3zM253.6 255.4H262.9V258.4H253.6zM266.0 255.4H275.3V258.4H266.0zM278.3 255.4H293.8V258.4H278.3zM321.6 255.4H324.7V258.4H321.6zM327.8 255.4H330.9V258.4H327.8zM361.8 255.4H414.3V258.4H361.8zM160.9 258.4H170.2V261.5H160.9zM173.3 258.4H179.5V261.5H173.3zM185.6 258.4H191.8V261.5H185.6zM194.9 258.4H204.2V261.5H194.9zM207.3 258.4H216.5V261.5H207.3zM219.6 258.4H222.7V261.5H219.6zM225.8 258.4H228.9V261.5H225.8zM232.0 258.4H238.2V261.5H232.0zM241.3 258.4H250.5V261.5H241.3zM253.6 258.4H262.9V261.5H253.6zM266.0 258.4H275.3V261.5H266.0zM278.3 258.4H287.6V261.5H278.3zM321.6 258.4H330.9V261.5H321.6zM392.7 258.4H417.4V261.5H392.7zM160.9 261.5H170.2V264.6H160.9zM173.3 261.5H179.5V264.6H173.3zM182.6 261.5H191.8V264.6H182.6zM194.9 261.5H204.2V264.6H194.9zM207.3 261.5H216.5V264.6H207.3zM228.9 261.5H238.2V264.6H228.9zM241.3 261.5H250.5V264.6H241.3zM401.9 261.5H426.7V264.6H401.9zM164.0 264.6H170.2V267.7H164.0zM173.3 264.6H179.5V267.7H173.3zM182.6 264.6H191.8V267.7H182.6zM194.9 264.6H204.2V267.7H194.9zM207.3 264.6H216.5V267.7H207.3zM219.6 264.6H225.8V267.7H219.6zM405.0 264.6H439.0V267.7H405.0zM164.0 267.7H170.2V270.8H164.0zM173.3 267.7H179.5V270.8H173.3zM182.6 267.7H185.6V270.8H182.6zM194.9 267.7H204.2V270.8H194.9zM207.3 267.7H213.5V270.8H207.3zM411.2 267.7H451.4V270.8H411.2zM164.0 270.8H170.2V273.8H164.0zM173.3 270.8H179.5V273.8H173.3zM182.6 270.8H185.6V273.8H182.6zM188.7 270.8H191.8V273.8H188.7zM194.9 270.8H201.1V273.8H194.9zM420.5 270.8H460.7V273.8H420.5zM164.0 273.8H170.2V276.9H164.0zM173.3 273.8H179.5V276.9H173.3zM182.6 273.8H188.7V276.9H182.6zM429.8 273.8H466.8V276.9H429.8zM164.0 276.9H170.2V280.0H164.0zM173.3 276.9H179.5V280.0H173.3zM460.7 276.9H473.0V280.0H460.7zM164.0 280.0H170.2V283.1H164.0zM466.8 280.0H479.2V283.1H466.8zM469.9 283.1H482.3V286.2H469.9zM476.1 286.2H488.5V289.2H476.1zM482.3 289.2H494.6V292.3H482.3zM485.4 292.3H497.7V295.4H485.4zM491.6 295.4H503.9V298.5H491.6zM497.7 298.5H507.0V301.6H497.7zM500.8 301.6H510.1V304.6H500.8zM507.0 304.6H516.3V307.7H507.0zM510.1 307.7H519.4V310.8H510.1zM513.2 310.8H522.5V313.9H513.2zM516.3 313.9H528.6V317.0H516.3zM519.4 317.0H531.7V320.0H519.4zM525.5 320.0H534.8V323.1H525.5zM528.6 323.1H537.9V326.2H528.6zM531.7 326.2H541.0V329.3H531.7zM534.8 329.3H544.1V332.4H534.8zM537.9 332.4H550.3V335.4H537.9zM541.0 335.4H553.4V338.5H541.0zM547.2 338.5H553.4V341.6H547.2zM550.3 341.6H556.4V344.7H550.3zM553.4 344.7H559.5V347.8H553.4zM553.4 347.8H562.6V350.8H553.4zM556.4 350.8H565.7V353.9H556.4zM559.5 353.9H565.7V357.0H559.5zM562.6 357.0H568.8V360.1H562.6zM565.7 360.1H571.9V363.2H565.7zM568.8 363.2H575.0V366.2H568.8zM568.8 366.2H575.0V369.3H568.8zM571.9 369.3H578.1V372.4H571.9zM575.0 372.4H581.2V375.5H575.0zM575.0 375.5H581.2V378.6H575.0zM578.1 378.6H584.3V381.6H578.1zM578.1 381.6H587.3V384.7H578.1zM581.2 384.7H590.4V387.8H581.2zM584.3 387.8H590.4V390.9H584.3zM587.3 390.9H593.5V394.0H587.3zM587.3 394.0H596.6V397.0H587.3zM590.4 397.0H599.7V400.1H590.4zM590.4 400.1H599.7V403.2H590.4zM593.5 403.2H602.8V406.3H593.5zM596.6 406.3H602.8V409.4H596.6zM596.6 409.4H602.8V412.4H596.6zM599.7 412.4H605.9V415.5H599.7zM599.7 415.5H605.9V418.6H599.7zM602.8 418.6H609.0V421.7H602.8zM602.8 421.7H612.1V424.8H602.8zM605.9 424.8H612.1V427.8H605.9zM605.9 427.8H615.2V430.9H605.9zM686.2 427.8H698.6V430.9H686.2zM609.0 430.9H615.2V434.0H609.0zM683.1 430.9H704.8V434.0H683.1zM612.1 434.0H618.2V437.1H612.1zM683.1 434.0H707.9V437.1H683.1zM612.1 437.1H618.2V440.2H612.1zM680.0 437.1H692.4V440.2H680.0zM695.5 437.1H710.9V440.2H695.5zM615.2 440.2H621.3V443.2H615.2zM680.0 440.2H692.4V443.2H680.0zM698.6 440.2H714.0V443.2H698.6zM615.2 443.2H621.3V446.3H615.2zM677.0 443.2H692.4V446.3H677.0zM701.7 443.2H717.1V446.3H701.7zM272.2 446.3H275.3V449.4H272.2zM293.8 446.3H300.0V449.4H293.8zM615.2 446.3H624.4V449.4H615.2zM677.0 446.3H689.3V449.4H677.0zM704.8 446.3H717.1V449.4H704.8zM272.2 449.4H300.0V452.5H272.2zM618.2 449.4H624.4V452.5H618.2zM677.0 449.4H686.2V452.5H677.0zM707.9 449.4H717.1V452.5H707.9zM275.3 452.5H296.9V455.6H275.3zM618.2 452.5H627.5V455.6H618.2zM673.9 452.5H683.1V455.6H673.9zM707.9 452.5H720.2V455.6H707.9zM618.2 455.6H627.5V458.6H618.2zM673.9 455.6H683.1V458.6H673.9zM710.9 455.6H723.3V458.6H710.9zM621.3 458.6H627.5V461.7H621.3zM673.9 458.6H680.0V461.7H673.9zM714.0 458.6H726.4V461.7H714.0zM624.4 461.7H630.6V464.8H624.4zM667.7 461.7H680.0V464.8H667.7zM717.1 461.7H726.4V464.8H717.1zM624.4 464.8H630.6V467.9H624.4zM670.8 464.8H680.0V467.9H670.8zM720.2 464.8H726.4V467.9H720.2zM627.5 467.9H633.7V471.0H627.5zM670.8 467.9H680.0V471.0H670.8zM720.2 467.9H729.5V471.0H720.2zM627.5 471.0H633.7V474.0H627.5zM670.8 471.0H680.0V474.0H670.8zM723.3 471.0H729.5V474.0H723.3zM630.6 474.0H636.8V477.1H630.6zM673.9 474.0H683.1V477.1H673.9zM726.4 474.0H732.6V477.1H726.4zM630.6 477.1H636.8V480.2H630.6zM673.9 477.1H683.1V480.2H673.9zM726.4 477.1H732.6V480.2H726.4zM630.6 480.2H639.9V483.3H630.6zM673.9 480.2H680.0V483.3H673.9zM729.5 480.2H732.6V483.3H729.5zM633.7 483.3H639.9V486.4H633.7zM677.0 483.3H683.1V486.4H677.0zM729.5 483.3H732.6V486.4H729.5zM633.7 486.4H643.0V489.4H633.7zM677.0 486.4H683.1V489.4H677.0zM729.5 486.4H735.7V489.4H729.5zM636.8 489.4H646.1V492.5H636.8zM677.0 489.4H683.1V492.5H677.0zM729.5 489.4H735.7V492.5H729.5zM636.8 492.5H649.1V495.6H636.8zM677.0 492.5H680.0V495.6H677.0zM729.5 492.5H735.7V495.6H729.5zM639.9 495.6H652.2V498.7H639.9zM670.8 495.6H673.9V498.7H670.8zM729.5 495.6H735.7V498.7H729.5zM639.9 498.7H655.3V501.8H639.9zM661.5 498.7H673.9V501.8H661.5zM729.5 498.7H735.7V501.8H729.5zM340.1 501.8H349.4V504.8H340.1zM643.0 501.8H673.9V504.8H643.0zM680.0 501.8H683.1V504.8H680.0zM732.6 501.8H738.8V504.8H732.6zM337.1 504.8H349.4V507.9H337.1zM643.0 504.8H673.9V507.9H643.0zM680.0 504.8H683.1V507.9H680.0zM732.6 504.8H738.8V507.9H732.6zM337.1 507.9H340.1V511.0H337.1zM346.3 507.9H349.4V511.0H346.3zM646.1 507.9H677.0V511.0H646.1zM680.0 507.9H683.1V511.0H680.0zM735.7 507.9H738.8V511.0H735.7zM337.1 511.0H340.1V514.1H337.1zM346.3 511.0H349.4V514.1H346.3zM649.1 511.0H677.0V514.1H649.1zM683.1 511.0H686.2V514.1H683.1zM735.7 511.0H738.8V514.1H735.7zM337.1 514.1H340.1V517.2H337.1zM349.4 514.1H352.5V517.2H349.4zM652.2 514.1H673.9V517.2H652.2zM683.1 514.1H686.2V517.2H683.1zM735.7 514.1H738.8V517.2H735.7zM337.1 517.2H340.1V520.2H337.1zM349.4 517.2H352.5V520.2H349.4zM655.3 517.2H667.7V520.2H655.3zM683.1 517.2H686.2V520.2H683.1zM738.8 517.2H741.8V520.2H738.8zM337.1 520.2H340.1V523.3H337.1zM352.5 520.2H355.6V523.3H352.5zM371.0 520.2H380.3V523.3H371.0zM683.1 520.2H686.2V523.3H683.1zM735.7 520.2H741.8V523.3H735.7zM340.1 523.3H343.2V526.4H340.1zM361.8 523.3H380.3V526.4H361.8zM683.1 523.3H686.2V526.4H683.1zM735.7 523.3H741.8V526.4H735.7zM343.2 526.4H346.3V529.5H343.2zM371.0 526.4H377.2V529.5H371.0zM683.1 526.4H686.2V529.5H683.1zM735.7 526.4H741.8V529.5H735.7zM346.3 529.5H349.4V532.6H346.3zM371.0 529.5H374.1V532.6H371.0zM735.7 529.5H741.8V532.6H735.7zM349.4 532.6H355.6V535.6H349.4zM368.0 532.6H371.0V535.6H368.0zM686.2 532.6H689.3V535.6H686.2zM738.8 532.6H741.8V535.6H738.8zM358.7 535.6H364.9V538.7H358.7zM686.2 535.6H689.3V538.7H686.2zM738.8 535.6H741.8V538.7H738.8zM686.2 538.7H692.4V541.8H686.2zM738.8 538.7H741.8V541.8H738.8zM686.2 541.8H689.3V544.9H686.2zM738.8 541.8H741.8V544.9H738.8zM686.2 544.9H689.3V548.0H686.2zM738.8 544.9H744.9V548.0H738.8zM686.2 548.0H689.3V551.0H686.2zM738.8 548.0H744.9V551.0H738.8zM686.2 551.0H689.3V554.1H686.2zM738.8 551.0H744.9V554.1H738.8zM738.8 554.1H744.9V557.2H738.8zM738.8 557.2H744.9V560.3H738.8zM738.8 560.3H744.9V563.4H738.8zM738.8 563.4H744.9V566.4H738.8zM426.7 566.4H439.0V569.5H426.7zM689.3 566.4H692.4V569.5H689.3zM738.8 566.4H744.9V569.5H738.8zM420.5 569.5H439.0V572.6H420.5zM689.3 569.5H692.4V572.6H689.3zM738.8 569.5H744.9V572.6H738.8zM417.4 572.6H420.5V575.7H417.4zM429.8 572.6H435.9V575.7H429.8zM689.3 572.6H692.4V575.7H689.3zM738.8 572.6H744.9V575.7H738.8zM429.8 575.7H432.8V578.8H429.8zM689.3 575.7H692.4V578.8H689.3zM741.8 575.7H744.9V578.8H741.8zM414.3 578.8H417.4V581.8H414.3zM426.7 578.8H429.8V581.8H426.7zM689.3 578.8H692.4V581.8H689.3zM741.8 578.8H744.9V581.8H741.8zM426.7 581.8H429.8V584.9H426.7zM689.3 581.8H692.4V584.9H689.3zM741.8 581.8H744.9V584.9H741.8zM689.3 584.9H692.4V588.0H689.3zM741.8 584.9H744.9V588.0H741.8zM741.8 588.0H744.9V591.1H741.8zM426.7 591.1H429.8V594.2H426.7zM738.8 591.1H744.9V594.2H738.8zM414.3 594.2H417.4V597.2H414.3zM426.7 594.2H429.8V597.2H426.7zM738.8 594.2H744.9V597.2H738.8zM414.3 597.2H417.4V600.3H414.3zM738.8 597.2H744.9V600.3H738.8zM417.4 600.3H420.5V603.4H417.4zM429.8 600.3H435.9V603.4H429.8zM738.8 600.3H744.9V603.4H738.8zM420.5 603.4H435.9V606.5H420.5zM738.8 603.4H744.9V606.5H738.8zM426.7 606.5H435.9V609.6H426.7zM689.3 606.5H692.4V609.6H689.3zM738.8 606.5H744.9V609.6H738.8zM689.3 609.6H692.4V612.6H689.3zM738.8 609.6H744.9V612.6H738.8zM689.3 612.6H692.4V615.7H689.3zM738.8 612.6H744.9V615.7H738.8zM689.3 615.7H692.4V618.8H689.3zM738.8 615.7H744.9V618.8H738.8zM738.8 618.8H744.9V621.9H738.8zM686.2 621.9H689.3V625.0H686.2zM735.7 621.9H744.9V625.0H735.7zM686.2 625.0H689.3V628.0H686.2zM735.7 625.0H744.9V628.0H735.7zM686.2 628.0H689.3V631.1H686.2zM735.7 628.0H741.8V631.1H735.7zM686.2 631.1H689.3V634.2H686.2zM735.7 631.1H741.8V634.2H735.7zM686.2 634.2H689.3V637.3H686.2zM735.7 634.2H741.8V637.3H735.7zM686.2 637.3H692.4V640.4H686.2zM735.7 637.3H741.8V640.4H735.7zM201.1 640.4H204.2V643.4H201.1zM216.5 640.4H219.6V643.4H216.5zM349.4 640.4H352.5V643.4H349.4zM364.9 640.4H371.0V643.4H364.9zM686.2 640.4H695.5V643.4H686.2zM735.7 640.4H741.8V643.4H735.7zM194.9 643.4H201.1V646.5H194.9zM222.7 643.4H225.8V646.5H222.7zM343.2 643.4H346.3V646.5H343.2zM371.0 643.4H374.1V646.5H371.0zM686.2 643.4H695.5V646.5H686.2zM735.7 643.4H741.8V646.5H735.7zM194.9 646.5H201.1V649.6H194.9zM225.8 646.5H228.9V649.6H225.8zM340.1 646.5H343.2V649.6H340.1zM371.0 646.5H377.2V649.6H371.0zM683.1 646.5H695.5V649.6H683.1zM735.7 646.5H741.8V649.6H735.7zM194.9 649.6H207.3V652.7H194.9zM371.0 649.6H377.2V652.7H371.0zM683.1 649.6H695.5V652.7H683.1zM735.7 649.6H741.8V652.7H735.7zM210.4 652.7H213.5V655.8H210.4zM358.7 652.7H377.2V655.8H358.7zM683.1 652.7H695.5V655.8H683.1zM738.8 652.7H741.8V655.8H738.8zM213.5 655.8H216.5V658.8H213.5zM683.1 655.8H692.4V658.8H683.1zM735.7 655.8H741.8V658.8H735.7zM232.0 658.8H235.1V661.9H232.0zM334.0 658.8H337.1V661.9H334.0zM683.1 658.8H692.4V661.9H683.1zM735.7 658.8H741.8V661.9H735.7zM216.5 661.9H219.6V665.0H216.5zM232.0 661.9H235.1V665.0H232.0zM334.0 661.9H337.1V665.0H334.0zM683.1 661.9H689.3V665.0H683.1zM735.7 661.9H738.8V665.0H735.7zM216.5 665.0H219.6V668.1H216.5zM232.0 665.0H235.1V668.1H232.0zM334.0 665.0H337.1V668.1H334.0zM349.4 665.0H352.5V668.1H349.4zM680.0 665.0H689.3V668.1H680.0zM735.7 665.0H738.8V668.1H735.7zM216.5 668.1H219.6V671.2H216.5zM232.0 668.1H235.1V671.2H232.0zM334.0 668.1H337.1V671.2H334.0zM349.4 668.1H352.5V671.2H349.4zM680.0 668.1H686.2V671.2H680.0zM732.6 668.1H738.8V671.2H732.6zM216.5 671.2H219.6V674.2H216.5zM680.0 671.2H683.1V674.2H680.0zM732.6 671.2H738.8V674.2H732.6zM213.5 674.2H216.5V677.3H213.5zM228.9 674.2H232.0V677.3H228.9zM337.1 674.2H340.1V677.3H337.1zM352.5 674.2H355.6V677.3H352.5zM729.5 674.2H738.8V677.3H729.5zM213.5 677.3H216.5V680.4H213.5zM225.8 677.3H228.9V680.4H225.8zM340.1 677.3H343.2V680.4H340.1zM352.5 677.3H355.6V680.4H352.5zM680.0 677.3H683.1V680.4H680.0zM726.4 677.3H735.7V680.4H726.4zM210.4 680.4H216.5V683.5H210.4zM222.7 680.4H225.8V683.5H222.7zM343.2 680.4H346.3V683.5H343.2zM352.5 680.4H358.7V683.5H352.5zM677.0 680.4H680.0V683.5H677.0zM726.4 680.4H735.7V683.5H726.4zM210.4 683.5H222.7V686.6H210.4zM346.3 683.5H358.7V686.6H346.3zM677.0 683.5H683.1V686.6H677.0zM723.3 683.5H735.7V686.6H723.3zM677.0 686.6H683.1V689.6H677.0zM723.3 686.6H735.7V689.6H723.3zM677.0 689.6H683.1V692.7H677.0zM726.4 689.6H732.6V692.7H726.4zM673.9 692.7H683.1V695.8H673.9zM726.4 692.7H732.6V695.8H726.4zM673.9 695.8H680.0V698.9H673.9zM726.4 695.8H732.6V698.9H726.4zM673.9 698.9H680.0V702.0H673.9zM723.3 698.9H732.6V702.0H723.3zM670.8 702.0H680.0V705.0H670.8zM723.3 702.0H732.6V705.0H723.3zM670.8 705.0H677.0V708.1H670.8zM723.3 705.0H729.5V708.1H723.3zM670.8 708.1H677.0V711.2H670.8zM720.2 708.1H729.5V711.2H720.2zM670.8 711.2H677.0V714.3H670.8zM720.2 711.2H729.5V714.3H720.2zM667.7 714.3H673.9V717.4H667.7zM720.2 714.3H726.4V717.4H720.2zM278.3 717.4H287.6V720.4H278.3zM667.7 717.4H670.8V720.4H667.7zM720.2 717.4H726.4V720.4H720.2zM272.2 720.4H293.8V723.5H272.2zM717.1 720.4H726.4V723.5H717.1zM269.1 723.5H296.9V726.6H269.1zM664.6 723.5H667.7V726.6H664.6zM714.0 723.5H723.3V726.6H714.0zM266.0 726.6H300.0V729.7H266.0zM664.6 726.6H667.7V729.7H664.6zM714.0 726.6H723.3V729.7H714.0zM266.0 729.7H278.3V732.8H266.0zM293.8 729.7H303.1V732.8H293.8zM661.5 729.7H667.7V732.8H661.5zM714.0 729.7H720.2V732.8H714.0zM266.0 732.8H272.2V735.8H266.0zM300.0 732.8H303.1V735.8H300.0zM661.5 732.8H667.7V735.8H661.5zM714.0 732.8H720.2V735.8H714.0zM661.5 735.8H667.7V738.9H661.5zM714.0 735.8H720.2V738.9H714.0zM658.4 738.9H667.7V742.0H658.4zM714.0 738.9H720.2V742.0H714.0zM658.4 742.0H664.6V745.1H658.4zM710.9 742.0H717.1V745.1H710.9zM655.3 745.1H661.5V748.2H655.3zM710.9 745.1H717.1V748.2H710.9zM655.3 748.2H661.5V751.2H655.3zM710.9 748.2H717.1V751.2H710.9zM655.3 751.2H661.5V754.3H655.3zM707.9 751.2H714.0V754.3H707.9zM652.2 754.3H658.4V757.4H652.2zM704.8 754.3H714.0V757.4H704.8zM652.2 757.4H655.3V760.5H652.2zM704.8 757.4H714.0V760.5H704.8zM649.1 760.5H655.3V763.6H649.1zM701.7 760.5H710.9V763.6H701.7zM649.1 763.6H655.3V766.6H649.1zM701.7 763.6H707.9V766.6H701.7zM646.1 766.6H655.3V769.7H646.1zM698.6 766.6H707.9V769.7H698.6zM646.1 769.7H655.3V772.8H646.1zM695.5 769.7H707.9V772.8H695.5zM643.0 772.8H655.3V775.9H643.0zM695.5 772.8H704.8V775.9H695.5zM643.0 775.9H655.3V779.0H643.0zM695.5 775.9H704.8V779.0H695.5zM643.0 779.0H655.3V782.0H643.0zM689.3 779.0H704.8V782.0H689.3zM639.9 782.0H655.3V785.1H639.9zM686.2 782.0H701.7V785.1H686.2zM639.9 785.1H655.3V788.2H639.9zM686.2 785.1H701.7V788.2H686.2zM639.9 788.2H655.3V791.3H639.9zM686.2 788.2H698.6V791.3H686.2zM639.9 791.3H655.3V794.4H639.9zM683.1 791.3H695.5V794.4H683.1zM643.0 794.4H658.4V797.4H643.0zM680.0 794.4H695.5V797.4H680.0zM646.1 797.4H658.4V800.5H646.1zM677.0 797.4H692.4V800.5H677.0zM646.1 800.5H661.5V803.6H646.1zM670.8 800.5H689.3V803.6H670.8zM649.1 803.6H686.2V806.7H649.1zM652.2 806.7H686.2V809.8H652.2zM655.3 809.8H683.1V812.8H655.3zM655.3 812.8H673.9V815.9H655.3zM658.4 815.9H667.7V819.0H658.4z"/><path fill="rgb(35,166,213)" stroke="rgb(35,166,213)" stroke-width="0.4" d="M250.5 119.8H253.6V122.9H250.5zM204.2 122.9H210.4V126.0H204.2zM216.5 122.9H225.8V126.0H216.5zM228.9 122.9H238.2V126.0H228.9zM244.4 122.9H250.5V126.0H244.4zM256.7 122.9H269.1V126.0H256.7zM188.7 126.0H198.0V129.1H188.7zM272.2 126.0H281.4V129.1H272.2zM287.6 126.0H296.9V129.1H287.6zM300.0 126.0H309.2V129.1H300.0zM179.5 129.1H182.6V132.2H179.5zM315.4 129.1H324.7V132.2H315.4zM330.9 129.1H337.1V132.2H330.9zM173.3 132.2H179.5V135.2H173.3zM337.1 132.2H355.6V135.2H337.1zM358.7 135.2H371.0V138.3H358.7zM368.0 138.3H386.5V141.4H368.0zM386.5 141.4H398.9V144.5H386.5zM398.9 144.5H411.2V147.6H398.9zM411.2 147.6H420.5V150.6H411.2zM420.5 150.6H429.8V153.7H420.5zM426.7 153.7H439.0V156.8H426.7zM432.8 156.8H448.3V159.9H432.8zM442.1 159.9H454.5V163.0H442.1zM445.2 163.0H460.7V166.0H445.2zM451.4 166.0H466.8V169.1H451.4zM457.6 169.1H473.0V172.2H457.6zM460.7 172.2H476.1V175.3H460.7zM466.8 175.3H479.2V178.4H466.8zM469.9 178.4H482.3V181.4H469.9zM473.0 181.4H485.4V184.5H473.0zM476.1 184.5H485.4V187.6H476.1zM476.1 187.6H488.5V190.7H476.1zM253.6 190.7H259.8V193.8H253.6zM479.2 190.7H488.5V193.8H479.2zM225.8 193.8H235.1V196.8H225.8zM337.1 193.8H346.3V196.8H337.1zM479.2 193.8H491.6V196.8H479.2zM207.3 196.8H216.5V199.9H207.3zM340.1 196.8H361.8V199.9H340.1zM479.2 196.8H491.6V199.9H479.2zM191.8 199.9H198.0V203.0H191.8zM204.2 199.9H216.5V203.0H204.2zM340.1 199.9H374.1V203.0H340.1zM479.2 199.9H491.6V203.0H479.2zM179.5 203.0H185.6V206.1H179.5zM204.2 203.0H210.4V206.1H204.2zM337.1 203.0H371.0V206.1H337.1zM479.2 203.0H491.6V206.1H479.2zM337.1 206.1H368.0V209.2H337.1zM476.1 206.1H491.6V209.2H476.1zM194.9 209.2H198.0V212.2H194.9zM343.2 209.2H364.9V212.2H343.2zM473.0 209.2H488.5V212.2H473.0zM194.9 212.2H198.0V215.3H194.9zM346.3 212.2H361.8V215.3H346.3zM469.9 212.2H488.5V215.3H469.9zM349.4 215.3H361.8V218.4H349.4zM463.7 215.3H488.5V218.4H463.7zM194.9 218.4H198.0V221.5H194.9zM349.4 218.4H364.9V221.5H349.4zM454.5 218.4H485.4V221.5H454.5zM355.6 221.5H368.0V224.6H355.6zM454.5 221.5H482.3V224.6H454.5zM358.7 224.6H368.0V227.6H358.7zM460.7 224.6H473.0V227.6H460.7zM170.2 227.6H176.4V230.7H170.2zM358.7 227.6H374.1V230.7H358.7zM466.8 227.6H473.0V230.7H466.8zM170.2 230.7H176.4V233.8H170.2zM185.6 230.7H188.7V233.8H185.6zM191.8 230.7H194.9V233.8H191.8zM361.8 230.7H377.2V233.8H361.8zM170.2 233.8H194.9V236.9H170.2zM364.9 233.8H380.3V236.9H364.9zM170.2 236.9H182.6V240.0H170.2zM185.6 236.9H194.9V240.0H185.6zM198.0 236.9H201.1V240.0H198.0zM368.0 236.9H386.5V240.0H368.0zM173.3 240.0H182.6V243.0H173.3zM185.6 240.0H194.9V243.0H185.6zM198.0 240.0H201.1V243.0H198.0zM374.1 240.0H395.8V243.0H374.1zM173.3 243.0H182.6V246.1H173.3zM185.6 243.0H188.7V246.1H185.6zM198.0 243.0H201.1V246.1H198.0zM380.3 243.0H405.0V246.1H380.3zM173.3 246.1H182.6V249.2H173.3zM185.6 246.1H188.7V249.2H185.6zM386.5 246.1H414.3V249.2H386.5zM160.9 249.2H170.2V252.3H160.9zM173.3 249.2H182.6V252.3H173.3zM392.7 249.2H417.4V252.3H392.7zM160.9 252.3H170.2V255.4H160.9zM173.3 252.3H182.6V255.4H173.3zM411.2 252.3H426.7V255.4H411.2zM173.3 255.4H179.5V258.4H173.3zM414.3 255.4H435.9V258.4H414.3zM222.7 258.4H225.8V261.5H222.7zM417.4 258.4H442.1V261.5H417.4zM219.6 261.5H225.8V264.6H219.6zM426.7 261.5H457.6V264.6H426.7zM439.0 264.6H463.7V267.7H439.0zM516.3 264.6H519.4V267.7H516.3zM185.6 267.7H191.8V270.8H185.6zM451.4 267.7H469.9V270.8H451.4zM519.4 267.7H522.5V270.8H519.4zM185.6 270.8H188.7V273.8H185.6zM460.7 270.8H473.0V273.8H460.7zM466.8 273.8H479.2V276.9H466.8zM528.6 273.8H531.7V276.9H528.6zM473.0 276.9H488.5V280.0H473.0zM531.7 276.9H534.8V280.0H531.7zM479.2 280.0H494.6V283.1H479.2zM482.3 283.1H500.8V286.2H482.3zM488.5 286.2H503.9V289.2H488.5zM544.1 286.2H547.2V289.2H544.1zM494.6 289.2H507.0V292.3H494.6zM547.2 289.2H550.3V292.3H547.2zM497.7 292.3H510.1V295.4H497.7zM550.3 292.3H553.4V295.4H550.3zM503.9 295.4H513.2V298.5H503.9zM553.4 295.4H556.4V298.5H553.4zM507.0 298.5H519.4V301.6H507.0zM556.4 298.5H559.5V301.6H556.4zM510.1 301.6H522.5V304.6H510.1zM516.3 304.6H528.6V307.7H516.3zM519.4 307.7H531.7V310.8H519.4zM522.5 310.8H537.9V313.9H522.5zM528.6 313.9H537.9V317.0H528.6zM571.9 313.9H575.0V317.0H571.9zM531.7 317.0H541.0V320.0H531.7zM575.0 317.0H578.1V320.0H575.0zM534.8 320.0H544.1V323.1H534.8zM537.9 323.1H547.2V326.2H537.9zM578.1 323.1H584.3V326.2H578.1zM541.0 326.2H550.3V329.3H541.0zM581.2 326.2H587.3V329.3H581.2zM544.1 329.3H556.4V332.4H544.1zM550.3 332.4H556.4V335.4H550.3zM553.4 335.4H559.5V338.5H553.4zM590.4 335.4H593.5V338.5H590.4zM553.4 338.5H562.6V341.6H553.4zM593.5 338.5H596.6V341.6H593.5zM556.4 341.6H562.6V344.7H556.4zM596.6 341.6H599.7V344.7H596.6zM559.5 344.7H565.7V347.8H559.5zM596.6 344.7H599.7V347.8H596.6zM562.6 347.8H568.8V350.8H562.6zM565.7 350.8H571.9V353.9H565.7zM602.8 350.8H605.9V353.9H602.8zM565.7 353.9H575.0V357.0H565.7zM605.9 353.9H609.0V357.0H605.9zM568.8 357.0H578.1V360.1H568.8zM571.9 360.1H581.2V363.2H571.9zM575.0 363.2H581.2V366.2H575.0zM612.1 363.2H615.2V366.2H612.1zM575.0 366.2H584.3V369.3H575.0zM578.1 369.3H587.3V372.4H578.1zM615.2 369.3H618.2V372.4H615.2zM581.2 372.4H590.4V375.5H581.2zM618.2 372.4H621.3V375.5H618.2zM581.2 375.5H590.4V378.6H581.2zM584.3 378.6H593.5V381.6H584.3zM621.3 378.6H624.4V381.6H621.3zM587.3 381.6H596.6V384.7H587.3zM624.4 381.6H627.5V384.7H624.4zM590.4 384.7H599.7V387.8H590.4zM590.4 387.8H602.8V390.9H590.4zM627.5 387.8H630.6V390.9H627.5zM593.5 390.9H605.9V394.0H593.5zM596.6 394.0H605.9V397.0H596.6zM630.6 394.0H633.7V397.0H630.6zM599.7 397.0H609.0V400.1H599.7zM633.7 397.0H636.8V400.1H633.7zM599.7 400.1H609.0V403.2H599.7zM602.8 403.2H609.0V406.3H602.8zM636.8 403.2H639.9V406.3H636.8zM602.8 406.3H612.1V409.4H602.8zM602.8 409.4H612.1V412.4H602.8zM639.9 409.4H643.0V412.4H639.9zM605.9 412.4H615.2V415.5H605.9zM605.9 415.5H615.2V418.6H605.9zM643.0 415.5H646.1V418.6H643.0zM609.0 418.6H618.2V421.7H609.0zM612.1 421.7H621.3V424.8H612.1zM646.1 421.7H649.1V424.8H646.1zM612.1 424.8H621.3V427.8H612.1zM646.1 424.8H649.1V427.8H646.1zM615.2 427.8H624.4V430.9H615.2zM646.1 427.8H649.1V430.9H646.1zM615.2 430.9H624.4V434.0H615.2zM649.1 430.9H652.2V434.0H649.1zM618.2 434.0H624.4V437.1H618.2zM649.1 434.0H652.2V437.1H649.1zM618.2 437.1H627.5V440.2H618.2zM652.2 437.1H655.3V440.2H652.2zM621.3 440.2H627.5V443.2H621.3zM652.2 440.2H655.3V443.2H652.2zM692.4 440.2H698.6V443.2H692.4zM621.3 443.2H630.6V446.3H621.3zM692.4 443.2H701.7V446.3H692.4zM624.4 446.3H630.6V449.4H624.4zM655.3 446.3H658.4V449.4H655.3zM689.3 446.3H704.8V449.4H689.3zM624.4 449.4H633.7V452.5H624.4zM655.3 449.4H658.4V452.5H655.3zM686.2 449.4H698.6V452.5H686.2zM701.7 449.4H707.9V452.5H701.7zM627.5 452.5H633.7V455.6H627.5zM658.4 452.5H661.5V455.6H658.4zM683.1 452.5H707.9V455.6H683.1zM627.5 455.6H633.7V458.6H627.5zM658.4 455.6H661.5V458.6H658.4zM683.1 455.6H701.7V458.6H683.1zM704.8 455.6H710.9V458.6H704.8zM627.5 458.6H633.7V461.7H627.5zM658.4 458.6H661.5V461.7H658.4zM680.0 458.6H714.0V461.7H680.0zM630.6 461.7H636.8V464.8H630.6zM661.5 461.7H664.6V464.8H661.5zM680.0 461.7H717.1V464.8H680.0zM630.6 464.8H639.9V467.9H630.6zM661.5 464.8H664.6V467.9H661.5zM680.0 464.8H720.2V467.9H680.0zM633.7 467.9H643.0V471.0H633.7zM661.5 467.9H664.6V471.0H661.5zM680.0 467.9H692.4V471.0H680.0zM707.9 467.9H720.2V471.0H707.9zM633.7 471.0H646.1V474.0H633.7zM661.5 471.0H667.7V474.0H661.5zM680.0 471.0H692.4V474.0H680.0zM710.9 471.0H723.3V474.0H710.9zM636.8 474.0H646.1V477.1H636.8zM658.4 474.0H667.7V477.1H658.4zM683.1 474.0H689.3V477.1H683.1zM714.0 474.0H726.4V477.1H714.0zM636.8 477.1H646.1V480.2H636.8zM658.4 477.1H667.7V480.2H658.4zM683.1 477.1H689.3V480.2H683.1zM717.1 477.1H726.4V480.2H717.1zM639.9 480.2H652.2V483.3H639.9zM655.3 480.2H667.7V483.3H655.3zM680.0 480.2H689.3V483.3H680.0zM717.1 480.2H729.5V483.3H717.1zM639.9 483.3H670.8V486.4H639.9zM683.1 483.3H689.3V486.4H683.1zM717.1 483.3H729.5V486.4H717.1zM643.0 486.4H670.8V489.4H643.0zM683.1 486.4H689.3V489.4H683.1zM720.2 486.4H729.5V489.4H720.2zM646.1 489.4H670.8V492.5H646.1zM683.1 489.4H689.3V492.5H683.1zM720.2 489.4H729.5V492.5H720.2zM649.1 492.5H670.8V495.6H649.1zM680.0 492.5H692.4V495.6H680.0zM720.2 492.5H729.5V495.6H720.2zM652.2 495.6H670.8V498.7H652.2zM680.0 495.6H692.4V498.7H680.0zM720.2 495.6H729.5V498.7H720.2zM655.3 498.7H661.5V501.8H655.3zM680.0 498.7H692.4V501.8H680.0zM720.2 498.7H729.5V501.8H720.2zM683.1 501.8H692.4V504.8H683.1zM720.2 501.8H732.6V504.8H720.2zM683.1 504.8H695.5V507.9H683.1zM723.3 504.8H732.6V507.9H723.3zM340.1 507.9H346.3V511.0H340.1zM683.1 507.9H695.5V511.0H683.1zM723.3 507.9H735.7V511.0H723.3zM340.1 511.0H346.3V514.1H340.1zM686.2 511.0H695.5V514.1H686.2zM726.4 511.0H735.7V514.1H726.4zM340.1 514.1H349.4V517.2H340.1zM686.2 514.1H698.6V517.2H686.2zM726.4 514.1H735.7V517.2H726.4zM340.1 517.2H343.2V520.2H340.1zM346.3 517.2H349.4V520.2H346.3zM686.2 517.2H698.6V520.2H686.2zM726.4 517.2H738.8V520.2H726.4zM340.1 520.2H343.2V523.3H340.1zM349.4 520.2H352.5V523.3H349.4zM686.2 520.2H698.6V523.3H686.2zM726.4 520.2H735.7V523.3H726.4zM343.2 523.3H346.3V526.4H343.2zM355.6 523.3H361.8V526.4H355.6zM686.2 523.3H698.6V526.4H686.2zM723.3 523.3H735.7V526.4H723.3zM346.3 526.4H349.4V529.5H346.3zM361.8 526.4H371.0V529.5H361.8zM686.2 526.4H698.6V529.5H686.2zM723.3 526.4H735.7V529.5H723.3zM349.4 529.5H352.5V532.6H349.4zM361.8 529.5H371.0V532.6H361.8zM686.2 529.5H701.7V532.6H686.2zM726.4 529.5H735.7V532.6H726.4zM355.6 532.6H368.0V535.6H355.6zM689.3 532.6H701.7V535.6H689.3zM726.4 532.6H738.8V535.6H726.4zM689.3 535.6H704.8V538.7H689.3zM726.4 535.6H738.8V538.7H726.4zM692.4 538.7H701.7V541.8H692.4zM726.4 538.7H738.8V541.8H726.4zM689.3 541.8H701.7V544.9H689.3zM729.5 541.8H738.8V544.9H729.5zM689.3 544.9H701.7V548.0H689.3zM726.4 544.9H738.8V548.0H726.4zM689.3 548.0H701.7V551.0H689.3zM726.4 548.0H738.8V551.0H726.4zM689.3 551.0H704.8V554.1H689.3zM726.4 551.0H738.8V554.1H726.4zM689.3 554.1H707.9V557.2H689.3zM726.4 554.1H738.8V557.2H726.4zM689.3 557.2H707.9V560.3H689.3zM726.4 557.2H738.8V560.3H726.4zM689.3 560.3H707.9V563.4H689.3zM726.4 560.3H738.8V563.4H726.4zM689.3 563.4H707.9V566.4H689.3zM726.4 563.4H738.8V566.4H726.4zM692.4 566.4H707.9V569.5H692.4zM726.4 566.4H738.8V569.5H726.4zM692.4 569.5H710.9V572.6H692.4zM726.4 569.5H738.8V572.6H726.4zM420.5 572.6H429.8V575.7H420.5zM692.4 572.6H710.9V575.7H692.4zM726.4 572.6H738.8V575.7H726.4zM417.4 575.7H429.8V578.8H417.4zM692.4 575.7H710.9V578.8H692.4zM726.4 575.7H741.8V578.8H726.4zM417.4 578.8H420.5V581.8H417.4zM423.6 578.8H426.7V581.8H423.6zM692.4 578.8H710.9V581.8H692.4zM726.4 578.8H741.8V581.8H726.4zM414.3 581.8H417.4V584.9H414.3zM423.6 581.8H426.7V584.9H423.6zM692.4 581.8H717.1V584.9H692.4zM726.4 581.8H741.8V584.9H726.4zM414.3 584.9H417.4V588.0H414.3zM423.6 584.9H426.7V588.0H423.6zM692.4 584.9H720.2V588.0H692.4zM723.3 584.9H741.8V588.0H723.3zM414.3 588.0H417.4V591.1H414.3zM423.6 588.0H426.7V591.1H423.6zM689.3 588.0H720.2V591.1H689.3zM723.3 588.0H741.8V591.1H723.3zM414.3 591.1H417.4V594.2H414.3zM423.6 591.1H426.7V594.2H423.6zM689.3 591.1H720.2V594.2H689.3zM723.3 591.1H738.8V594.2H723.3zM417.4 594.2H420.5V597.2H417.4zM689.3 594.2H738.8V597.2H689.3zM417.4 597.2H429.8V600.3H417.4zM689.3 597.2H738.8V600.3H689.3zM420.5 600.3H429.8V603.4H420.5zM689.3 600.3H720.2V603.4H689.3zM723.3 600.3H738.8V603.4H723.3zM689.3 603.4H738.8V606.5H689.3zM692.4 606.5H738.8V609.6H692.4zM692.4 609.6H714.0V612.6H692.4zM723.3 609.6H738.8V612.6H723.3zM692.4 612.6H714.0V615.7H692.4zM723.3 612.6H738.8V615.7H723.3zM692.4 615.7H714.0V618.8H692.4zM723.3 615.7H738.8V618.8H723.3zM689.3 618.8H710.9V621.9H689.3zM726.4 618.8H738.8V621.9H726.4zM689.3 621.9H707.9V625.0H689.3zM726.4 621.9H735.7V625.0H726.4zM689.3 625.0H707.9V628.0H689.3zM723.3 625.0H735.7V628.0H723.3zM689.3 628.0H704.8V631.1H689.3zM723.3 628.0H735.7V631.1H723.3zM689.3 631.1H707.9V634.2H689.3zM720.2 631.1H735.7V634.2H720.2zM689.3 634.2H707.9V637.3H689.3zM720.2 634.2H735.7V637.3H720.2zM692.4 637.3H735.7V640.4H692.4zM204.2 640.4H216.5V643.4H204.2zM352.5 640.4H364.9V643.4H352.5zM695.5 640.4H707.9V643.4H695.5zM717.1 640.4H735.7V643.4H717.1zM201.1 643.4H207.3V646.5H201.1zM219.6 643.4H222.7V646.5H219.6zM346.3 643.4H349.4V646.5H346.3zM364.9 643.4H371.0V646.5H364.9zM695.5 643.4H710.9V646.5H695.5zM723.3 643.4H735.7V646.5H723.3zM201.1 646.5H207.3V649.6H201.1zM364.9 646.5H371.0V649.6H364.9zM695.5 646.5H707.9V649.6H695.5zM723.3 646.5H735.7V649.6H723.3zM207.3 649.6H210.4V652.7H207.3zM361.8 649.6H371.0V652.7H361.8zM695.5 649.6H707.9V652.7H695.5zM720.2 649.6H735.7V652.7H720.2zM228.9 652.7H232.0V655.8H228.9zM337.1 652.7H340.1V655.8H337.1zM355.6 652.7H358.7V655.8H355.6zM695.5 652.7H707.9V655.8H695.5zM720.2 652.7H738.8V655.8H720.2zM352.5 655.8H355.6V658.8H352.5zM692.4 655.8H707.9V658.8H692.4zM720.2 655.8H735.7V658.8H720.2zM216.5 658.8H219.6V661.9H216.5zM692.4 658.8H707.9V661.9H692.4zM720.2 658.8H735.7V661.9H720.2zM349.4 661.9H352.5V665.0H349.4zM689.3 661.9H707.9V665.0H689.3zM717.1 661.9H735.7V665.0H717.1zM689.3 665.0H710.9V668.1H689.3zM717.1 665.0H735.7V668.1H717.1zM686.2 668.1H707.9V671.2H686.2zM720.2 668.1H732.6V671.2H720.2zM228.9 671.2H232.0V674.2H228.9zM349.4 671.2H352.5V674.2H349.4zM683.1 671.2H707.9V674.2H683.1zM717.1 671.2H732.6V674.2H717.1zM216.5 674.2H219.6V677.3H216.5zM349.4 674.2H352.5V677.3H349.4zM680.0 674.2H707.9V677.3H680.0zM717.1 674.2H729.5V677.3H717.1zM216.5 677.3H225.8V680.4H216.5zM343.2 677.3H346.3V680.4H343.2zM349.4 677.3H352.5V680.4H349.4zM683.1 677.3H701.7V680.4H683.1zM717.1 677.3H726.4V680.4H717.1zM216.5 680.4H222.7V683.5H216.5zM346.3 680.4H352.5V683.5H346.3zM680.0 680.4H701.7V683.5H680.0zM710.9 680.4H717.1V683.5H710.9zM720.2 680.4H726.4V683.5H720.2zM683.1 683.5H704.8V686.6H683.1zM707.9 683.5H723.3V686.6H707.9zM683.1 686.6H701.7V689.6H683.1zM707.9 686.6H723.3V689.6H707.9zM683.1 689.6H704.8V692.7H683.1zM707.9 689.6H726.4V692.7H707.9zM683.1 692.7H704.8V695.8H683.1zM710.9 692.7H726.4V695.8H710.9zM680.0 695.8H704.8V698.9H680.0zM710.9 695.8H726.4V698.9H710.9zM680.0 698.9H704.8V702.0H680.0zM710.9 698.9H723.3V702.0H710.9zM680.0 702.0H698.6V705.0H680.0zM710.9 702.0H723.3V705.0H710.9zM677.0 705.0H695.5V708.1H677.0zM710.9 705.0H723.3V708.1H710.9zM677.0 708.1H689.3V711.2H677.0zM707.9 708.1H720.2V711.2H707.9zM677.0 711.2H689.3V714.3H677.0zM704.8 711.2H720.2V714.3H704.8zM673.9 714.3H686.2V717.4H673.9zM704.8 714.3H720.2V717.4H704.8zM670.8 717.4H686.2V720.4H670.8zM701.7 717.4H720.2V720.4H701.7zM667.7 720.4H683.1V723.5H667.7zM701.7 720.4H717.1V723.5H701.7zM667.7 723.5H683.1V726.6H667.7zM698.6 723.5H714.0V726.6H698.6zM667.7 726.6H686.2V729.7H667.7zM695.5 726.6H714.0V729.7H695.5zM667.7 729.7H692.4V732.8H667.7zM695.5 729.7H714.0V732.8H695.5zM667.7 732.8H714.0V735.8H667.7zM667.7 735.8H714.0V738.9H667.7zM667.7 738.9H714.0V742.0H667.7zM664.6 742.0H710.9V745.1H664.6zM661.5 745.1H710.9V748.2H661.5zM661.5 748.2H689.3V751.2H661.5zM692.4 748.2H710.9V751.2H692.4zM661.5 751.2H707.9V754.3H661.5zM658.4 754.3H704.8V757.4H658.4zM655.3 757.4H704.8V760.5H655.3zM655.3 760.5H701.7V763.6H655.3zM655.3 763.6H683.1V766.6H655.3zM686.2 763.6H701.7V766.6H686.2zM655.3 766.6H680.0V769.7H655.3zM683.1 766.6H698.6V769.7H683.1zM655.3 769.7H695.5V772.8H655.3zM655.3 772.8H695.5V775.9H655.3zM655.3 775.9H689.3V779.0H655.3zM692.4 775.9H695.5V779.0H692.4zM655.3 779.0H689.3V782.0H655.3zM655.3 782.0H686.2V785.1H655.3zM655.3 785.1H686.2V788.2H655.3zM655.3 788.2H686.2V791.3H655.3zM655.3 791.3H683.1V794.4H655.3zM658.4 794.4H680.0V797.4H658.4zM658.4 797.4H677.0V800.5H658.4zM661.5 800.5H670.8V803.6H661.5z"/></svg>
<canvas id="c" width="902" height="1064"></canvas>
<svg width="902" height="1064" viewBox="0 0 902 1064">
<g stroke="#262626" stroke-opacity="0.085" stroke-width="1"><line x1="130.20" y1="105.0" x2="130.20" y2="972.7"/><line x1="207.45" y1="105.0" x2="207.45" y2="972.7"/><line x1="284.70" y1="105.0" x2="284.70" y2="972.7"/><line x1="361.95" y1="105.0" x2="361.95" y2="972.7"/><line x1="439.20" y1="105.0" x2="439.20" y2="972.7"/><line x1="516.45" y1="105.0" x2="516.45" y2="972.7"/><line x1="593.70" y1="105.0" x2="593.70" y2="972.7"/><line x1="670.95" y1="105.0" x2="670.95" y2="972.7"/><line x1="748.20" y1="105.0" x2="748.20" y2="972.7"/><line x1="120.5" y1="896.40" x2="773.0" y2="896.40"/><line x1="120.5" y1="819.40" x2="773.0" y2="819.40"/><line x1="120.5" y1="742.40" x2="773.0" y2="742.40"/><line x1="120.5" y1="665.40" x2="773.0" y2="665.40"/><line x1="120.5" y1="588.40" x2="773.0" y2="588.40"/><line x1="120.5" y1="511.40" x2="773.0" y2="511.40"/><line x1="120.5" y1="434.40" x2="773.0" y2="434.40"/><line x1="120.5" y1="357.40" x2="773.0" y2="357.40"/><line x1="120.5" y1="280.40" x2="773.0" y2="280.40"/><line x1="120.5" y1="203.40" x2="773.0" y2="203.40"/><line x1="120.5" y1="126.40" x2="773.0" y2="126.40"/></g><g stroke="#4a4a4a" stroke-width="1.35" stroke-linecap="square"><line x1="130.20" y1="972.7" x2="130.20" y2="963.2"/><line x1="130.20" y1="105.0" x2="130.20" y2="114.5"/><line x1="207.45" y1="972.7" x2="207.45" y2="963.2"/><line x1="207.45" y1="105.0" x2="207.45" y2="114.5"/><line x1="284.70" y1="972.7" x2="284.70" y2="963.2"/><line x1="284.70" y1="105.0" x2="284.70" y2="114.5"/><line x1="361.95" y1="972.7" x2="361.95" y2="963.2"/><line x1="361.95" y1="105.0" x2="361.95" y2="114.5"/><line x1="439.20" y1="972.7" x2="439.20" y2="963.2"/><line x1="439.20" y1="105.0" x2="439.20" y2="114.5"/><line x1="516.45" y1="972.7" x2="516.45" y2="963.2"/><line x1="516.45" y1="105.0" x2="516.45" y2="114.5"/><line x1="593.70" y1="972.7" x2="593.70" y2="963.2"/><line x1="593.70" y1="105.0" x2="593.70" y2="114.5"/><line x1="670.95" y1="972.7" x2="670.95" y2="963.2"/><line x1="670.95" y1="105.0" x2="670.95" y2="114.5"/><line x1="748.20" y1="972.7" x2="748.20" y2="963.2"/><line x1="748.20" y1="105.0" x2="748.20" y2="114.5"/><line x1="120.5" y1="896.40" x2="130.0" y2="896.40"/><line x1="773.0" y1="896.40" x2="763.5" y2="896.40"/><line x1="120.5" y1="819.40" x2="130.0" y2="819.40"/><line x1="773.0" y1="819.40" x2="763.5" y2="819.40"/><line x1="120.5" y1="742.40" x2="130.0" y2="742.40"/><line x1="773.0" y1="742.40" x2="763.5" y2="742.40"/><line x1="120.5" y1="665.40" x2="130.0" y2="665.40"/><line x1="773.0" y1="665.40" x2="763.5" y2="665.40"/><line x1="120.5" y1="588.40" x2="130.0" y2="588.40"/><line x1="773.0" y1="588.40" x2="763.5" y2="588.40"/><line x1="120.5" y1="511.40" x2="130.0" y2="511.40"/><line x1="773.0" y1="511.40" x2="763.5" y2="511.40"/><line x1="120.5" y1="434.40" x2="130.0" y2="434.40"/><line x1="773.0" y1="434.40" x2="763.5" y2="434.40"/><line x1="120.5" y1="357.40" x2="130.0" y2="357.40"/><line x1="773.0" y1="357.40" x2="763.5" y2="357.40"/><line x1="120.5" y1="280.40" x2="130.0" y2="280.40"/><line x1="773.0" y1="280.40" x2="763.5" y2="280.40"/><line x1="120.5" y1="203.40" x2="130.0" y2="203.40"/><line x1="773.0" y1="203.40" x2="763.5" y2="203.40"/><line x1="120.5" y1="126.40" x2="130.0" y2="126.40"/><line x1="773.0" y1="126.40" x2="763.5" y2="126.40"/><rect x="120.5" y="105.0" width="652.5" height="867.7" fill="none"/></g><defs><linearGradient id="cb" x1="0" y1="1" x2="0" y2="0"><stop offset="0.0000" stop-color="rgb(62,38,168)"/><stop offset="0.0159" stop-color="rgb(64,42,180)"/><stop offset="0.0317" stop-color="rgb(66,46,192)"/><stop offset="0.0476" stop-color="rgb(67,50,203)"/><stop offset="0.0635" stop-color="rgb(69,55,213)"/><stop offset="0.0794" stop-color="rgb(70,60,222)"/><stop offset="0.0952" stop-color="rgb(71,65,229)"/><stop offset="0.1111" stop-color="rgb(71,71,235)"/><stop offset="0.1270" stop-color="rgb(72,77,240)"/><stop offset="0.1429" stop-color="rgb(72,82,244)"/><stop offset="0.1587" stop-color="rgb(71,88,248)"/><stop offset="0.1746" stop-color="rgb(70,94,251)"/><stop offset="0.1905" stop-color="rgb(69,99,253)"/><stop offset="0.2063" stop-color="rgb(66,105,254)"/><stop offset="0.2222" stop-color="rgb(62,111,255)"/><stop offset="0.2381" stop-color="rgb(56,117,254)"/><stop offset="0.2540" stop-color="rgb(50,124,252)"/><stop offset="0.2698" stop-color="rgb(47,129,250)"/><stop offset="0.2857" stop-color="rgb(46,135,247)"/><stop offset="0.3016" stop-color="rgb(45,140,243)"/><stop offset="0.3175" stop-color="rgb(43,145,239)"/><stop offset="0.3333" stop-color="rgb(39,151,235)"/><stop offset="0.3492" stop-color="rgb(37,155,232)"/><stop offset="0.3651" stop-color="rgb(35,160,229)"/><stop offset="0.3810" stop-color="rgb(32,165,227)"/><stop offset="0.3968" stop-color="rgb(28,169,223)"/><stop offset="0.4127" stop-color="rgb(24,173,219)"/><stop offset="0.4286" stop-color="rgb(18,177,214)"/><stop offset="0.4444" stop-color="rgb(8,181,208)"/><stop offset="0.4603" stop-color="rgb(1,184,202)"/><stop offset="0.4762" stop-color="rgb(2,186,195)"/><stop offset="0.4921" stop-color="rgb(11,189,189)"/><stop offset="0.5079" stop-color="rgb(25,191,182)"/><stop offset="0.5238" stop-color="rgb(36,193,174)"/><stop offset="0.5397" stop-color="rgb(44,196,167)"/><stop offset="0.5556" stop-color="rgb(49,198,159)"/><stop offset="0.5714" stop-color="rgb(55,200,151)"/><stop offset="0.5873" stop-color="rgb(63,202,142)"/><stop offset="0.6032" stop-color="rgb(74,203,132)"/><stop offset="0.6190" stop-color="rgb(87,204,122)"/><stop offset="0.6349" stop-color="rgb(100,205,111)"/><stop offset="0.6508" stop-color="rgb(114,205,100)"/><stop offset="0.6667" stop-color="rgb(129,204,89)"/><stop offset="0.6825" stop-color="rgb(143,203,78)"/><stop offset="0.6984" stop-color="rgb(157,201,67)"/><stop offset="0.7143" stop-color="rgb(171,199,57)"/><stop offset="0.7302" stop-color="rgb(185,196,49)"/><stop offset="0.7460" stop-color="rgb(197,194,42)"/><stop offset="0.7619" stop-color="rgb(209,191,39)"/><stop offset="0.7778" stop-color="rgb(220,189,41)"/><stop offset="0.7937" stop-color="rgb(230,187,45)"/><stop offset="0.8095" stop-color="rgb(240,186,54)"/><stop offset="0.8254" stop-color="rgb(248,186,61)"/><stop offset="0.8413" stop-color="rgb(254,190,60)"/><stop offset="0.8571" stop-color="rgb(254,195,56)"/><stop offset="0.8730" stop-color="rgb(254,201,52)"/><stop offset="0.8889" stop-color="rgb(252,207,48)"/><stop offset="0.9048" stop-color="rgb(250,214,45)"/><stop offset="0.9206" stop-color="rgb(247,220,42)"/><stop offset="0.9365" stop-color="rgb(245,227,39)"/><stop offset="0.9524" stop-color="rgb(245,233,36)"/><stop offset="0.9683" stop-color="rgb(246,239,32)"/><stop offset="0.9841" stop-color="rgb(247,245,27)"/><stop offset="1.0000" stop-color="rgb(249,251,21)"/></linearGradient></defs><rect x="793.4" y="101.8" width="36.0" height="870.5" fill="url(#cb)" stroke="#4a4a4a" stroke-width="1.35"/><g stroke="#4a4a4a" stroke-width="1.35"><line x1="829.4" y1="885.25" x2="821.4" y2="885.25"/><line x1="829.4" y1="798.20" x2="821.4" y2="798.20"/><line x1="829.4" y1="711.15" x2="821.4" y2="711.15"/><line x1="829.4" y1="624.10" x2="821.4" y2="624.10"/><line x1="829.4" y1="537.05" x2="821.4" y2="537.05"/><line x1="829.4" y1="450.00" x2="821.4" y2="450.00"/><line x1="829.4" y1="362.95" x2="821.4" y2="362.95"/><line x1="829.4" y1="275.90" x2="821.4" y2="275.90"/><line x1="829.4" y1="188.85" x2="821.4" y2="188.85"/></g><g fill="#262626"><text x="130.20" y="1006" text-anchor="middle">-2</text><text x="207.45" y="1006" text-anchor="middle">-1</text><text x="284.70" y="1006" text-anchor="middle">0</text><text x="361.95" y="1006" text-anchor="middle">1</text><text x="439.20" y="1006" text-anchor="middle">2</text><text x="516.45" y="1006" text-anchor="middle">3</text><text x="593.70" y="1006" text-anchor="middle">4</text><text x="670.95" y="1006" text-anchor="middle">5</text><text x="748.20" y="1006" text-anchor="middle">6</text><text x="112" y="905.00" text-anchor="end">-4</text><text x="112" y="828.00" text-anchor="end">-3</text><text x="112" y="751.00" text-anchor="end">-2</text><text x="112" y="674.00" text-anchor="end">-1</text><text x="112" y="597.00" text-anchor="end">0</text><text x="112" y="520.00" text-anchor="end">1</text><text x="112" y="443.00" text-anchor="end">2</text><text x="112" y="366.00" text-anchor="end">3</text><text x="112" y="289.00" text-anchor="end">4</text><text x="112" y="212.00" text-anchor="end">5</text><text x="112" y="135.00" text-anchor="end">6</text><text x="838" y="980.90">0</text><text x="838" y="893.85">0.2</text><text x="838" y="806.80">0.4</text><text x="838" y="719.75">0.6</text><text x="838" y="632.70">0.8</text><text x="838" y="545.65">1</text><text x="838" y="458.60">1.2</text><text x="838" y="371.55">1.4</text><text x="838" y="284.50">1.6</text><text x="838" y="197.45">1.8</text><text x="838" y="110.40">2</text></g><g fill="#000" text-anchor="middle" style="font-size:26px">
<text x="446.8" y="26.4">Fe_ei401_align.sqw</text>
<text x="446.8" y="60.6">-0.1 <tspan font-family="Liberation Serif" fill="#555" style="font-size:33px">≤</tspan> <tspan font-family="Liberation Serif" font-style="italic" style="font-size:30px">η</tspan> <tspan font-family="Liberation Serif" fill="#555" style="font-size:33px">≤</tspan> 0.1 in [0, 0, <tspan font-family="Liberation Serif" font-style="italic" style="font-size:30px">η</tspan>] , 45 <tspan font-family="Liberation Serif" fill="#555" style="font-size:33px">≤</tspan> E <tspan font-family="Liberation Serif" fill="#555" style="font-size:33px">≤</tspan> 55</text>
<text x="446.8" y="94.3"><tspan font-family="Liberation Serif" font-style="italic" style="font-size:30px">ζ</tspan>=-2.1223:0.04:6.3177 in [<tspan font-family="Liberation Serif" font-style="italic" style="font-size:30px">ζ</tspan>, 0, 0] , <tspan font-family="Liberation Serif" font-style="italic" style="font-size:30px">ξ</tspan>=-4.9949:0.04:6.2851 in [0, <tspan font-family="Liberation Serif" font-style="italic" style="font-size:30px">ξ</tspan>, 0]</text>
</g>
<rect x="0" y="0" width="902" height="11.7" fill="#fff"/><text x="445" y="1049.7" text-anchor="middle" fill="#262626" style="font-size:26.4px">[<tspan font-family="Liberation Serif" font-style="italic" style="font-size:30px">ζ</tspan>, 0, 0] in 2.2093 Å<tspan dy="-11" style="font-size:18px">-1</tspan></text><text transform="translate(76,542) rotate(-90)" text-anchor="middle" fill="#262626" style="font-size:26.4px">[0, <tspan font-family="Liberation Serif" font-style="italic" style="font-size:30px">ξ</tspan>, 0] in 2.2093 Å<tspan dy="-11" style="font-size:18px">-1</tspan></text>
<rect x="365.5" y="360.5" width="155.79999999999995" height="151.39999999999998" fill="none" stroke="#FF0000" stroke-width="7.6"/>
<rect x="521.6" y="511.6" width="156.29999999999995" height="151.10000000000002" fill="none" stroke="#FF0000" stroke-width="7.6"/>
<rect x="283.8" y="515.2" width="76.69999999999999" height="75.59999999999991" fill="none" stroke="#FF0000" stroke-width="7"/>
<rect x="206.1" y="511.8" width="156.29999999999998" height="150.2" fill="none" stroke="#FFBC00" stroke-width="7.8"/>
<ellipse cx="285.65" cy="591.8" rx="211.55" ry="207.3" fill="none" stroke="#FF0000" stroke-width="7.5"/>
<line x1="284.05" y1="469.1" x2="284.05" y2="703.75" stroke="#19667A" stroke-width="3.8"/>
<line x1="175.1" y1="591.7" x2="406" y2="591.7" stroke="#155A7A" stroke-width="3.7"/>
<path d="M614.8,586.1 L439.4,586.1 L439.4,580.2 L427.3,591.9 L439.4,603.6 L439.4,597.7 L614.8,597.7 Z" fill="#FFBC00"/>
<g transform="translate(444.7,431.1) rotate(133.48)">
<path d="M0,-5.8 L155.90,-5.8 L155.90,-11.7 L168.00,0 L155.90,11.7 L155.90,5.8 L0,5.8 Z" fill="#FFBC00"/>
</g>

</svg>
<script>
(function(){
var P=[[62, 38, 168], [64, 42, 180], [66, 46, 192], [67, 50, 203], [69, 55, 213], [70, 60, 222], [71, 65, 229], [71, 71, 235], [72, 77, 240], [72, 82, 244], [71, 88, 248], [70, 94, 251], [69, 99, 253], [66, 105, 254], [62, 111, 255], [56, 117, 254], [50, 124, 252], [47, 129, 250], [46, 135, 247], [45, 140, 243], [43, 145, 239], [39, 151, 235], [37, 155, 232], [35, 160, 229], [32, 165, 227], [28, 169, 223], [24, 173, 219], [18, 177, 214], [8, 181, 208], [1, 184, 202], [2, 186, 195], [11, 189, 189], [25, 191, 182], [36, 193, 174], [44, 196, 167], [49, 198, 159], [55, 200, 151], [63, 202, 142], [74, 203, 132], [87, 204, 122], [100, 205, 111], [114, 205, 100], [129, 204, 89], [143, 203, 78], [157, 201, 67], [171, 199, 57], [185, 196, 49], [197, 194, 42], [209, 191, 39], [220, 189, 41], [230, 187, 45], [240, 186, 54], [248, 186, 61], [254, 190, 60], [254, 195, 56], [254, 201, 52], [252, 207, 48], [250, 214, 45], [247, 220, 42], [245, 227, 39], [245, 233, 36], [246, 239, 32], [247, 245, 27], [249, 251, 21]];
var D="!!!!!!!!!!!!!!!!!!!!!!!!!!!!!!!!!!!!!!!!!!!!!!!!!!!!!!!!!!!!!!!!!!!!!!!!!!!!!!!!!!!!!!!!!!!!!!!!!!!!!!!!!!!!!!!!!!!!!!!!!!!!!!!!!!!!!!!!!!!!!!!!!!!!!!!!!!!!!!!!!!!!!!!!!!!!!!!!!!!!!!!!!!!!!!!!!!!!!!!!!!!!!!!!!!!!!!!!!!!!!!!!!!!!!!!!!!!!!!!!!!!!!!!!!!!!!!!!!!!!!!!!!!!!!!!!!!!!!!!!!!!!!!!!!!!!!!!!!!!!!!!!!!!!!!!!!!!!!!!!!!!!!!!!!!!!!!!!!!!!!!!!!!!!!!!!!!!!!!!!!!!!!!!!!!!!!!!!!!!!!!!!!!!!!!!!!!!!!!!!!!!!!!!!!!!!!!!!!!!!!!!!!!!!!!!!!!!!!!!!!!!!!!!!!!!!!!!!!!!!!!!!!!!!!!!!!!!!!!!!!!!!!!!!!!!!!!!!!!!!!!!!!!!!!!!!!!!!!!!!!!!!!!!!!!!!!!!!!!!!!!!!!!!!!!!!!!!!!!!!!!!!!!!!!!!!!!!!!!!!!!!!!!!!!!!!!!!!!!!!!!!!!!!!!!!!!!!!!!!!!!!!!!!!!!!!!!!!!!!!!!!!!!!!!!!!!!!!!!!!!!!!!!!!!!!!!!!!!!!!!!!!!!!!!!!!!!!!!!!!!!!!!!!!!!!!!!!!!!!!!!!!!!!!!!!!!!!!!!!!!!!!!!!!!!!!!!!!!!!!!!!!!!!!!!!!!!!!!!!!!!!!!!!!!!!!!!!!!!!!!!!!!!!!!!!!!!!!!!!!!!!!!!!!!!!!!!!!!!!!!!!!!!!!!!!!!!!!!!!!!!!!!!!!!!!!!!!!!!!!!!!!!!!!!MKN!!RPR!!OOL!!NM!!!!!!!!!!!!!!!!!!!!!!!!!!!!!!!!!!!!!!!!!!!!!!!!!!!!!!!!!!!!!!!!!!!!!!!!!!!!!!!!!!!!!!!!!!!!!!!!!!!!!!!!!!!!!!!!!!!!!!!!!!!!!!!!!!!!!!!!!!!!!!!!!!!!!!!!!!!!!!!!!!!!!!!!!!!!!!!!!!!!!!!!!STV!RMM!!MNO!!RRN!NSON!OPPN!NNLN!OONN!!!!!!!!!!!!!!!!!!!!!!!!!!!!!!!!!!!!!!!!!!!!!!!!!!!!!!!!!!!!!!!!!!!!!!!!!!!!!!!!!!!!!!!!!!!!!!!!!!!!!!!!!!!!!!!!!!!!!!!!!!!!!!!!!!!!!!!!!!!!!!!!!!!!!!!!!!!!!!!!!!!!!QO!!NNQ!STW!!QMV!acYi!glk!!VWd!!bXY!!RPM!!PSPPMOOMOL!!!!!!!!!!!!!!!!!!!!!!!!!!!!!!!!!!!!!!!!!!!!!!!!!!!!!!!!!!!!!!!!!!!!!!!!!!!!!!!!!!!!!!!!!!!!!!!!!!!!!!!!!!!!!!!!!!!!!!!!!!!!!!!!!!!!!!!!!!!!!!!!!!!!!!!!!!PSQ!WVS!MQNR!Xaf!!ffS!kgl!!Zch!!Ycb!UQYO!jggT!fZZXVPQPNLLKNRSP!!!!!!!!!!!!!!!!!!!!!!!!!!!!!!!!!!!!!!!!!!!!!!!!!!!!!!!!!!!!!!!!!!!!!!!!!!!!!!!!!!!!!!!!!!!!!!!!!!!!!!!!!!!!!!!!!!!!!!!!!!!!!!!!!!!!!!!!!!!!!!!!TNT!UQS!!joz!fge!!laX!Xgl!!hjm!ayYc!abX!!fZa!!eSZ!!bjbTXgidVQTQMNORNJJMK!!!!!!!!!!!!!!!!!!!!!!!!!!!!!!!!!!!!!!!!!!!!!!!!!!!!!!!!!!!!!!!!!!!!!!!!!!!!!!!!!!!!!!!!!!!!!!!!!!!!!!!!!!!!!!!!!!!!!!!!!!!!!!!!!!!!!!!!!!!SUX!dde!!hwx!jjn!cfj!!YVd!htso!feg!!dir!!ghh!ifZi!hbfafabdlRWaZcQUdkQMMORPMK!!!!!!!!!!!!!!!!!!!!!!!!!!!!!!!!!!!!!!!!!!!!!!!!!!!!!!!!!!!!!!!!!!!!!!!!!!!!!!!!!!!!!!!!!!!!!!!!!!!!!!!!!!!!!!!!!!!!!!!!!!!!!!!!!!!!!!!irw!ghd!jn7!!Zhv!ddz!!Yef!b2g!!dgb!jVaS!WYg!!dhd!!ceYbeceaYNcijjcYikaTZcNRPPMLK!!!!!!!!!!!!!!!!!!!!!!!!!!!!!!!!!!!!!!!!!!!!!!!!!!!!!!!!!!!!!!!!!!!!!!!!!!!!!!!!!!!!!!!!!!!!!!!!!!!!!!!!!!!!!!!!!!!!!!!!!!!!!!!!!!!!dk!!nqw!lx4!pd/!!jgq!Rbh!!dXZ!cqob!eUY!!aVj!!YYZ!!ZVXZTjlbcZfhhedaegbbZUVedZMJHLJHJ!!!!!!!!!!!!!!!!!!!!!!!!!!!!!!!!!!!!!!!!!!!!!!!!!!!!!!!!!!!!!!!!!!!!!!!!!!!!!!!!!!!!!!!!!!!!!!!!!!!!!!!!!!!!!!!!!!!!!!!!!!!!!!!cbd!!ik!!qvw!7qg!!nyp!uhe!!UWf!mnf!!ffl!ffhi!fZr!!YPZYdhnnmldghiZbaiegWUbbXeYYSQMOMJMKK!!!!!!!!!!!!!!!!!!!!!!!!!!!!!!!!!!!!!!!!!!!!!!!!!!!!!!!!!!!!!!!!!!!!!!!!!!!!!!!!!!!!!!!!!!!!!!!!!!!!!!!!!!!!!!!!!!!!!!!!!!!!ghi!ggi!!iqa!8ym!ofc!!hpq!aYk!!hqq!aci!!bhi!!iio!!bWfdjiknrigjidbbhjggTalcUfgef3kiaYNKKLK!!!!!!!!!!!!!!!!!!!!!!!!!!!!!!!!!!!!!!!!!!!!!!!!!!!!!!!!!!!!!!!!!!!!!!!!!!!!!!!!!!!!!!!!!!!!!!!!!!!!!!!!!!!!!!!!!!!!!!!!!!jp+!vbZ!hWe!!ui6!kYM!fdf!!hio!Rmr!!eeU!!Xik!gWcd!flpdkffflkkcxmZXfgxjifjkgbfcdlkbhddaaVMHEKO!!!!!!!!!!!!!!!!!!!!!!!!!!!!!!!!!!!!!!!!!!!!!!!!!!!!!!!!!!!!!!!!!!!!!!!!!!!!!!!!!!!!!!!!!!!!!!!!!!!!!!!!!!!!!!!!!!!!!!!hxq!qfV!Sue!wuc!!WWd!voj!!r9t!kyr!!aad!jge!!aXp!!cddkgYYRdpfWflYMawiaWkqnjcihgfdYXXVVcbWWMMONSS!!!!!!!!!!!!!!!!!!!!!!!!!!!!!!!!!!!!!!!!!!!!!!!!!!!!!!!!!!!!!!!!!!!!!!!!!!!!!!!!!!!!!!!!!!!!!!!!!!!!!!!!!!!!!!!!!!!!ln!!jck!gfi!num!mib!!v2b!tpj!!6wq!Ydl!!TdX!gWbV!fYlpkmNTQctankVcSXjiXcdhmgkfiaXUZTSUUaRTbfaXNONLI!!!!!!!!!!!!!!!!!!!!!!!!!!!!!!!!!!!!!!!!!!!!!!!!!!!!!!!!!!!!!!!!!!!!!!!!!!!!!!!!!!!!!!!!!!!!!!!!!!!!!!!!!!!!!!!!!Zal!jhl!!rY!!x+u!wwh!Ren!!iZm!Uct!!inh!egcl!hmk!!ccddsqbdgnjp1kidbdbdoeeccSedkgqSaYWaeYbcdaRUZVVQOPP!!!!!!!!!!!!!!!!!!!!!!!!!!!!!!!!!!!!!!!!!!!!!!!!!!!!!!!!!!!!!!!!!!!!!!!!!!!!!!!!!!!!!!!!!!!!!!!!!!!!!!!!!!!!!!!acb!bfq!biX!!tl!!itr!Wco!!KS!!cZk!pvn!!mYk!!sqo!Kafaboqshjrtt9djsqjltrqhhjWZgiddYZxjfmgfkeZVVfagadSSQOL!!!!!!!!!!!!!!!!!!!!!!!!!!!!!!!!!!!!!!!!!!!!!!!!!!!!!!!!!!!!!!!!!!!!!!!!!!!!!!!!!!!!!!!!!!!!!!!!!!!!!!!!!!!!hhV!fi6!hee!sr/!!jg!!klg!4IV!!kmm!fu0!!di/!YcX!!OdjmarijigckqqXbornj70pdXcXYki1jutggpcXYVbdbabdTPhYbQPKMN!!!!!!!!!!!!!!!!!!!!!!!!!!!!!!!!!!!!!!!!!!!!!!!!!!!!!!!!!!!!!!!!!!!!!!!!!!!!!!!!!!!!!!!!!!!!!!!!!!!!!!!!!!gl!!hXS!env!ckr!gc/!!zi!!nir!ppq!!jp0!qnk!!biZ!jwkzeYqVbbhbWdjjdqmpmszjhle2arojwpYhminjTWglqSWhZSNQaXbNMNKM!!!!!!!!!!!!!!!!!!!!!!!!!!!!!!!!!!!!!!!!!!!!!!!!!!!!!!!!!!!!!!!!!!!!!!!!!!!!!!!!!!!!!!!!!!!!!!!!!!!!!!!!hh!!iN!!ku!!TWg!bci!ikd!!2s!!wsh!Zde!!jhm!jt/!!ssiWXhsskmloddjUnqcbhq6hrrlepohiphkghnedpmYilWZdbPRUcYYXWLMJML!!!!!!!!!!!!!!!!!!!!!!!!!!!!!!!!!!!!!!!!!!!!!!!!!!!!!!!!!!!!!!!!!!!!!!!!!!!!!!!!!!!!!!!!!!!!!!!!!!!!!!eh!naZ!brl!!sg!!pjl!ts7!frl!!pl!!jZb!Uka!!nk4!!+khbcj/jjppiojaWkmXinlkaVrkgjinhkshg!cbXsidgopbbbSTXZdXSVYPILHC!!!!!!!!!!!!!!!!!!!!!!!!!!!!!!!!!!!!!!!!!!!!!!!!!!!!!!!!!!!!!!!!!!!!!!!!!!!!!!!!!!!!!!!!!!!!!!!!!!!!WWX!lat!hli!goh!qo1!!mk!!unk!gfh!!cbl!cfg!jlhh!qwyfZckgUllgiZfhhgcdmuiYWeWXcmlrpfmjwofficaZhljiZihcRXeWPWVQSRLGKN!!!!!!!!!!!!!!!!!!!!!!!!!!!!!!!!!!!!!!!!!!!!!!!!!!!!!!!!!!!!!!!!!!!!!!!!!!!!!!!!!!!!!!!!!!!!!!!!!!WaS!jis!lyx!iVW!utn!n8g!!16!!hjn!pkz!!Wji!mml!!YgkeYirVYkqnmoogbVlqlqjhgysZjoqtllithcgbceghijlfggeTVdbWZZWUXVTTJMKJ!!!!!!!!!!!!!!!!!!!!!!!!!!!!!!!!!!!!!!!!!!!!!!!!!!!!!!!!!!!!!!!!!!!!!!!!!!!!!!!!!!!!!!!!!!!!!!!!YX!!eu!!in!!fUV!pih!/wv!rog!kk/!!8Ug!fie!!xpd!WgZfcXcgnksofdbgVVcjlfgnqoxkmmu/ngheVVffmgisjqrmaYXSSZdbcVWTWXYYRQZKJGF!!!!!!!!!!!!!!!!!!!!!!!!!!!!!!!!!!!!!!!!!!!!!!!!!!!!!!!!!!!!!!!!!!!!!!!!!!!!!!!!!!!!!!!!!!!!!!bU!!ci!!fb!!Yd!!fq!!zym!qsk!0tm!!!!!!!!!!!!!!!!degkjUckibfwWmmgWaejrfltm6fbjqrgcgiaVftmlTcfsqnrdSTReZNKQWVNRYWVUWWXIHH!!!!!!!!!!!!!!!!!!!!!!!!!!!!!!!!!!!!!!!!!!!!!!!!!!!!!!!!!!!!!!!!!!!!!!!!!!!!!!!!!!!!!!!!!!!!!ZX!WTq!Zhp!lfh!lqu!8y!!!!!!!!!!!!!!!!!!!!!!!!!!!!!!!!!!!!hdcrqhfZXscskw/ln10mjd2hpaPSUfsQQilffzfdKPdcSRSSROPUUWROUSTQGGK!!!!!!!!!!!!!!!!!!!!!!!!!!!!!!!!!!!!!!!!!!!!!!!!!!!!!!!!!!!!!!!!!!!!!!!!!!!!!!!!!!!!!!!!!!!VM!Wnw!Yht!ahS!!!!!!!!!!!!!!XZWVPUWRKMRVRRXYUNORQV!!!!!!!!!!!!!iYTimehhakmx3wkjbYWekfXkigtqnniYiaWMTaVTVUWaYXZZTUVWYURLLIH!!!!!!!!!!!!!!!!!!!!!!!!!!!!!!!!!!!!!!!!!!!!!!!!!!!!!!!!!!!!!!!!!!!!!!!!!!!!!!!!!!!!!!!!!bd!gnm!Nb!!!!!!!!!!fuUZbe!WLQ!VXhU!RJP!YeXaZWbUVTVVZZdXUXfc!!!!!!!!!UWWTTnswomdfbVdhchjggtsklgWabcUSV!XTbbfdWadaXUVYTVSPLOO!!!!!!!!!!!!!!!!!!!!!!!!!!!!!!!!!!!!!!!!!!!!!!!!!!!!!!!!!!!!!!!!!!!!!!!!!!!!!!!!!!!!!!!!j!!kd!!!!!!!!!dbW!cZY!Xbc!WQQ!aYcW!RUO!YbUabWZXSXWSXYcbVVgfWaZae!!!!!!!!WfehhgTdZabchadsrpooeXbcgYYYddaYhccaYWbaVXVS!XTPUNMMI!!!!!!!!!!!!!!!!!!!!!!!!!!!!!!!!!!!!!!!!!!!!!!!!!!!!!!!!!!!!!!!!!!!!!!!!!!!!!!!!!!!!!!k!!!!!!!!XYg!Xeae!dfa!WXZ!eWV!Wbb!TWWT!OSXYXaUYYlbXWYddaahfWXdbedWcdZ!!!!!!!ljcadVXZgfagjknjgablkjbTybgdbaabcYSQRXYUXUSRSRSJEJ!!!!!!!!!!!!!!!!!!!!!!!!!!!!!!!!!!!!!!!!!!!!!!!!!!!!!!!!!!!!!!!!!!!!!!!!!!!!!!!!!!!!!!!!!!Wag!ede!Xcf!!edT!TVZ!cbZ!SXU!daX!ZPKRVWVRWcXZVWZcZXZYeZXXbcXUMWXSajv!!!!!!cSRccihjiZhhhmkWignoZWaagdXUccbPSSVZaUSNQPRTRJMJI!!!!!!!!!!!!!!!!!!!!!!!!!!!!!!!!!!!!!!!!!!!!!!!!!!!!!!!!!!!!!!!!!!!!!!!!!!!!!!!!!!!!!Xa!aZa!YYW!Ycb!ccX!!TTY!lbV!RXR!ZYb!fXSPRVUWXPTXZchYXWWWWXXWabaaZRWYlmjbXZ!!!!!!edYfWbXbhxtopnhfiWTTaYcXTXaZUOSacYWTMNPPQOMOHON!!!!!!!!!!!!!!!!!!!!!!!!!!!!!!!!!!!!!!!!!!!!!!!!!!!!!!!!!!!!!!!!!!!!!!!!!!!!!!!!!hedeu!YbZ!XYW!Tcb!UZX!XWWY!QTh!XTK!bhZ!kcWWSSTcZURRNbWWZcYVegWabYdfYYYdmpnUVWZdQW!!!!!WrZTZmmfdhsmaehbWRadXTYZTQSRYYVUQPNSONLOSSLLM!!!!!!!!!!!!!!!!!!!!!!!!!!!!!!!!!!!!!!!!!!!!!!!!!!!!!!!!!!!!!!!!!!!!!!!!!!!!!!!!d!cYY!bff!WbY!ZUa!TZe!eeY!VSWX!eUR!bcY!daYTMRWTVaYVTUVQWeZUceYZVXZjdXWdolediTOaXZdZ!!!!!bQVncdjoofefieUTbVbbUUS0TVVXUVVWRTSROMSTUSJKG!!!!!!!!!!!!!!!!!!!!!!!!!!!!!!!!!!!!!!!!!!!!!!!!!!!!!!!!!!!!!!!!!!!!!!!!!!!!!!u!dUW!Xcf!abU!KQb!NXf!TVX!TYc!fha!!YkT!XoYVORWXTXVWYYXYYUPaYaYQZcXcmYTYaZdfom5pdepljZg!!!!!dZbcghmaZVUXaRTefWWUcYZXTPSaWVTTTOORSQRRJJJ!!!!!!!!!!!!!!!!!!!!!!!!!!!!!!!!!!!!!!!!!!!!!!!!!!!!!!!!!!!!!!!!!!!!!!!!!!!!!W!abZ!ZXZ!Zhb!MQY!XTY!SZZ!UZc!jjfddaQMQSYaVRWbbaTTaXdgZZXYZblVNVYWVckaPSbgi7imiWlmdhgacga!!!!cZWdYTbeYedYbaaTVXZVVa!SRPSUVSTOPRPOOSQJKI!!!!!!!!!!!!!!!!!!!!!!!!!!!!!!!!!!!!!!!!!!!!!!!!!!!!!!!!!!!!!!!!!!!!!!!!!!!!Y!bZc!Yeb!bbQ!RZb!fcb!aegaVZcVS!bbb!OPW!TcVSUchZbWabYUUPUdaXWSMUVXYWibQcYU6ijacdbfgxmdaYVbi!!!!TQOTgfRZWXbcbWSXRURQUSPRQRQTSPSOPNNMPQIJJ!!!!!!!!!!!!!!!!!!!!!!!!!!!!!!!!!!!!!!!!!!!!!!!!!!!!!!!!!!!!!!!!!!!!!!!!!!!Y!faY!YXX!aeX!bbVXcWYe1!ceQ!YQN!XTW!TUc!YUVWaYaXcWbbTXRPPTVZeWPXVcYwVedbRUYlqpsmddWklahZShpee!!!!VZidUOMSVYWWYWVVUTXTTVQOSVWSUQPQOMPVRQGGG!!!!!!!!!!!!!!!!!!!!!!!!!!!!!!!!!!!!!!!!!!!!!!!!!!!!!!!!!!!!!!!!!!!!!!!!!l!heY!UYd!YbXbaVbXW!XcZ!jdU!UOR!TPO!Uae!YTVZXZUUaZYWVVRUTUPOUSRTgbhdYXhgcZVXisuYedYelhhdfy0mX7b!!!!dcWUQRSSRUVWUYUWUTOVN!QVUPTTPOiOQSQPOHEF!!!!!!!!!!!!!!!!!!!!!!!!!!!!!!!!!!!!!!!!!!!!!!!!!!!!!!!!!!!!!!!!!!!!!!!!V!XgV!TXYUSWhdU!eca!UXX!ZaT!WQQ!WVR!YUb!WQUTQSQSWQVSXSRfgRTKSSUVWTaeafbgeUaXfxmdZeadhtliki/gZhRWWS!!!bZYNOTRTWYXWUQRPPPNOO!QORTQPMMMOSOMPIKI!!!!!!!!!!!!!!!!!!!!!!!!!!!!!!!!!!!!!!!!!!!!!!!!!!!!!!!!!!!!!!!!!!!!!!!Z!WXVUPbmXQ!Xba!YZX!bb!!aY!!nS!!4c!!XT!!QSqTVLTVXURSSQRdaaTRQSUWVTQfcdgbMSYZjjapkfWdaWcfgjjrjlbZaWTd!!!VWUTYXQSTWQPRVOOOLLNNONMRRNQNPNNPRSKIK!!!!!!!!!!!!!!!!!!!!!!!!!!!!!!!!!!!!!!!!!!!!!!!!!!!!!!!!!!!!!!!!!!!!!!ebZXURR!YaU!SRV!bU!WUf!Vcb!YWT!XVT!cXZ!USRaYXWXabYWTSURXVTVPPOZVSWRUazeZRSWdbYbXZlgUaajikdn/vtqdfeZdn!!!!VTUYRQPSSPQSWXXNPMNONMTRPPPSQOTUSPPKN!!!!!!!!!!!!!!!!!!!!!!!!!!!!!!!!!!!!!!!!!!!!!!!!!!!!!!!!!!!!!!!!!!!!!YVU!TPO!XbV!TN!UXX!UaZ!VWZ!Xcb!WTT!bYZ!WNOSkXgYaUXTWVWTOQVXSRVUVVXQUcsXXTUXiddYUezbWwjvouprskhqVbibdklk!!!!UTSSTTQTTWWWQPQQMQRSUNNPOQQMTUOPRPJH!!!!!!!!!!!!!!!!!!!!!!!!!!!!!!!!!!!!!!!!!!!!!!!!!!!!!!!!!!!!!!!!!!!!UUU!XVV!UUW!VN!SSY!UVZ!VYY!ZVc!fYT!VVV!UUSTYTbaTRMQWPXWPRYVWTVYXSYZWYTYYXacbadb2RdgYSd3nrmnpeekykmgcqumXU!!!TTSSQPVUORQRSTNORQT!QOPMLOMPRSTRPMEDK!!!!!!!!!!!!!!!!!!!!!!!!!!!!!!!!!!!!!!!!!!!!!!!!!!!!!!!!!!!!!!!!!!cWQ!caX!VT!YUR!UdZ!WWW!bcy!cYv!ibQ!SWT!XZbYWUWgaVNPWXYcYVXacaZdVWVXbSWYYaXXVUYYZVSTSSTYlckytljujfYgibjhaQUf!!!OTVWRQPPPRPPOOOPST!NNQQNPPNQRQOLOHKK!!!!!!!!!!!!!!!!!!!!!!!!!!!!!!!!!!!!!!!!!!!!!!!!!!!!!!!!!!!!!!!!!YPQ!dTT!cc!UYX!TfT!jWZ!ZXd!aba!fiZ!SS!!QRXWWWXXXQSTZWTZVYYYZVTnQXVUSQZXSUdbYasWgeXRaYceYbYbkjrlZzZjjjaVXSPah!!!!USNMOUTMNMPTRPMNOSPSQNNQNOPNOMOLEKL!!!!!!!!!!!!!!!!!!!!!!!!!!!!!!!!!!!!!!!!!!!!!!!!!!!!!!!!!!!!!!!!cda!bVS!dm!YTX!cZV!cec!SUZ!UT!!ej!RUY!SQPRTRVTRPUTVWUTSQVUOSYWVWPSTUXUQQTgeefZbdcXfcdhggVLQbkqedZir+cUTXUknlad!!!SUPKQPMNNQRONQNRQOPNJNLLKRPNPPMKHKK!!!!!!!!!!!!!!!!!!!!!!!!!!!!!!!!!!!!!!!!!!!!!!!!!!!!!!!!!!!!!!!edX!cdT!bg!ZXT!bXV!rZW!Xa!UXd!Xad!TSY!QabYWRXaaUUaVQSWXSTQQRXUVWSTUaWVRQQXZbYSRRXrYawcfZWSXa7gcmbgpkZXWOhssqcgh!!!!TMLOMOPONPOPQSROKNSPMNRRQPQSNNKJJI!!!!!!!!!!!!!!!!!!!!!!!!!!!!!!!!!!!!!!!!!!!!!!!!!!!!!!!!!!!!!!bXZ!VW!!ge!gec!caP!gXT!Yb!Sbe!deZ!URT!WXaXTTRZaYVTUWWYVZbOQUYWXSWUQWZUSUTVcaYPPPTUXcgaaeUdfeegjedWjeVicfghlcgohcS!!!OPONOPPRSPMNTRNNPQNPPPPOSRRPQOLFHH!!!!!!!!!!!!!!!!!!!!!!!!!!!!!!!!!!!!!!!!!!!!!!!!!!!!!!!!!!!!!UXS!aQ!lfU!TaX!VWG!WR!Waa!VWR!!!!!!!!!!!!!!!!!!!!!WZQSUVaTPVacYXVSNUSYZZvZaTWeYRXWYTXXXUXhiZcjidhnZXegikfZbfdgXabY!!!SPRTQRVTOMOTXPOQOQQNPQMONMQONOOGHJ!!!!!!!!!!!!!!!!!!!!!!!!!!!!!!!!!!!!!!!!!!!!!!!!!!!!!!!!!!!!!UV!Yq!mda!UWY!bRK!Qp!!!!!!!!!!!!!!!!!!!!!!!!!!!!!!!!!!!!!VYXZXUtTQPPYbfYYXNTcYYYZuROPYUVacbddamjYXVcZUnkej0jdgaleed!!!PRRPPQNSPSVVNLMLLKPPPPNKOMKNLLEGI!!!!!!!!!!!!!!!!!!!!!!!!!!!!!!!!!!!!!!!!!!!!!!!!!!!!!!!!!!!!Zd!WZ!gdX!WUV!YU!!!!!!!!!!!STOSUPPQQSaQQQSTSQQPOPRUS!!!!!!!!!!YZTNOPMUYRSZUTVQUYcXQUQVaZTTcZYZc9abZWbacgdcojojjgXYaX!!!ORRNNQRQQTROMPNO!PRRPLIKLMOONPIK!!!!!!!!!!!!!!!!!!!!!!!!!!!!!!!!!!!!!!!!!!!!!!!!!!!!!!!!!!!!gk!UZ!XYV!TW!!!!!!!!R!TTSVSOQRUTRNQROUTQSTUUQQNMRRPSRNIPRU!!!!!!!!SMMQURXYYUUQRXXXVTOXUYTtZVTRUXWSNUbiXTXalnjiikgOWcQ!!!NRSOQNNRPPTRQRNS!PNPMJKQONOPSOFG!!!!!!!!!!!!!!!!!!!!!!!!!!!!!!!!!!!!!!!!!!!!!!!!!!!!!!!!!!!jj!fc!RR!!!!!!!M!QRSP!PSQRPPPQSWSOSRNUSRQRSTVTRPOQTSQRTSUVSPRST!!!!!!!VUXVNQOVSYUTQOWQRSWaSTRVVUaWTWagbWUPVdcZmmcbUbWRc!!!RRdHLTQNSTRSRSONLPNJPSTOKMROLFG!!!!!!!!!!!!!!!!!!!!!!!!!!!!!!!!!!!!!!!!!!!!!!!!!!!!!!!!!!bf!Xa!!!!!!!QPMO!VVUS!OQOPQQQPSUTQQONSTRPTPSSTSQSRRRRXSRWRUXTSROTTQ!!!!!!PMTQOVWXXUVXWRTacXUQZYVYWXZdkeZbUSWYTecfXYUYZfd!!!OMKMOMNOQUWMNOMNcNOQRPNOONOOOEH!!!!!!!!!!!!!!!!!!!!!!!!!!!!!!!!!!!!!!!!!!!!!!!!!!!!!!!!!XY!!!!!!STS!PQNP!UUQW!SRPPNLSVPSQQQSSTUUPQSPTTVSRQNRTVSPRSSURRPTURPRXW!!!!!!WUXZbWbZTVTYYWYVRUZWTVadZdfvhYadhjibWbgafgeha!!!NPLOPNOQSRLNROKLLMRONNOOLLPQNFH!!!!!!!!!!!!!!!!!!!!!!!!!!!!!!!!!!!!!!!!!!!!!!!!!!!!!!!!!!!!!SQPSQR!MOPR!SLOU!XTRTURTUPPPNQUUTSRONQOPVUURNNOWQSQOSROKPUUPSRTVQQUP!!!!!YWWXVSOQSSUXRUROVUOTXXXVZbbXhXjihjYXnvwiSfjg!!!OLNQRSRPPMPOQPMOPOONLOTPKPRPKMO!!!!!!!!!!!!!!!!!!!!!!!!!!!!!!!!!!!!!!!!!!!!!!!!!!!!!!!!!WTQRQONOS!RONO!UONW!XSSQURPQSPOPQQVUSLKLOPSSWTUOMQSRRSRRTPOONPOQQSUSRTORSP!!!!!VPQTSQLQYYSNQVUUQVVSTZWWWXTYiei7fmrodcgfmWU!!NPNNNPROONORRNNQMONPSPOLOPPRKLI!!!!!!!!!!!!!!!!!!!!!!!!!!!!!!!!!!!!!!!!!!!!!!!!!!!!!!SWTRTVQNQRQ!TRUP!PWUT!YZSOSOOSRSSTSRRRNPMNORQSSTRQOQOPMPQRRTSONKRSNPQPQTQRPORNQ!!!!TSTLMPWVVKQQSVVVSSWUVWWTVVXcbflhnheidchabc!!NKLJKOOOORTROOLOPPOQQMNLJNPPIIG!!!!!!!!!!!!!!!!!!!!!!!!!!!!!!!!!!!!!!!!!!!!!!!!!!!!!!TORWTRPQRP!ROPR!UWUP!SYUSSNMRPRRSRPSPPMNPUWTSSVPRTUPNPNLLOTTRQPTPNOLQUSSOONNLRSS!!!!XRRWVVVURSSUXVVWXaVQRVYVYYTRTWcepgaYfikfa!!LKKMQQRQQSOONLNQRSNNQPPKOPPQHF!!!!!!!!!!!!!!!!!!!!!!!!!!!!!!!!!!!!!!!!!!!!!!!!!!!!!!TQORQSSSUR!UNTW!RVSR!PTQONMQVVNOSSRUTPLORUWTMNUUUVSSPRQMKNSSRRSUPOPOSSSTONOMOOOOSU!!!!TVWPWXUXVUTUTXQSUQQYPXYaaSRKPhthZhkoni4U!!MOPOQONPPRRLNOQTVPOTSQQNQQOMJM!!!!!!!!!!!!!!!!!!!!!!!!!!!!!!!!!!!!!!!!!!!!!!!!!!!!!UQPPQLNSTT!TNRS!PPQQ!LMRQMMRRTSOPQSOTQPNLRUTPLMRSRPQROSRQQTRSTTQMSVTTQnVRNPOQQOQPTSQ!!!!WTTVVPUTNPSVRPUVWcWRZYgcWUXizdVckicYkbY!!!SONLMOOSQMNSO!TSPQQPNPP!NLQKH!!!!!!!!!!!!!!!!!!!!!!!!!!!!!!!!!!!!!!!!!!!!!!!!!!!!TSSSTPQWST!QQNO!KMPP!LPQQNOWSRWSJPSOORPNLPRSSNILRONSVOTSQMNROVSPLRVUSRSUUPPROMPPTVUUTP!!!!YXTPSVRQPPPNUWRVURWdZaYXPYdTWTebYRcbRb!!!QSMLNMOMLRPLNSPQPQPMLOOPLJGLF!!!!!!!!!!!!!!!!!!!!!!!!!!!!!!!!!!!!!!!!!!!!!!!!!!!!VSUTTTSTS!XNPT!NTVS!RQTURPTSRUSNRRPNPOQPQTQRONMRRKPTSQRSPMQPRRQSUVVRSURPRROQOQSVUUSQPSR!!!!TTUUTTPSQPNQQNRTVVPXdeWQZYbebVUScYLNZ!!!PNPROPOOQMLNRNMMPOPNOQMKIKJI!!!!!!!!!!!!!!!!!!!!!!!!!!!!!!!!!!!!!!!!!!!!!!!!!!!!RQORVTQPQ!XTRR!QQRSXVRTTUTUURTSRPSQPRVSTTROONRQRTVQRSSRUQQMQQPPTVXSTUUPOPOPPRUTTTTRMOTPQT!!!UVVYWNNPNRNQPVZUMPTagXpPORZdZWcsgTQjU!!NOSTNLNQRORPRNKNSSQTRRQNLNOIJ!!!!!!!!!!!!!!!!!!!!!!!!!!!!!!!!!!!!!!!!!!!!!!!!!!!POPSSMORR!TVTROSRVSSOQOOTXQNKOQMNSTSPPOPQSTSSTRQRWSOOPSTTUPRTNOSQSQTVQNNLKMPTSTTQOQNRQOQRQN!!!PTUTRNQUURTVSTTTWccZWTPQoZWU6chkjaRc!!KRSQQRRQRRPPLL!WTOPSPPSQPONJG!!!!!!!!!!!!!!!!!!!!!!!!!!!!!!!!!!!!!!!!!!!!!!!!!!RROQTRQUUUWTUOPRTVUUPPNLQSQONNOMPLNRSPNPNSXURTTORRSRNNWXWUSSQPSSQQURPPOMLILRPKPSOQOPRSOOPSPL!!!RSSTPRVTSRQPRTWRWYbTYSZeZdgaWVcZicfc!!OOKOORQNPMLJLO!SPRSKLOSROMJKI!!!!!!!!!!!!!!!!!!!!!!!!!!!!!!!!!!!!!!!!!!!!!!!!!UROPPLLSUSTWUWVORPSQTOORPPTTQSSQRRRTURUTQSWWWSQOPQSPRQhWVSUPQOTSPQURONSTSPOONPQSRRSSXUPPTVONLP!!!PPRRROMRXZaWQOVWVSSZYbfiakdZaSaeaZf!!NNMPQNNMOONOPPSRTTLKKMNOKNIJ!!!!!!!!!!!!!!!!!!!!!!!!!!!!!!!!!!!!!!!!!!!!!!!!!RQPQRQMSRRRPSYXKJTPPSROSRNQTTQRQORQPNORRUUUUURRUWWQOQSRSTPSRPQQSPPTRSOPRRNNLMPRUVSRTSTOKPOPPQPP!!!NRTRRQRZYYOLQXYYXVUXYddodmYbXdhZab!!!QKKOQPOMOQQOOQ!SPMMLKGPMOPJF!!!!!!!!!!!!!!!!!!!!!!!!!!!!!!!!!!!!!!!!!!!!!!!!OQPNQOQQLNONSQRNLSROQROTTUUQTRORORQKNQROQTTTTPQSUUTRQOPONPTUOOUWSTUSPRONRPONPPPQRRRQORPNMNNPOOLRS!!!PKROSWTRNLQRQUTSTPUUVWgjYdyfmiSZec!!JMQSOPPPROPRP!NONMLLONQQSMIF!!!!!!!!!!!!!!!!!!!!!!!!!!!!!!!!!!!!!!!!!!!!!!!SQRPPQPRNRUYRQSRRQSTTRRVXWUTSVPOVTUPMRSTQRQPTSTRUUQRTMONOTVVSOSRUUTSNSSIORRPPQOMPSSQPORSPPONQPMPPP!!!KNPONPRSOQQMNOTLRSRUYfeaeYihYSbbnh!!MPOORTQROPNMMMJMPLNPOQPOQMI!!!!!!!!!!!!!!!!!!!!!!!!!!!!!!!!!!!!!!!!!!!!!!!USUTNTSSUTWWRVWSSRNQTRTPRRUTRSURTUQNMQSVRSQORUOSRRRTRPOJQTUUQRSSTUSPTTSLMOQPTRSRQRRRRPTTSNPPPMNOPONO!!QQNQTSSPPQMLNRTWTTZcXVXcaT2beXWil!!!NLQVSPQPQMKLNIIMOONMPOMPOGJ!!!!!!!!!!!!!!!!!!!!!!!!!!!!!!!!!!!!!!!!!!!!!!!WUUOPTRSU!RRjVTONSWVXRQNTTPNPSRQPQPPOTQRRQPSORMORWYNNQSTXTOMOSRLPPOOMPKMSONQSVQQNQQOSSSQPPRRMPQOPUQO!!!NRSRRPORLIMTYUSQWYZUVZUVfcfVcdWY!!!KNTQQOOONNJMO!OPMMOJORQRJKK!!!!!!!!!!!!!!!!!!!!!!!!!!!!!!!!!!!!!!!!!!!!!!STWRQTUOQQRTSTTPNQRRRSRRTRPPRSTTQSPSSQTSSSROPNNONTSOOPRVWRONQRRSNOKNNNROPPQONTQPRMOMRRONPPQQOPSURSPPT!!!TONURPQPMTUXZVRWWXXYSOZYdYZgWXcc!!KQPQMMLKLOLKRSQPNLNMNQQPRHG!!!!!!!!!!!!!!!!!!!!!!!!!!!!!!!!!!!!!!!!!!!!!!RWUSVSPPQQPQOPRQQONPSURPQNQ!!!!!!!!!!!!!!!!!!NPMMPLRWSQPQSRQTRQOROOPTVVQMLTSPSQROLMOSRTQPNQSPOPTUQQPNR!!!PMTWROTSSYRRSTTbRSXXTTWVZVafdknj!!NSRMQMKMMLMTSSPNMGIJOUQRQIH!!!!!!!!!!!!!!!!!!!!!!!!!!!!!!!!!!!!!!!!!!!!!PTVVUPIORMLOOPTSPOPTS!!!!!!!!!!!!!!!!!!!!!!!!!!!!!!!WQQQNQSRTTSORUNQUTTSNLNPPOSSONJNRVRTSRSSQPKQSUSOMLPO!!MPVROSYUVPOQSZVWSTWZXQTYVeXVgqph!!KMTSPOPNKSQPONOOKLMTUPPPHKH!!!!!!!!!!!!!!!!!!!!!!!!!!!!!!!!!!!!!!!!!!!!QRTSRMMMLPPNPRRS!!!!!!!!!NQQMMQRPLOOLMQNLQQNMNM!!!!!!!!!NQRUVUROPURMOMQTTPPPMOQRQNNKPQSPRQQRRMKQRSPPJHJQP!!PSOOQWVTRMTVWUTVTSYZURbUjebddaZ!!!KNTRQQLLPORTQQONOSRSOMNOIH!!!!!!!!!!!!!!!!!!!!!!!!!!!!!!!!!!!!!!!!!!!!QTRUQSNLJOOS!!!!!!!SSPKMQQMJJNNQPMLOPPQNPRPNMMMRQOQTU!!!!!!!RORONSSRPNOTTQUTUTTPOMOMPPOOOOROSSRONNLKMOPNQP!!VRNMQNRROTTUVSUSXVedWZdmjtpxrcd!!KKRSOLJONOOQOQPOORMOMNQNPHJ!!!!!!!!!!!!!!!!!!!!!!!!!!!!!!!!!!!!!!!!!!!!VRQSQPPM!!!!!!QQQQQSQRTSQNMLOQMOKNQPRPNOOOLNNOOQUURSROOP!!!!!!QMRSROTOSONSSWVSONPQPPQQOPRQLQQSONUMJNRRONSN!!QQPLMLOOPPTVWXVabWeVYigjabjfjif!!NQRMMNQPNOMM!USNSLNOQOQOHI!!!!!!!!!!!!!!!!!!!!!!!!!!!!!!!!!!!!!!!!!!!!VQUVSM!!!!!PVQNOQMNPPQORRRRRPPLNNRSOONLNLMLNRRPSUQTRPONQUNQ!!!!!RTPORPQRPSVPOTOLNRSPQOQPOPRPPQLMRMJKPPNPMJL!!!LJPSVRPOUXTVZYddZXWZ7eWStieTet!!RTNPNPTRMMJMNMOMOQROOPMPKL!!!!!!!!!!!!!!!!!!!!!!!!!!!!!!!!!!!!!!!!!!!OQS!!!!!LNPMPQMLMKIKPMOLNMOQONIKQQOOPONPQRNKQTTRRTNQPMOOMOTPOR!!!!!OQQUTTSSMLTROLURPPRPIMRRNQOINMMOLQRPSRKMO!!!PSTVUSQQWRSWUXWXeadnkfUajccmf!!!QONQPTRMILOMMKOOOTRPPNOKJ!!!!!!!!!!!!!!!!!!!!!!!!!!!!!!!!!!!!!!!!!!!O!!!!OQPNMMMRTNMOOPNLONNMOQPPMPOQNPOQPNRSQNOPNMPNNOONNNILMQPQQORQ!!!!PRPONKHKSRPSPNNQQONNRSRRPNMMOTQSQRRRMQPN!!TURQQRTQQRXZXRZOXaerpkcmagomhf!!QQPRORRKIKNKMMNOTSRRRQORJF!!!!!!!!!!!!!!!!!!!!!!!!!!!!!!!!!!!!!!!!!!!!!IORPPQLPQPRRPQQPRTPRNQSOLOOSUSPNOQNPNQPPLPNLNNOLQROONNMMPPNOPPQL!!!!PONJJKNOQRSOLOLPQOTSPPPRPQRPRRSPPOLOOLP!!TQPLMUSPQXZURVTWXamlfifTdlledV!!OPTOOQJGLRLMOKMQTQSQSROJKM!!!!!!!!!!!!!!!!!!!!!!!!!!!!!!!!!!!!!!!!!!SQNNQSQRQTPKNPQRPORRTQQQQRPOQPPRNPPPPOOPQSORSNSROORORQOIHNMONKLQPMOM!!!!OQOQOOOTWPNNMNQMROMMNQPOPPTTOPPMMPPMOP!!OPPMQSPOUaYSRRVUVegogddnwiYbc!!!NRPOPPLNPPROMNPQRNSWRPPKL!!!!!!!!!!!!!!!!!!!!!!!!!!!!!!!!!!!!!!!!!!!SOOMRMQQSROOPQQRROROQPTSTVTSNNOOONNSSQRPVQSPQTUQQRTPNKHJOMNNKLPPQPMNR!!!!URRORROONOPPPMMPMNPTQRRPURSROMPRUPONN!!OPPPSQPSVUTUUvWQXgm5esshZQdZv!!QmWTTQPOQSUQNOMPJKRSOPQPGH!!!!!!!!!!!!!!!!!!!!!!!!!!!!!!!!!!!!!!!!!!ROOPQQPOQRQPOPPRQPRNOPPRSTOQRPMQPLNMQPOOOPQNRSTSVVRROONNQOPQOMNOTSQOOQO!!!!PPQLPPMMOPNPPPNNRSONPTRSQTRPPSSPQMMP!!PTOOOPRSVUVSSXWWVRVQfjVPTccZS!!QSTQORRRSOPQ!PPONSNOOQNFH!!!!!!!!!!!!!!!!!!!!!!!!!!!!!!!!!!!!!!!!!!POMMRSNJMTQPPOOQPRQSPNLNQRNNSPQONMLMMMLKNOQSTRRQRPSRSPONPNNPOOLMUTQNPPPRS!!!NLLMQRQQOPQPPMMPRRMQTRNLPNQNOMPSPOOO!!OPMLNNVWXYWSXXWRKWZbTRQafejf!!PRSNQUUVPNNSR!SPRRL!QNRQHH!!!!!!!!!!!!!!!!!!!!!!!!!!!!!!!!!!!!!!!!!!OOMOQSOONMQRNMNMQTPONLMLOPNKNPNPPPOPNNOMLQSSTOLMJNPTTQRQOMLOONOPTNQOOOLOPK!!!KNORRLLNROLLOMNQQQQMKMMQPPPOPRNPQMN!!RQOONRRRTXSTPSaRaipWZmedbfaT!!SPLNSSTOJKQSQQRRNMNPPNPJG!!!!!!!!!!!!!!!!!!!!!!!!!!!!!!!!!!!!!!!!!!OPNOTVUSQLPPOOPRTSRMMOPLLQOPRQNQPQNQPPRQPQOPNLMNMMMOQTOPRPORSRORROQQ!OOPOJK!!!PRQOKLLMNNPPNLNRUQNMORPOOSRSSPQPOL!!!POPOPQTRTQPKYeTficYbj2XaeaWb!!QMNRRQNLOQTO!TQOPNPPQPPFG!!!!!!!!!!!!!!!!!!!!!!!!!!!!!!!!!!!!!!!!!!QONRUSOMOQSPNPUWQONPOQPOQNOTQNNNQPRRRURQQMMOMLNRTQPQSQOQONOPQQRPPOPRNLQRPKLO!!!NNOMNNNOQNMMOSUVVNOURPOPTRPPPQRQO!!OPMP!UTRSVSYdbWaZTXifbkiidUY!!PTOORMPRVSSRQPRPPNRQQQREJ!!!!!!!!!!!!!!!!!!!!!!!!!!!!!!!!!!!!!!!!!!RSONQRPNLNQRMORVSLMNNNMNMNNPPPNLORPPRQOONMNNLOQPQUQPTTMLNOMQPSRQPMMNKKORSQLLR!!!LPNPORLKMMMQRPTVSPQQQMLPQOLLOQRNL!!QMNPRQPTWWXZYWRVXXheZhbeUSaV!!QTQQPTSPQTSUQRQQQRQQPPQKK!!!!!!!!!!!!!!!!!!!!!!!!!!!!!!!!!!!!!!!!!QSQNLNNPNJLRNLMOQPNNMNOOMOPOOPOOPOKOPRNQONPOMQQOQQRRSUPMPLOOKMTOJKNPKMNORPKNOPO!!OLKSRLLLNNRRRRUOPQQQNLNPLPMPNQNOO!!PPTQPRQRTVUUWXSUYbfdYXyXVcW!!MVUUSSTRQQQUTRQUQMPNSPQKI!!!!!!!!!!!!!!!!!!!!!!!!!!!!!!!!!!!!!!!!!!QQMKJLQOLLPROMNPQPPMQTQPRRPPMPQQPOOMNOQPNQPPQRRONQRSRPQNNPNOMPPMKOPNMLMLROQPROM!!!KRROOKOTTRSRTPMRQPQPMONORPOPPQRQ!!PVTNRSMQXWVTbabUVX1WemgaeZc!!TQTUUVTRPTS!TRQSQOTSQQMJH!!!!!!!!!!!!!!!!!!!!!!!!!!!!!!!!!!!!!!!!!SRMLPQSPNKKQSPRQMPNOQPPSUPONMOOSSPMNOPSPNPMQPSPLMONOPMNNPQOMMNPQPPNMLPOMPOONQQPP!!!IMOPOOONLNOQRRQQPOMNPQNNPOQSPPQ!!PVSSPOLNUWRUZXWYVXcRecWcdhga!!TSRQSSQLOORSQQSRSRTRRTLK!!!!!!!!!!!!!!!!!!!!!!!!!!!!!!!!!!!!!!!!!TUOPPSPQPKLMQSSSQQPQNQOPQPQOOKMSQRPMPQRSOONNNNOOMNMLNOPQQPONNMPPONRROTQPLPRPRPRTN!!!KORRPONONKQPNQRTPNQPSQLLMSRPNOI!!VSOOMNPYSQUZUcbTYhQQOUaWefd!!PSQRPRQMMKNVQMRVXVVRPQIH!!!!!!!!!!!!!!!!!!!!!!!!!!!!!!!!!!!!!!!!!!UNOPRUONPLMRTUSPRSOPPRQNOPSOJOQOSRMNKNNOPOMMOOSQOPORSROPPPQOOONNMOPUTQOQQTSQMOPNP!!!JQRMQQTPNNQQPRQSRPQURPMQQNMQOPS!!QOLPQOTSSUSVbXUZiaiZgiZbhZS!!QPNQRTQNLPPOJLRUYWQSPMIG!!!!!!!!!!!!!!!!!!!!!!!!!!!!!!!!!!!!!!!!!RRRROQNONJJNQONMVQLMSQQPORUPORSTRPPLNQRNOPNONORURSRQSTRPPOQPNNOLMMkURNPTTUXVRPOOQTR!!URMORTONNSRRRPPTMPRQRQQPJKQORV!!!RRSPRUSVXURPRXY2rkfqrgggZU!!OPNOSUUTTSPRRNQPSUSRRPKG!!!!!!!!!!!!!!!!!!!!!!!!!!!!!!!!!!!!!!!!!!RTRKQPLKINOOMMQSPORURQPQQRSRVVRRNOKRRMMLTTQNOPTVTSPQTROMMMLLONOOONROOPPVSQSNROMMRQM!!NNMPTPORNPQMQVUOQOPSPPPLLNPPTS!!WVSNPRSTUOTXYXWXZexkofcgWVU!!NMNSXbWWSSSTSQPQQRPVUQKI!!!!!!!!!!!!!!!!!!!!!!!!!!!!!!!!!!!!!!!!!QQRMSPMKKMOMNNPNOOSRRTQNPQSVVSSURKMPPONMQRTUOLOQONMPSRNNOMNNTROLOMQSRPOQPJNPPROPQQRP!!OMMQPQTQOOMQTTPPQPOLOQQPONNNSO!!PONQTQQPRUZcYUTXagiehdXqXm!!NNNQTUVYVTUTRPQROMSTURHG!!!!!!!!!!!!!!!!!!!!!!!!!!!!!!!!!!!!!!!!!!OPPMLNMMMOLKNPNONRQQQ!!!!!!!!!!!!!TSOMNNOUSSNPQLKJKNQRONRQQTPMQOMRPOQQLOPQPcQNSPNRSP!!ROOQRSRPNNQSNLNPPPQQRRQNNNMON!!LRMPRSQSTUXZWTRTZcygkdkhZVY!!NSSORYXTSUV!SQNRRVUUPIF!!!!!!!!!!!!!!!!!!!!!!!!!!!!!!!!!!!!!!!!!!POMKNROPPOMJNQR!!!!!!!!!!!!!!!!!!!!!!!!PLKPRSPQPILLLNQTOPTVOONQQQRPOPLNPKMQQPPQROSPNQ!!OLKQUSOILPONNOORSQRPOQPNNORQK!!SNMMOQVXTVWVVRZbSTcgippraS!!SQRPWWWQSWUOPQSUWTQUSOHI!!!!!!!!!!!!!!!!!!!!!!!!!!!!!!!!!!!!!!!!!!RQQQROOPSQ!!!!!!!!RRSONONPQRRQTQNN!!!!!!!!ROONMLLNPPTRTURTQMMJNQPPOPOOOPSOPOORRRRNLQS!!NNORROLOOPNLOPRRQQROTTQORQRPO!!RQSSRTUQUVQSaaVXXVUZeqqfXR!PSVSVUTQLQTVRSRTUVQQSUJK!!!!!!!!!!!!!!!!!!!!!!!!!!!!!!!!!!!!!!!!!!VXSTPHI!!!!!!SPNPORTUOLQQOORPRTURRUNJKN!!!!!!PMMKPTRRSTUTSOPNOOPRQPSQQQQPPQRPSQKLMOQQ!!!MMOPPQQSOOQRSQMOPSRQPQOMRVTP!!SUTWWTUVWXRPTWWc4TLQcdYdfY!!RRROPPPRSVYWUVWZWSSURQJJ!!!!!!!!!!!!!!!!!!!!!!!!!!!!!!!!!!!!!!!!!!XTQ!!!!!PPSSQRPMLQVVKLOOKOPQOTRYVTOLQQRONO!!!!!LOTSRVPRTSRSPQLMQRPOPPTUNOQRSSMMhNLNOQ!!!KNNOQRSQRTTVQMKRTPNNOKOOSUNN!!TTTURSWXUUQPaYXUVUekYTvdZ!!SRQRPOSVVUWRURZWUSTTQNIK!!!!!!!!!!!!!!!!!!!!!!!!!!!!!!!!!!!!!!!!!!O!!!!!KSSNQQOQRRLQSVNMMOPQONMORTZROOQUTOPTOQS!!!!UOQTQQQMOSPPIMKMQRQTQOLMNPUUROPQMOQNR!!ONPNNQSPSUSRQLKQNMMOPMNOORRQ!!SMPSOQVWTTUPWVTOOzgeVXWbfe!!SRSNNUaSTRVWWrTNORNUPKN!!!!!!!!!!!!!!!!!!!!!!!!!!!!!!!!!!!!!!!!!!!!!ONNNPO!KNNQRSSUTOSQPNQSRmKOYYXRORRTQOSPOQSRT!!!!NPRQQMJLMLORPPQQTSQKPQNLRQPOONPRPMOP!!QPPNQRQRWSUOLKKLNOOONMMNQLQR!!SOQOOQRPQVYYaVPUgeVhpeVgm!!SSMORWWSUSSUYbVSRLTVPQNI!!!!!!!!!!!!!!!!!!!!!!!!!!!!!!!!!!!!!!!!!!JMNRPNKLNOLMMQNNSTTURQTRQSQSSXaWQTPQQPPTNLRRSTTP!!!!MNPILKTUVUOONQQRPONNNORRNPORPNNPPQQ!!PQTRQNRPPTOOLIKLNNNOQPNONQM!!RQQMNNSPPNTZZZKMheVhkgdffc!!SQQVXUUbcW!bUaaUSRTNNKI!!!!!!!!!!!!!!!!!!!!!!!!!!!!!!!!!!!!!!!!!!!MMPNOPQTQPPMKKLTcdeVWVTTPPVbcaSORQOSSMPMNPRSTROPP!!!!NMNOUUVRRPNOOURRONOSTROPQOPLNNORNQ!!NNQQNPOKOOMKHJJOMPOPONNNPLL!!UQQPPVSQPTVTVWUXdeeefaUWZ!!TORWTSPUSZVWSQVaVTVNPLJ!!!!!!!!!!!!!!!!!!!!!!!!!!!!!!!!!!!!!!!!!!!NQRORUNQQQQQNMRXXbcVTQRTRVbYbZPLONOOOOPRQPNTUTPNPOP!!!PMPOMRRUTNLPSRTQNORTPPQOQRPPNLMNP!!NOORRQORQQPNNNPOLOLMRPNJOON!!RNSTPQSRPSPOXXSZflmlceUWk!!SSYRUVRPTgTRTmYVVVTSNRLK!!!!!!!!!!!!!!!!!!!!!!!!!!!!!!!!!!!!!!!!!!!SQTSTPLPOSRPNPURKQbYRQTbVWYXTSOMMOPQRPRQMKPRSMPOPQQ!!!!POLQQQQRQRQPSROPQSQPNORRMNPPNMPP!!POQRPRSQOPPRRQNOQMMRQNNNOQR!!RSVSSTSRUSQWTSgiegdXVUeml!!VZZVYWUZfzYbiaZeYZVPTII!!!!!!!!!!!!!!!!!!!!!!!!!!!!!!!!!!!!!!!!!!!PPMNSRLMSQPPOQUVQRYjcPUYdbUTUSPLNPQQNOOILOPPPPNLOMNSQ!!!PQPOPPSTSNPSPOONOSONMTOMQPQQNSOI!!OSOLPRQPONNQRSPTSQQRPRPNNO!!QXVWRRPSWYMUaRcecZYRVYbnh!!SVWWaYVZWZg!hfaZacbVUMM!!!!!!!!!!!!!!!!!!!!!!!!!!!!!!!!!!!!!!!!!!!!MKNSSOPPPTSMOSVVQUfzZWZSRRWWVPMPONPMQPMKOPQPOLMNNMLMO!!!OcSQOPPLMNOORRPNPPLMSRPRSTKOSQM!!UMMPQNMQQLOQPTSSQOTOPSQNKOS!!VZWTNONWULVZTWeTZebbdeikX!UXSaUSSXWYbeZOaYXVYVXSPN!!!!!!!!!!!!!!!!!!!!!!!!!!!!!!!!!!!!!!!!!!!!PQQTOMKRTSMONSQPSVcbSVOWRQSVRPQOQNNPSPMLPOONOOLLMKOORR!!PRQONLMOSROOSSPLMSRPPPQPQMNSQQQ!!PPPPJMNLOOPMQURMQQNMOMQPQS!!STSOPRSVORUXWVXRRWogiXafb!!SSWUVYgbYba!NPYaSPVSTNN!!!!!!!!!!!!!!!!!!!!!!!!!!!!!!!!!!!!!!!!!!!!SRQQLLMNPOPPQSQQPQSUSQVUQPOSQRQNPPNPRQOOPMNNMROQOONKMPP!!!LMKLPRTRNMSRMLTTQOOQRRMPPRQMPT!!MRPOMQPOMPPNOPNQROMNQPNRRS!!PLLQQRQQWWWbUWkUYbbceWWg!!OPXYXebgeeZXSNheWTRSVNL!!!!!!!!!!!!!!!!!!!!!!!!!!!!!!!!!!!!!!!!!!!!!SQKLMPOKOQPTXPOQPnONSPSNLOSRTRPPSPNPRRSURRQPONMNQMMMMQQ!!!OPPQNOOQLNRMLSSOMONNPMNNQPPMN!!OTOMLPUQNQPOLOSQQQQNMOQPQM!!MTRVTPUUZXWYVTWcY0gcceZcZ!POUVyYXbcTWUTXhhWUTWdOH!!!!!!!!!!!!!!!!!!!!!!!!!!!!!!!!!!!!!!!!!!!!!ROLQRPPLOMOUSNORPPNMRMMKNPPQPKNRTRMMQRPQTSNLJKJLQPOPMPOQ!!!ONLNOOONRPQNOSROPPMMKOLNNOONP!!QNNPSSPPPPMMQTRPPNQMPRONNP!!RTSTTTQRSYUTbcacXXZhfhVQ!!NWeYRSRMOQUWadaVTVZiWKL!!!!!!!!!!!!!!!!!!!!!!!!!!!!!!!!!!!!!!!!!!!!!NKPPQSQTTUSSSSRTSPNQPLLQQQNKKKQQUOOMLNOUOJMLMLLKNPPOQNcT!!!MMORMPRSQOPPOORPPRPOPRPSQOQP!!QRQSSOOQQPPNPSRRKLMPSOOPNS!!NRNQQOOORQQSdidUYcfbaluT!!TXbaYXLUQRYWXYOQcUVYUKG!!!!!!!!!!!!!!!!!!!!!!!!!!!!!!!!!!!!!!!!!!!!!OQQQPPURPTRQSRRRTRPQRONPQPLLNPQTTSQOMNMQNQONPPOKIQQQKMORR!!!LOPOPRQQQPNLKOQOPQRPNMRPKOPQ!!OROPPPRQQQQPNOONNMLORQMNP!!URNPNPMOMPRXclicd1cYYicbX!XSZiefehXSU!WdUVeaUUTKL!!!!!!!!!!!!!!!!!!!!!!!!!!!!!!!!!!!!!!!!!!!!!!ROMPQSPPSUUVQRRSPQSQdONMMOPQRQOOQQRPLLOTRORQOPNNQTQKNSTPQ!!ORQNMMKIMOOPNPPMKKQOLNPSQOPM!!MQOQNRSOQRROMMONNJLKPSOOQK!!QLMQRRUSUWmffkehfdabkjfQ!!ZSSTZieaONaeabacWXaSSK!!!!!!!!!!!!!!!!!!!!!!!!!!!!!!!!!!!!!!!!!!!!!!!NNQOPPOTRUTSOOPONUVRPOMPRSSUPPPPNRQMORSPPPNOMNMRSQQSNPRPM!!QOOOOLMNNQRQOOMKJPQQURRONNNM!!OMPQRTQPQSRQQOPMOMNPQLOQO!!VOOOORVRYUSVaZZaccYYggZO!!RSPNTdbZWQ!!ZawWVVYSUJK!!!!!!!!!!!!!!!!!!!!!!!!!!!!!!!!!!!!!!!!!!!!!!NPQPNPMMMMQPRPQMMQONPQPQVTQQNPSPLMMSONSPLLMNOPNOQSURLNQNKJ!!MLOMLLMPQNNSRRPPQUVSRRQNMOS!!NLPlRSPPPRRTSNRMLKQOPOROPN!WTSSONOSXUSVVbaXeUYZggbX!!UXWabTdkbvdeRcbbWXZZUKI!!!!!!!!!!!!!!!!!!!!!!!!!!!!!!!!!!!!!!!!!!!!!!!VTTPQPLOPQTRPPPMNMMQNLLSTQOPQPNKOOONMQQKMRMRTTONNNLLMOQPNL!!KMMNOQNOMMMQSQSRSQRUPQMPTWT!!NOQSONRSPPRPNPPLMPLOQOQUQ!!VVSOOPWXTTVabWcVUSYcaecU!!aehaWveZWaa3gieaaZWRJH!!!!!!!!!!!!!!!!!!!!!!!!!!!!!!!!!!!!!!!!!!!!!!!RSQLOPNPRNQONQTRPRPQMKLQORNPOKINSRMNOSROUTOSUSMNLMNNNQQRQP!!!OPOMJLMOQNRVPQRPPSUOPRVWXU!!ONQROLRWQNROQRONPNOPOQOQO!!RSROPMUUTSPXYXbYWdZUPWWS!!WbgcbjleWXThgsdWdXTOGJ!!!!!!!!!!!!!!!!!!!!!!!!!!!!!!!!!!!!!!!!!!!!!!!!TSMOQQPOOOOSSRQPRQSQNQPRNPRMIKQQNNONQQPRTMNRPMNIMPNQPQVSOK!!qQNNNKNQOOPRQOOOPPRLQTSTUWU!!ONNNNNSRROQUSQRSSPOQTROQQ!OMMNTSUTSWVYWTWbafaZUUYV!!WZcbfkijYOKbhTEbeVWWPHK!!!!!!!!!!!!!!!!!!!!!!!!!!!!!!!!!!!!!!!!!!!!!!!!SPPTROQPOLOUNMQOSUQPSSTQRPLKMTSQQTXSNPLNMKMPQQNMPSSQOSRMKN!!OQRMNPPMNMSRPQPNQPPQMQTTNR!!OMKPMKPTTROQQPQNOQOPRNQSR!!PQNPWTRPSYVQMYbdYZUPPZV!!aVQSWffdXbbibTPTzbWPPHH!!!!!!!!!!!!!!!!!!!!!!!!!!!!!!!!!!!!!!!!!!!!!!!!QONQQKMRRMMNRPONQPQPSSQPUSNQNQSRRUYRRQMKKOSQPSSQRSTRRRRLLST!!QPORQPQLPWSRPTORQONHPQNKLM!!KKLSPKQWSQRUUPKMKLQONQRO!!RPPPUVSSPTOhMYYXTTSUVYZX!!VZxTVXVXdoiiaaYZkeULIL!!!!!!!!!!!!!!!!!!!!!!!!!!!!!!!!!!!!!!!!!!!!!!!!!PNLMKLPONSRURQPONMNRSSOTRNOOPMOYYTSTROKMQSSNLNNOTUSQPOOLQQ!!OMLNOPOPTRONPTSSRSKJOPMMNP!!KKOQQMNPUQRSOPNLKMNMOROM!!OOSNQURQSURQQWWRTYbWTYfd!!eeaVXScYokcZcjebZfWQKJ!!!!!!!!!!!!!!!!!!!!!!!!!!!!!!!!!!!!!!!!!!!!!!!!!!OMNLMOMPUVWTSURRQPORURQQNNORRWXRXVRVQNPRRSOPMLOOTTNNLKMOMQ!!NLIKRPSQRROSTQQPSNNNORRSQ!!KGPQLLMNSTQPNLKLNQOQUVTRL!!RTTSPOOUWYVSURNNZYSTYYU!!YgVLTbelqpbgffnjXdZQRK!!!!!!!!!!!!!!!!!!!!!!!!!!!!!!!!!!!!!!!!!!!!!!!!!!!TNKMOPPPTRQQUTPSQPRPQTQMMPQVdWRUUQRQOMQSRUQNMQQRTPRNJOPLO!!PMROOPNLMQQOQQURQPPOOTUSNO!!JNMMNIOOPPPNLMLOPQSRRVTP!!ScRTRNLUVXWWVSQLPdUTdXM!!UbYTZVamvgufhjlokdUSTLN!!!!!!!!!!!!!!!!!!!!!!!!!!!!!!!!!!!!!!!!!!!!!!!!!!QQOOMLMNONNPQOOPOPNMTTSPOPSWZcWVPNNLLKORTXTRPKOOSTSPNMQPPN!!QQNQSPNOPQNPQVNMMPPNPPNOM!!MMOPQJMOPRUOMPNOPSPSSRQN!!QNNPOMQVTWVTQPRQPWbQWWSQ!UUSVbabaameffiklfeaRULI!!!!!!!!!!!!!!!!!!!!!!!!!!!!!!!!!!!!!!!!!!!!!!!!!!!cRONOPMMLPQLOOPNOMQVSTTPPTabfVTOKMNNQUPRSSPOMNUVQPLNPQRVV!!QRNPSQNQOROKNSSQPTOPKJLQQO!NQPQNNMPMRTRRSPOOQPPSPOR!!RRMKKMSSRPRTTSVRQRTWRrOO!!UPbdYibdbVRagcee1dYXKI!!!!!!!!!!!!!!!!!!!!!!!!!!!!!!!!!!!!!!!!!!!!!!!!!!!!QNNQPOKLPRQOQNQTPNRPQRQRPSdfZUPMOMOSTVVUPNPQPTRMPOOOOTSPM!!SSNPPPRONOMNQOSSQPMMMNRRQ!!ONRQQRPQLSSOOUPRRQOMMORL!!RPMLNNONOUQWVSPPQNXXVSU!!UbUQUgkhmWfaiXYWYXfXJL!!!!!!!!!!!!!!!!!!!!!!!!!!!!!!!!!!!!!!!!!!!!!!!!!!!!!MNPNROMNQSSSPOQROMNPOTRMPnVXXSNQROSRScaNIOOPOQRQRQQOOLNN!!QVRNPSTSORPQPOQQQPLNORQPN!!QPQRPLONKNSPOQMRQSONPQSQ!!RVSSPMLQTUXXZWSVPSTaZQP!!VWSOlcWcigadiYaeVXNLFJ!!!!!!!!!!!!!!!!!!!!!!!!!!!!!!!!!!!!!!!!!!!!!!!!!!!!!OOMLOJJLQSWQONLPMNPNrRRPRZxSTWOTRPTZTaULIKKMPPPROPPQQOPOO!!PSPRWTPPSQNOLSTSMPTRQRLN!!PSROKJLNOUQOPLMQPRPQTSQQ!!PUUSQNOQTWVWTUXTOVYWUUN!!WVinniXajf!ZZbbgbVWJKI!!!!!!!!!!!!!!!!!!!!!!!!!!!!!!!!!!!!!!!!!!!!!!!!!!!!!!NNPNMNPNQRQRNLNNSSNPNPQXbhlcdVUaOYYcVSMPLHFKPMMOOPQTNMNP!!PRVQTQQrTONLJTSPNQSSQOLNO!!PSLKOKSRTRMPNOPQRPRRPQO!!PSOQPRROTXTVYPVZTTPLUWXU!OXijj8ZZfb!YdYaeXVVSOJN!!!!!!!!!!!!!!!!!!!!!!!!!!!!!!!!!!!!!!!!!!!!!!!!!!!!!!NNPQNNPORRRROPQROPSQRRPVijaiicdhfWUTQPOPIiMOOPPfSQUNQMLL!!POOPOQPTPMPONTPRUPOPKPOT!!NRNPRSQOQQQNRQOQOLNQQQON!SRQOOOPPSTWSRTXVRUOPRQWW!SSZdcTbTOfiZebfjfaTSSKL!!!!!!!!!!!!!!!!!!!!!!!!!!!!!!!!!!!!!!!!!!!!!!!!!!!!!!LKRPURKOOQROOPMOQQRPLMLRXYSeoopmYWUPOPSQMMLPRPQSPNPPUQOO!!OOPOLQPRPPRONPPTONROPOQU!!QTRTUTPOMNQOOMMMNLOQOPTR!!TRMQONQUVVUTQQUWSOOOOPW!!TYbTRjVRdk!ZbYvajuTTNK!!!!!!!!!!!!!!!!!!!!!!!!!!!!!!!!!!!!!!!!!!!!!!!!!!!!!!!MNOQUPKOQQPPROQSTUNMOQQPRZci/ofZQQQQNNNKLORURPQPRRNRWVO!!QPQQPNPRPMMOMLNQKINQTPNR!!SVRRQLLMNNSOLLOOMMPSKNPP!!PQOSRROTXTQQRSVXQMMMORQ!!RTRXZgidabZbgWWZddRSLK!!!!!!!!!!!!!!!!!!!!!!!!!!!!!!!!!!!!!!!!!!!!!!!!!!!!!!!!LJOVSPSOQQOOQRQRSPNQQPORRRaZYYXTOPPPPQNQPPVQRPQRPORUWPJ!!NMRMKPSQMPNNHLQPMGQtUPSS!QRRPPMMOOQRNLLSURQOQRPLO!!URTUQPMSVSRPRWWTTPPSSTX!!cUWXbkXgiUadaVaVejSTKH!!!!!!!!!!!!!!!!!!!!!!!!!!!!!!!!!!!!!!!!!!!!!!!!!!!!!!!!MPNNMOOORQPMPTTRTSRRRQUVPQVSSSRRROSTQPSPPROLONNNNNMRRPP!!SMRQIPQPOONNQPSVLJMQTRTU!!OPOROMLLOPQOQSUTPQOORMM!!RQWXSOPRTNPRTWTURWVUVRQ!!WUbcUUbZigbmbXXacaUTIJ!!!!!!!!!!!!!!!!!!!!!!!!!!!!!!!!!!!!!!!!!!!!!!!!!!!!!!!!!OONOLMPSPNPPRTbSUQUSRTRLPPMPOOTSTUPSONOPSPPOMNNONPPQST!!RQRROPPOLKMSRRRRMJMNNMRS!!OQQPOMNMLRSSUTSTOORPRQN!!OQUXTQRQQQOPTVTRUWaVRPU!!UTeYOXVhjXeggVUdUWXXMQ!!!!!!!!!!!!!!!!!!!!!!!!!!!!!!!!!!!!!!!!!!!!!!!!!!!!!!!!!!QLOPPOQRONQQNOUSRPPPPQQQNLKPOOPSRRQQNKRPTQNNNPQMMSROSS!ROKPOSOOMKOUPLRSOOOMMKPR!!SSTQORQjMNOQTROOQSVOOSPO!LRQTQSUQQTRRUSSOOVZVPSV!!VZaYWcXcfgi!jfZjfXWUMN!!!!!!!!!!!!!!!!!!!!!!!!!!!!!!!!!!!!!!!!!!!!!!!!!!!!!!!!!!LOORNOQPMLPTONRRSONQOOMMNNNPPQSQSQKOMPOTTONQOQRPQTRPOL!!ONNOPMLOOPOOMOSSPQNLMOO!!SPQRSSROLMNMNONNQUPNMSRN!NQQPMRTUSRQSUVUROTYXRXYV!YdiZajljdchigVTfbYZRTK!!!!!!!!!!!!!!!!!!!!!!!!!!!!!!!!!!!!!!!!!!!!!!!!!!!!!!!!!!!NQNPOONOQQSROOPOQNRNNNMSTTUSNPOQOLLPQNQSPPSSRRQPQPNQT!!NNOOQNOOQOLPOOONPQRONQOO!RNPPPRNPPQRKMKJLPQRMQRQP!!PONNRRTSSTPSVVTURUZSVWU!TYYZbllnif!!ZQQaYYYYUK!!!!!!!!!!!!!!!!!!!!!!!!!!!!!!!!!!!!!!!!!!!!!!!!!!!!!!!!!!!!!!!NMMQPOPQQONNOONNQQQSRRQSQNMOOLNOPMOTnRTRSQPRTNNTR!!MONNOPQPRRQQOLOMONNOMONN!SPQQOMMRRSTOOIJINPOPVRQO!!QPOMQRTVWQRVTVSRPSXXSTU!!SOTWYYUdae!bdRWZcXXXOK!!!!!!!!!!!!!!!!!!!!!!!!!!!!!!!!!!!!!!!!!!!!!!!!!!!!!!!!!!!!!!!!ONMOPPOONNPNNLLPOOMJKNSOOOOMPPOPLNQSQTSNPRPRNST!!PMSSSOLONPPLONOPLMNQPPML!!PNORPLMTRQQONLIMNRSQPQU!!SORPNPQUTMPUUUVUTPOTQNQ!!MWYXSTZZWVaZcVXYWXSYLJ!!!!!!!!!!!!!!!!!!!!!!!!!!!!!!!!!!!!!!!!!!!!!!!!!!!!!!!!!!!!!!!!!QRUUPOSSPRNMNLOONOKJQSROPOQNPOQNJNOQSOQPQTVSRQR!PPQVVTPMLOMKOSPPPONQRQPN!!KNPROOPSQQQOOMLLNSSQQRV!!SOOOQPOONLNSUVXVOPUSSQN!!SagXSXUNUa!ZZYYXWXYVKL!!!!!!!!!!!!!!!!!!!!!!!!!!!!!!!!!!!!!!!!!!!!!!!!!!!!!!!!!!!!!!!!!!PTVPOTSQNPPOPPQOPSQRSOOOONQPNPMLOOORRSVWZYVLRW!!MLRUTOMNQNPQOMQRQROOPPL!!LNSQQRPVQNLMLLK!QRRRRRX!!VRPPRSQNQOMSTRRUQPUURUN!!ZebR2XVSUdcbagbYXZcaOK!!!!!!!!!!!!!!!!!!!!!!!!!!!!!!!!!!!!!!!!!!!!!!!!!!!!!!!!!!!!!!!!!!!PRPRTQOPTQQQRQNRSSQONRRMOQPONNOLPOPRVWaUUUUUZ!!JKMMLNOSPPLRRMMOSMKKPQM!!NRTTSSQSTOMLLKLMPNPQSTU!!TSQTWURQQUOPUQOVVOUXYWV!!feYajYXYftZaccTQRZWXMI!!!!!!!!!!!!!!!!!!!!!!!!!!!!!!!!!!!!!!!!!!!!!!!!!!!!!!!!!!!!!!!!!!!!PMRTQPSUPSTPPOQTONKNTONOQONMOLJQRQWgdfbaMQYQ!!JNPNLNSQPRNLNQPOPMKNNNM!!RUQTTPOSQOOSMPTRTPPQPQQ!!TPRTRTUQRPQRRRRVUOTaVXY!!td2ecfihbY!dZUUQTSQSKN!!!!!!!!!!!!!!!!!!!!!!!!!!!!!!!!!!!!!!!!!!!!!!!!!!!!!!!!!!!!!!!!!!!!OLNRPQTSSQPSMLNTRRMMPPQRQQPOPQNRVXdtspfTORUJ!!QRQMPPRQTRQONQSOILSPOLM!!TTTRTQSUPQRRQPQRONNNPPO!!SORSROQTPNOQMTSRTLOVXQP!!SVgXSZlkcUboebvWXcVTJH!!!!!!!!!!!!!!!!!!!!!!!!!!!!!!!!!!!!!!!!!!!!!!!!!!!!!!!!!!!!!!!!!!!!!NMPMPTRQOPQONOMSU!QPQUUQSOOQRPSXhYgibPPNSRR!!TUWPQPRPRNRVOPSNJLQSQQR!!VTUSRRSNMSVSRLMPPPNOPRS!!QlNOSSQpMKOOKTSUWURVVSS!!TWaaUVcqdYSYVXcebcXSKL!!!!!!!!!!!!!!!!!!!!!!!!!!!!!!!!!!!!!!!!!!!!!!!!!!!!!!!!!!!!!!!!!!!!!NLLOMRROMNMLMOOPQTVRQRTSQOQROPMSeVTULNSRUUQ!!WWTQNQORRNSRRSUTRPNQTTR!!QWRQSSQKMPSQOLNUSPMMRRT!!NTVRRSQMOQTPQSUXVTPUPVW!!ZYbNSMZefVUQWbbXYaYPKJ!!!!!!!!!!!!!!!!!!!!!!!!!!!!!!!!!!!!!!!!!!!!!!!!!!!!!!!!!!!!!!!!!!!!!OQMNONPSPSLIKLQPMQSVQQQQPNQPMOMPdicQLLOQRQR!!UTRNkOOOQOORQRSSQNPQUWU!!OQRQRSROORSSNMORNKMOPPS!!UWVQRRRNQQUWUSVRTPQNPQX!!dbXTORaacZlicjfcWWbXML!!!!!!!!!!!!!!!!!!!!!!!!!!!!!!!!!!!!!!!!!!!!!!!!!!!!!!!!!!!!!!!!!!!!!SOOPQPRURPPPMKMMLUSPOQNNSQRPNNSYfecSPLKPNOS!!RSROMRPSPQPRUPRQPQPPPUZ!!QXQOMQRRRVVSKMQQLRRTNMN!!QWUONTNNNPTVTQVVUWOOPQV!!eZURPVXbeddlYdbXSTYRLH!!!!!!!!!!!!!!!!!!!!!!!!!!!!!!!!!!!!!!!!!!!!!!!!!!!!!!!!!!!!!!!!!!!!!QNNOQbOTOOTULILOONMPONORRVQPKNTXZaVRQOMMMQS!!RTPMSVSQSUQQPKOQQPNQRTV!!UXTUNNQQUUTOORQRSRSUQMO!!WWTQSTUTTPRSPRRRRSOTUUW!!cXVOUYd0fnWaXXWNPYWXLI!!!!!!!!!!!!!!!!!!!!!!!!!!!!!!!!!!!!!!!!!!!!!!!!!!!!!!!!!!!!!!!!!!!!!RURSNLPRPSjQOMMOPMJPOPNPPPPOLQVZqgYWPOPKLMK!!TURMQSQOUUQMLMPNSQQSVSQ!!RRQPMPPOSTQLNTWSRRPSPPO!!PRUSQSRUTPQROOPOSUSUXSU!!YYTbbWZZWa!RcWUTTeaZPP!!!!!!!!!!!!!!!!!!!!!!!!!!!!!!!!!!!!!!!!!!!!!!!!!!!!!!!!!!!!!!!!!!!!!POSSMOOOTSTOMMOLNQQRQQOMPONM!NfYfgXXPNQLIIL!!TRSPNQPOPONNLQRRUUUQUQP!!QRSLLNQQRUQMQVWRRRSRQUU!!POOPPRQQQMRRSOOPWUURTQP!!addXYbcSUbYWWaebSZWUQN!!!!!!!!!!!!!!!!!!!!!!!!!!!!!!!!!!!!!!!!!!!!!!!!!!!!!!!!!!!!!!!!!!!!!OPNQPMPTSNQONPSQNQSTQQROKQPONQUSTfeYQSQHNPM!!XTVSPNRNNNOMKNTRQQQORRQ!!QTQORPRTOQSPPQQQQRUSUTU!!TVQQSRURTURPOMMPRTONSVQ!!dcYcZegOOQSXZhhaWYWTNM!!!!!!!!!!!!!!!!!!!!!!!!!!!!!!!!!!!!!!!!!!!!!!!!!!!!!!!!!!!!!!!!!!!!LORNPRNQVOKPOPRTQQQPRPRVLKNOPPVRPUZdhbYPQRQN!!TSTWSLPPOOPJLPRSPOQOMPO!!STPRRQQRQQQTQOQQNQPQRSQ!!VWVUVUSSWVOPUQMRUTQPPRU!!YSXaYUaWVT!VXZZYWTQRLP!!!!!!!!!!!!!!!!!!!!!!!!!!!!!!!!!!!!!!!!!!!!!!!!!!!!!!!!!!!!!!!!!!!!PSQPNLNQTRNMNOUTPNNOKMPSMPOPNQTUPSXZddYTYUWX!!RPPQQMOQONQQQPPSSQNMLLO!!TUPSQQOTSORQRPOMNPNNPSR!!VWTVSQVWUVUTYTQSRRRPROU!!USahZXgZaligbabc4RMQIL!!!!!!!!!!!!!!!!!!!!!!!!!!!!!!!!!!!!!!!!!!!!!!!!!!!!!!!!!!!!!!!!!!!OQURNNKMOOOOMMNORPMRQMLOOPPQMNQPOOUVaWVYghhea!!RPQOMNNOQPRPONQMQQJJKNN!!WQQRSLLNNPOMNMNONSUQNTU!!VUWUQPQQUUTUTVWSPOUSQQP!!WUibPVcbkkjcWRWXVWURJL!!!!!!!!!!!!!!!!!!!!!!!!!!!!!!!!!!!!!!!!!!!!!!!!!!!!!!!!!!!!!!!!!!!OSQQLMONOQQMMPPMQNPSNOONPNNMPQRONRQUXVMPWbWXU!!PSRSMKQNPOPOLMOOSPQNONM!!VNORPPQONMPQQRPQNNTRRON!!QRUTTQONMSUQOQUSQPORSTQ!!gYgXhTecdijaYWZQcWORIK!!!!!!!!!!!!!!!!!!!!!!!!!!!!!!!!!!!!!!!!!!!!!!!!!!!!!!!!!!!!!!!!!!NROPRPMPOOURPQPMOQQSSQPQRMRQNPQNPQPRUTPLLUSRQP!SSPRRMMNQPNQONMMQPLPRLPO!!PNRRNPROROQRPRRQPRSUSNO!!RSSSTPROQQRSORUTTSPTWXT!!bbcYZQXxgbbgaabiYXSMGH!!!!!!!!!!!!!!!!!!!!!!!!!!!!!!!!!!!!!!!!!!!!!P!!!!!!!!!!!!!!!!!!NPPPPQQORUQPTSOQPQNRPPPQSROOQUPNMOQOSTSSTNOTOQO!!QSRRQPOMMOKPSMKMPNQQMNLN!!SSOWPRVTTNNOOOONQOQSPQS!!VTOPPPQOPUPKOQRYXXSUVTR!!a9hQUSVclibfdhUTSVOOIH!!!!!!!!!!!!!!!!!!!!!!!!!!!!!!!!!!!!!!!!!NMMLQPS!!!!!!!!!!!!!!PQOPOPRQQURRPOSTQRVPOPONNOPQRQQRPLMNQRQSPPPQSOQRS!!STRQRPLMMMMORRQQNPRQLHMN!!SQNPQTVWVQPQPMKPRURSQQR!!SSQQRQQPMSQHMPLUYXVSUUT!!RdeUPPdgpo8haacSXVXSJJ!!!!!!!!!!!!!!!!!!!!!!!!!!!!!!OKLLOSQORQQPOOQSSSNLPQPNPOQPPQOORSSSRUVQSTSKMLRSSSSQMKOOMNROOSTONMPQSQPNQNNPPPPVV!!OOLMOOKIKQPQSPQPPMOPOKNQ!SSQPQPTUWYUSRSSPNPUTRMNN!!QVOOPSUQMQSPUQORYVSOORW!VRRXbaZyfek!hcXYRWTTUKH!!!!!!!!!!!!!!!!!!!!!!!!!!PPPPPNQQOQRSROOPPQVUSNONNNNOOPTRPNLLOOUSNTUTTUPLNONRRPRRLLMOMNRTOUUTRPQNOQPLLPRRPNSSS!!!OIKJOQKNOPPNPPRSPSPPPO!!SPPSSSTUTUQRPOQRQUTSQMNP!QRSRMQTVZTTTWZWRPTOPPNQR!YVZaadXYgYhjUhQfLPPMTM!!!!!!!!!!!!!!!!!!!!!!!!OLKLOQQQNONNQRVSNMLRUZWRMKOOLPQNNNRNLKLLQQMLOQOSSSKMPONMOORRPKPSSSTPTVTRPPNOOMMOPTSSRSOO!RPRSRSSQMKLIMMONPOQTNLSS!!RQRPQSPRPPQPSQPMRRMQQONO!TUZTQOUYWaTSSSNSNTOQYRQ!!abNUbdVajgmWTYTUQUOOLM!!!!!!!!!!!!!!!!!!!!QRTSPOQOPOQOOMQNKRTTOPQPSRQRNOgPPMRMMORQOQRNNNLLNQONOPUTQNNMLJOPNMPOKMQROQSSOONLQOOOOPQOSUN!!QQRSQTRMMNMLRPNLPPSTONRR!!QQQMQROPRSQPRQOPQRNOPRV!!WZbXQSYbabVQRRTURVRTWWT!!bWOaYWXWZc!UQXaTXYWPLL!!!!!!!!!!!!!!!!NPNNOMMMQTSONNPRPNJNLOQQRSLLSQOPPQPPOSQMKNRVTONNONOOOOROLORRRSTPOJRRSPQPLKJPPQTRPLNNROMOSPROLRT!!OOVRLQPLNPRNORNLOSRQTTNM!!RRQPMLPSgPRPNPSSSQSTPPT!!SXWYVUWTWUSSROPTSSTPRWS!!ZXlWcXWuZb!WQWVQUZdWOL!!!!!!!!!!!!!POPNONNNMPLPORPPQRTSRPQPNOQOSOPQQRSPPOSSSPKOLOROKIPQOhKLOQOMOQOPQOOMPTXXRRPMKLNOURRPSKNPQNNSRPNMNM!!PQPSQMLMQSONPPQOOTROTVRP!!RTOLNOLPPPSSNRRSRPTSNLO!!RRNRTRRPQSNPSOOPPQPQQQS!!YXTYdefVggkdcWSUTXbaNM!!!!!!!!!!PPSNQQOLNONOPNQROPQRWZuRccSTSMRSSSOSTKLONMQPMOSSQNNILPRQOJKLNPUSNMMMNMWZcfgYQSPLLQOPORMPJPOKNNMPPOLM!!MMRPSRMKPSSQPOPWSNQQMQTVT!RQRRNPNMPWXVOSWRORQQRQPP!!VTQOTPSRUUOHLPQTXTRVTVT!!eXYYXaeWWfjkZTZRTYfYJL!!!!!!!!LPSQQRRRMJPROQPLTROMOedfYZj1ebZVSTPOOPPHHKQQOOLOTTUQRPOPRTQPOPNRRQOMLMQbhaevwomYhQUSQPNNKNNSSOMNQPNMOP!!MKOPPQMRRSROPRQSRSRNSSSS!!XROPQSOQSWXTTSSMNOSRPQRR!!WSTRSQPUSSLQRWYSRORUTVV!!VRSMXbZVPiZcaWWWTaeWJL!!!!!!!!NRTRORSOKMQTSQNPPNLPOfqioabkqfcYYTNMOMNMKNPPQNOORPQRTSMNMRTQQRPOMOQNQTaopw0niigiUTXTQOMOQRRSROORQRLMNP!!MJNQNNMNQRROSRPROTSQPOPQ!!TSPMNUTWYUTQQRRURTTUVPTQ!TTOMXWRMTXTNRTUWRPLUUQPU!NMOPQceZWZX!XYZTSYQQQJJ!!!!!!!!!RUSRMNPLPQQQMLNOPNQQZcghuUaihleVROKQSONPNPONNNOQNNORQNNJKQSOPMOPPOSSdbpzwdVbWVZXoVTROQSURQNjPPNPOMMO!!!MLQRRNLLOSRPOSQNKNRTRQTT!!TPQOOTVYWWSNPRQVURVVVST!!YZUTSTSOQRUVTRPOSVRRQOUV!OXSUVcZXYmpfcbaWmZRPSIM!!!!!!!!!NRRRNMNOLNPQOLOOPQZbUSVWVRPWbWfZRQRSPOPOORKLMPTQOOOQUOOMJPPLNOORNMTXecgfaUVWUUbabTRPNONORTMOQPRQQOOO!!!!!PONPNOOQPLRSOQOPSTTUSO!SOPPPUTSTSVVQQSMOPNSTRRU!!UWZXWRRQRTUYRTPRRUUSPQT!!PVWYdgbZjjhgVYfXRZbTQL!!!!!!!!!!!OPQNNOQOPLPPNOPRVYWTTSQOOOQUanaVOQQRQNPPOMMOQUQPPPQQPQPMPPMNOPPOQUWkq2bSPMPVSRVWRQOLMILRSQMOPRPOPN!!!!!!!!OMRPNPMOQTRRQSRRSQN!!PPPOTTSPPRTQQQQPSSQSTOOT!!PVTXUPPRRVVTUTTRVTXaYTT!!SQYcklXYiibYThbbWTaaLM!!!!!!!!!!!LOSPQOPQRONLPRQQUXTSSQMKPRTWaohTLKMOPOPRPROMNNSQSUSSMRRPRQMLQKOTTTZfohRNPLNUPNOVSQLMNOSRKLMNPQKJPM!!!!!!!!!!!OTNORTRNNSUQSRPM!!KOQNWXQPPPQTVRPPPSQPRMOQ!!OUWTRQRMUXTRWTVSQRSVVSR!!WYacgfhfgcVWYbadRNUVMO!!!!!!!!!!!!QSTSQMNPLNOQSQOQVVTRPLORPSWjlhRKIKQQPLKMTSMNNMNSTTRPRQTSROMNLNTVVYZ0dUOONRQQRMUVPORPPUTQPONOPLJNO!!!!!!!!!!!!!OQUUOLIRUQPQNP!SQOOPYXSQRRTUURKOMMUQPOPU!SRXYTPVWTTVSUWVSSQQWTSST!!aZUVgejjgd!XXXaYWQVWML!!!!!!!!!!!!QPSQPOQPQSRNRPPQSRRROPSSQQTYihWJKPSQONOORUNNNJLSRPSQURPTSQObKPRQTTVdcWSNPQNOQRVUQMRRQQRSPONPNLJN!!!!!!!!!!!!!!!!RQRRQPSNPJL!!LNPMRWWSQQWVTTSMQOMSPRPQ!!UQWVVRVWQUTXVWeXSVpXTXSR!VfZTYegchpcZWcaigbUVVLK!!!!!!!!!!!!!PONQSPUURRNOMNMQQPLPTQOMNPSwgdSQTTPMPRSSVPPNLMQQKRUUSQSSOQPPSPOTXmXUURNQMQNOTSRRSQPQOOOQOQTSKL!!!!!!!!!!!!!!!!!!!RRQQONNMN!!!QQZPTRSOOOPPOTQPTRNNQSQ!!YVWXXTZhTVUWRWbXSVVTZUR!!UYYdfgYzgfSTcdYbhaVaZLK!!!!!!!!!!!!!RMOQRPQTUTOOMNQPYTOOQPMOMRhiggURQROPRUSQPPORNJPPnQOQPQQOQPQSOPTUUckYTOPMPRNLMMTNNQQSRPONORSQKL!!!!!!!!!!!!!!!!!!!!!PTNMPOP!TTUOPQQOQNQPLOMRMOPLKQRSS!!bXUoRUZSOSQTXZcZXXWVcXZ!!KSUhkbbgfdcUgcNUbhaXdN!!!!!!!!!!!!!!!PPRLNQPSURMMNQSSTRSPPQSVZhlfUPPQONPPQOOSQNQNLOMOQQONPQMQRSOQOQPMamlWRSPSUQPOMRRQQTQQOOOOPRQM!!!!!!!!!!!!!!!!!!!!!!!!PNPL!!XrTSPRPNMPOMNLPQNLNMNQVNP!ZYTTKQXZRNKMMSUXUUZYSYYa!!OJNWi1feYhejXWXbXaikSO!!!!!!!!!!!!!!!QQQOPNOMRSPOPQOPUSNJNPVajbeTOOOSONSNMNNRSMMMKLMNQRQPNNPQQQONQNMSYgdeXWSTVRSVTRTNPPTTOPRQQTUP!!!!!!!!!!!!!!!!!!!!!!!!!!!L!!USRQSSTSPPRSNMMOOPPSPOOO!!RQUROQWcZQOKJMVTORUUVNRU!!ROQSfpiYThiXaQRXTbfaOO!!!!!!!!!!!!!!!!PNOOOKJLRWTSQRQRTMINYcccZVQQNRPMNONJMPQPPKNNNOROOTPNQPPQMNRSOOSPRUOMXaYVLRVOMPPQQTTRPQPSTS!!!!!!!!!!!!!!!!!!!!!!!!!!!!!!TRNQRQSUXROQTVSRQQRQTSQOP!!UWXWOQTZVYUUQSWURVZYSMPL!VRXXeZabZWkgj!USTYbWRLI!!!!!!!!!!!!!!!!!PPRQLKOTWTQPNLNRTPTXZZYTMQOMOMNMPOLNQQPMMOPPOOMLNNMQRRONPPPOMRNNVSZabXPOSRNMNQSSQTTSORSN!!!!!!!!!!!!!!!!!!!!!!!!!!!!!!!OMORRRNRSLORSSRSSSUTSOPSQ!RaZURNTZXVbYWUYdWPWdaUUR!!TSVhiZshbYZifbWUXVWRQJJ!!!!!!!!!!!!!!!!!!MOQNNQTSQPRLKNVVQRVVWRNQRMKMLONPNOQOMPMRONPQPLMPPORRUSQPQPPNPRPSUWQZVRSURQRQSTRORURRRSO!!!!!!!!!!!!!!!!!!!!!!!!!!!!!!!!MQWVTMMNLNNQPPSSSSRMKOS!!RSSUTSVYWSYUVVaXTSXXVYec!!UUShZZWdhdYbhcbbQXaaWK!!!!!!!!!!!!!!!!!!!JONNPNRQNLQKKPPRPPOQQNPQQNOPPOOLKPRMKNQROMPRQRPQRNOSXTRSPLNQLMRSTOOQPQQSQQSTTRNMNQQSQR!!!!!!!!!!!!!!!!!!!!!!!!!!!!!!!!!!!STTPQOPNLPNNRRTVSPMRS!!WTTZTUVTPVYaTRWTVUUSWXgb!!VUWfcVbbfbigo6eZcWRSLN!!!!!!!!!!!!!!!!!!!!JNPNMPRNLONNPQPNOQRNNOPMIOMLLLKNPOONQQQQORRQTTNKMPSTRSROORPMNSRQOPRPRPPQSTRUPMJPRNPO!!!!!!!!!!!!!!!!!!!!!!!!!!!!!!!!!!!!!STQORSTPTPPQRUQRPOOP!VYVPPSYUTSVUXWVRXcZVOXaaY!hWVcbTabWccWfniUTYXPQNM!!!!!!!!!!!!!!!!!!!!!MLMPSPNRMMOPSRRPRQOPQQNLNJLMOKSPMPPRTOPONQROQQOLOORQTOPOTSNQPLMOQPQRQNPQNRTRSNNOOT!!!!!!!!!!!!!!!!!!!!!!!!!!!!!!!!!!!!!!!!PQORQRTPNQQQOOONN!!eUPSPQTUUUVYXTRPVXbVXSQR!!YbWWXedckacgabZWYVaVSJH!!!!!!!!!!!!!!!!!!!!!!JGOQOPRPMRSRQPOQQPRPQQRRONPQORQQNMOQOOKMOMMLNOQMKNQRQROOOORPKPLNQOQRPMOMKPRQPRQS!!!!!!!!!!!!!!!!!!!!!!!!!!!!!!!!!!!!!!!!!!QPNMRTSOUTORTQSP!!WUSSYTRSUSXVXROPURXWXUUP!!WyZZUSebfcVcghhcbXTYZ!I!!!!!!!!!!!!!!!!!!!!!!!JPPMNQPPQOOQOOPMQQOQTRMNPTRPPPOOKQROMLOOPPIKMPOMOQSQOONPPOPSQOLMJLRSOMPQPRiNOR!!!!!!!!!!!!!!!!!!!!!!!!!!!!!!!!!!!!!!!!!!!!!ROLNOOSPMPQNRR!VQRSVZVRTTUUTRURSWSUVUXVV!PWegYZWSdcgbYYadblaRWPM!!!!!!!!!!!!!!!!!!!!!!!!!NMQSPRQNMNMNOOQNNRTURNPPPOOKOLPLRVOMRONQJJJLLQPONMOMPRPKMRSSLNNJMSSOPQNPRPRP!!!!!!!!!!!!!!!!!!!!!!!!!!!!!!!!!!!!!!!!!!!!!!!MLNRRPQPPQPP!!STTQSZXVSRRXSNQVTUVUTRZW!!TRVcfigaf2ZaYZRaZhcQUNJ!!!!!!!!!!!!!!!!!!!!!!!!!!LNOROPOONJLOTSQNSUUVNMNMPPNOPPMNRPNPPPOOPLLQNLKNLJKNRPNMPQPQPQPOTRPNMNNQRS!!!!!!!!!!!!!!!!!!!!!!!!!!!!!!!!!!!!!!!!!!!!!!!!!!KMOPTWSQRS!!TTOSOWXPUTSXZTdNORXWUXXW!!UodaZgafekbYUTYWazYNUMK!!!!!!!!!!!!!!!!!!!!!!!!!!!KPQMMPRNIOPPPSQQRSTSMNOrOMPONMLMSPNRSNOQOPMMMNNMLKROOPPONLOOPQQSPLPQMPQP!!!!!!!!!!!!!!!!!!!!!!!!!!!!!!!!!!!!!!!!!!!!!!!!!!!!OOMPOPLN!!OWQRSOPXSUSUSRPOPRUTVSXba!!ScbZWghaZhh5XXbdfZTVWLL!!!!!!!!!!!!!!!!!!!!!!!!!!!!MPONPONMPOPSQOLOSSRPPQOLSSPRORQSRRTVTSQTQOMLMLOPPOOPRMMSQMSVUOQNMMSPQR!!!!!!!!!!!!!!!!!!!!!!!!!!!!!!!!!!!!!!!!!!!!!!!!!!!!!!PNPNLMO!!YYVTNTRVQURTXUNRUTVRNQVZ!!ZZcpXZfkhWeYZZSTYifVVLL!!!!!!!!!!!!!!!!!!!!!!!!!!!!!!QPPPPRTQPRUSOMROTSRPQQQSTORTTQTWWRYSaWTSPOOONQSTSTTTPPUWPPaZXTQNNSSQ!!!!!!!!!!!!!!!!!!!!!!!!!!!!!!!!!!!!!!!!!!!!!!!!!!!!!!!!!ONNN!!QZWWTZTVWNLSSSQNXZRSTVSZX!!XhbWZeVUheXYZNZXadlYXHK!!!!!!!!!!!!!!!!!!!!!!!!!!!!!!!PPTSWYTSSWWTSNQRPNOOSQPPPQSRXYeefYRVZYRQRPQQPRSSRWSOORVMSUXXRQTOPQ!!!!!!!!!!!!!!!!!!!!!!!!!!!!!!!!!!!!!!!!!!!!!!!!!!!!!!!!!!!POU!!SSOQWaZZPIUWVXPPUbXQYWVUa!!XdZTSUQSacRSTOUXXZbZWLI!!!!!!!!!!!!!!!!!!!!!!!!!!!!!!!!!SWXXZTROWaVUQSPORQQQROMQTWZibf3WVefaRQRSTSTTNQPRQMNVVUUbXZSWWO!!!!!!!!!!!!!!!!!!!!!!!!!!!!!!!!!!!!!!!!!!!!!!!!!!!!!!!!!!!!!!QR!RTRKJQVXYQNUZavSTYYWWUUTT!!becWLNVXUYaWXXTTVVQOTMJ!!!!!!!!!!!!!!!!!!!!!!!!!!!!!!!!!!!UWTUXRNTWVxVPONQPNPTLKPSfWUWbZWXcUbcSSUURUSRNMNRKMXVLRTVPRXW!!!!!!!!!!!!!!!!!!!!!!!!!!!!!!!!!!!!!!!!!!!!!!!!!!!!!!!!!!!!!!!!!!ROPSSSWZUUPVUVUTWTUVVWUSV!!eZWUQfeglbdbbgbYWNPSbOO!!!!!!!!!!!!!!!!!!!!!!!!!!!!!!!!!!!!!QSTQOQMVYUNNLNPOPTPLOXecYSSPQQQTYZaTVTOQOSQLKOQYRQQQQQRQ!!!!!!!!!!!!!!!!!!!!!!!!!!!!!!!!!!!!!!!!!!!!!!!!!!!!!!!!!!!!!!!!!!!!QQOWXVQUXXSWaUSSQUZTUYWUT!ZaXZSZXbdgdeacihaYTSWaOP!!!!!!!!!!!!!!!!!!!!!!!!!!!!!!!!!!!!!!!NNONMWbPQQLbNOPUTRRWebaUOQSQORUaZTTSNLQRQNOQadQJNOQQ!!!!!!!!!!!!!!!!!!!!!!!!!!!!!!!!!!!!!!!!!!!!!!!!!!!!!!!!!!!!!!!!!!!!!!!TRYXVQSVVQVVWTTWZXZTUSV!!aTQWaYWdcdXdgZbdcbXQTJL!!!!!!!!!!!!!!!!!!!!!!!!!!!!!!!!!!!!!!!!!NPSPUTTUNMIKNRRPRUSZaVPNMOOQPQbdSPOLORTPNOTZUROJPO!!!!!!!!!!!!!!!!!!!!!!!!!!!!!!!!!!!!!!!!!!!!!!!!!!!!!!!!!!!!!!!!!!!!!!!!!TUVRUVRMPRVRQVXXVXUNTX!!YXRWWTTccVRWcVahabaTPIM!!!!!!!!!!!!!!!!!!!!!!!!!!!!!!!!!!!!!!!!!!!!PQUSTNLNKNROQTWXUQQQNMPNQPPcbTMOOORNPKKOVQPNL!!!!!!!!!!!!!!!!!!!!!!!!!!!!!!!!!!!!!!!!!!!!!!!!!!!!!!!!!!!!!!!!!!!!!!!!!!!!QTWVVRUSRSRQVUUOOROS!!fbVXUYWfeWPWXYUWbcUVWSKP!!!!!!!!!!!!!!!!!!!!!!!!!!!!!!!!!!!!!!!!!!!!!!PXUMOOKOMRRQRWUQOPQOPQPSWWVKNQNRNQNLMQQO!!!!!!!!!!!!!!!!!!!!!!!!!!!!!!!!!!!!!!!!!!!!!!!!!!!!!!!!!!!!!!!!!!!!!!!!!!!!!!!!RYXUTVcVTRSXUSRSVTS!!ZXYXSYgffTPWcSVfaXYXWMK!!!!!!!!!!!!!!!!!!!!!!!!!!!!!!!!!!!!!!!!!!!!!!!!!!QPOLIMQTSWcWQQOPRRRMQVSWTNSPQSMONO!!!!!!!!!!!!!!!!!!!!!!!!!!!!!!!!!!!!!!!!!!!!!!!!!!!!!!!!!!!!!!!!!!!!!!!!!!!!!!!!!!!!VXXWXaTUTTZXYXUaYk!VXZbZbYTWVQVcUPamZXVacMM!!!!!!!!!!!!!!!!!!!!!!!!!!!!!!!!!!!!!!!!!!!!!!!!!!!!!RLLRSRUZaRPOPPNOLOSTZXTURTRP!!!!!!!!!!!!!!!!!!!!!!!!!!!!!!!!!!!!!!!!!!!!!!!!!!!!!!!!!!!!!!!!!!!!!!!!!!!!!!!!!!!!!!!!VTTYWWSPQUWXVQUS!!eZhhfhaXVbV!aXckcdUSYZKJ!!!!!!!!!!!!!!!!!!!!!!!!!!!!!!!!!!!!!!!!!!!!!!!!!!!!!!!!!RPSUSTRPQNQNLOUTTRQU!!!!!!!!!!!!!!!!!!!!!!!!!!!!!!!!!!!!!!!!!!!!!!!!!!!!!!!!!!!!!!!!!!!!!!!!!!!!!!!!!!!!!!!!!!!!!SSXUQVVWZaXSNTV!!egdbYZb0XfjVVYhoiaUVVMK!!!!!!!!!!!!!!!!!!!!!!!!!!!!!!!!!!!!!!!!!!!!!!!!!!!!!!!!!!!!!!!!!!!!!!!!!!!!!!!!!!!!!!!!!!!!!!!!!!!!!!!!!!!!!!!!!!!!!!!!!!!!!!!!!!!!!!!!!!!!!!!!!!!!!!!!!!!!!!!!!!!!!!!!!!!!VYZVWXaZaVSSU!!edjdaZWUZWWbXTQalheZZUKL!!!!!!!!!!!!!!!!!!!!!!!!!!!!!!!!!!!!!!!!!!!!!!!!!!!!!!!!!!!!!!!!!!!!!!!!!!!!!!!!!!!!!!!!!!!!!!!!!!!!!!!!!!!!!!!!!!!!!!!!!!!!!!!!!!!!!!!!!!!!!!!!!!!!!!!!!!!!!!!!!!!!!!!!!!!!!ZcXZPWUYSVQR!!YidgvVYTWPXmVVTWedbcYXKM!!!!!!!!!!!!!!!!!!!!!!!!!!!!!!!!!!!!!!!!!!!!!!!!!!!!!!!!!!!!!!!!!!!!!!!!!!!!!!!!!!!!!!!!!!!!!!!!!!!!!!!!!!!!!!!!!!!!!!!!!!!!!!!!!!!!!!!!!!!!!!!!!!!!!!!!!!!!!!!!!!!!!!!!!!!!!!dZWTVQPNSR!!SZcccYXZQPUebeNSWbdXUYNG!!!!!!!!!!!!!!!!!!!!!!!!!!!!!!!!!!!!!!!!!!!!!!!!!!!!!!!!!!!!!!!!!!!!!!!!!!!!!!!!!!!!!!!!!!!!!!!!!!!!!!!!!!!!!!!!!!!!!!!!!!!!!!!!!!!!!!!!!!!!!!!!!!!!!!!!!!!!!!!!!!!!!!!!!!!!!!!!XRQSTURQQ!!QZbbZXXONQb!cbcWZYTXWSIH!!!!!!!!!!!!!!!!!!!!!!!!!!!!!!!!!!!!!!!!!!!!!!!!!!!!!!!!!!!!!!!!!!!!!!!!!!!!!!!!!!!!!!!!!!!!!!!!!!!!!!!!!!!!!!!!!!!!!!!!!!!!!!!!!!!!!!!!!!!!!!!!!!!!!!!!!!!!!!!!!!!!!!!!!!!!!!!!!ZSTacVQ!!RSXacZVbYUY!udfeYXSUnaMK!!!!!!!!!!!!!!!!!!!!!!!!!!!!!!!!!!!!!!!!!!!!!!!!!!!!!!!!!!!!!!!!!!!!!!!!!!!!!!!!!!!!!!!!!!!!!!!!!!!!!!!!!!!!!!!!!!!!!!!!!!!!!!!!!!!!!!!!!!!!!!!!!!!!!!!!!!!!!!!!!!!!!!!!!!!!!!!!!!!RUUSWQ!!TzYbfcddXcgfhidVZXWXXcNM!!!!!!!!!!!!!!!!!!!!!!!!!!!!!!!!!!!!!!!!!!!!!!!!!!!!!!!!!!!!!!!!!!!!!!!!!!!!!!!!!!!!!!!!!!!!!!!!!!!!!!!!!!!!!!!!!!!!!!!!!!!!!!!!!!!!!!!!!!!!!!!!!!!!!!!!!!!!!!!!!!!!!!!!!!!!!!!!!!!!QOQR!!VWecaihacZXkhWaUZaadYXOMN!!!!!!!!!!!!!!!!!!!!!!!!!!!!!!!!!!!!!!!!!!!!!!!!!!!!!!!!!!!!!!!!!!!!!!!!!!!!!!!!!!!!!!!!!!!!!!!!!!!!!!!!!!!!!!!!!!!!!!!!!!!!!!!!!!!!!!!!!!!!!!!!!!!!!!!!!!!!!!!!!!!!!!!!!!!!!!!!!!!!!XZT!!XZYZUZgbbhfXYRW!TdgddbMO!!!!!!!!!!!!!!!!!!!!!!!!!!!!!!!!!!!!!!!!!!!!!!!!!!!!!!!!!!!!!!!!!!!!!!!!!!!!!!!!!!!!!!!!!!!!!!!!!!!!!!!!!!!!!!!!!!!!!!!!!!!!!!!!!!!!!!!!!!!!!!!!!!!!!!!!!!!!!!!!!!!!!!!!!!!!!!!!!!!!!!!X!!UYbUQSceYbggSTVZoVWSheaLN!!!!!!!!!!!!!!!!!!!!!!!!!!!!!!!!!!!!!!!!!!!!!!!!!!!!!!!!!!!!!!!!!!!!!!!!!!!!!!!!!!!!!!!!!!!!!!!!!!!!!!!!!!!!!!!!!!!!!!!!!!!!!!!!!!!!!!!!!!!!!!!!!!!!!!!!!!!!!!!!!!!!!!!!!!!!!!!!!!!!!!!!!!YXWWVUSVVchebaZZWVRTXdNK!!!!!!!!!!!!!!!!!!!!!!!!!!!!!!!!!!!!!!!!!!!!!!!!!!!!!!!!!!!!!!!!!!!!!!!!!!!!!!!!!!!!!!!!!!!!!!!!!!!!!!!!!!!!!!!!!!!!!!!!!!!!!!!!!!!!!!!!!!!!!!!!!!!!!!!!!!!!!!!!!!!!!!!!!!!!!!!!!!!!!!!!!!YfdYYUYWSUgaVakiZbcWRSUJH!!!!!!!!!!!!!!!!!!!!!!!!!!!!!!!!!!!!!!!!!!!!!!!!!!!!!!!!!!!!!!!!!!!!!!!!!!!!!!!!!!!!!!!!!!!!!!!!!!!!!!!!!!!!!!!!!!!!!!!!!!!!!!!!!!!!!!!!!!!!!!!!!!!!!!!!!!!!!!!!!!!!!!!!!!!!!!!!!!!!!!!!!!TYZYYVbdbcVORYkbcfhWURII!!!!!!!!!!!!!!!!!!!!!!!!!!!!!!!!!!!!!!!!!!!!!!!!!!!!!!!!!!!!!!!!!!!!!!!!!!!!!!!!!!!!!!!!!!!!!!!!!!!!!!!!!!!!!!!!!!!!!!!!!!!!!!!!!!!!!!!!!!!!!!!!!!!!!!!!!!!!!!!!!!!!!!!!!!!!!!!!!!!!!!!!!!!!OabaXbdgfYRPTWWVeaQQQMN!!!!!!!!!!!!!!!!!!!!!!!!!!!!!!!!!!!!!!!!!!!!!!!!!!!!!!!!!!!!!!!!!!!!!!!!!!!!!!!!!!!!!!!!!!!!!!!!!!!!!!!!!!!!!!!!!!!!!!!!!!!!!!!!!!!!!!!!!!!!!!!!!!!!!!!!!!!!!!!!!!!!!!!!!!!!!!!!!!!!!!!!!!!!!ZaXThaZeavYUaZYTZYaMQ!!!!!!!!!!!!!!!!!!!!!!!!!!!!!!!!!!!!!!!!!!!!!!!!!!!!!!!!!!!!!!!!!!!!!!!!!!!!!!!!!!!!!!!!!!!!!!!!!!!!!!!!!!!!!!!!!!!!!!!!!!!!!!!!!!!!!!!!!!!!!!!!!!!!!!!!!!!!!!!!!!!!!!!!!!!!!!!!!!!!!!!!!!!!!!!TOraWUTcfXVecUPUdYSN!!!!!!!!!!!!!!!!!!!!!!!!!!!!!!!!!!!!!!!!!!!!!!!!!!!!!!!!!!!!!!!!!!!!!!!!!!!!!!!!!!!!!!!!!!!!!!!!!!!!!!!!!!!!!!!!!!!!!!!!!!!!!!!!!!!!!!!!!!!!!!!!!!!!!!!!!!!!!!!!!!!!!!!!!!!!!!!!!!!!!!!!!!!!!!!QMQTVQQQZPKZYVURWLP!!!!!!!!!!!!!!!!!!!!!!!!!!!!!!!!!!!!!!!!!!!!!!!!!!!!!!!!!!!!!!!!!!!!!!!!!!!!!!!!!!!!!!!!!!!!!!!!!!!!!!!!!!!!!!!!!!!!!!!!!!!!!!!!!!!!!!!!!!!!!!!!!!!!!!!!!!!!!!!!!!!!!!!!!!!!!!!!!!!!!!!!!!!!!!!!!VLNWWTYeVNSQRUpPJK!!!!!!!!!!!!!!!!!!!!!!!!!!!!!!!!!!!!!!!!!!!!!!!!!!!!!!!!!!!!!!!!!!!!!!!!!!!!!!!!!!!!!!!!!!!!!!!!!!!!!!!!!!!!!!!!!!!!!!!!!!!!!!!!!!!!!!!!!!!!!!!!!!!!!!!!!!!!!!!!!!!!!!!!!!!!!!!!!!!!!!!!!!!!!!!!!!UWTWUTZRWSMMPRJG!!!!!!!!!!!!!!!!!!!!!!!!!!!!!!!!!!!!!!!!!!!!!!!!!!!!!!!!!!!!!!!!!!!!!!!!!!!!!!!!!!!!!!!!!!!!!!!!!!!!!!!!!!!!!!!!!!!!!!!!!!!!!!!!!!!!!!!!!!!!!!!!!!!!!!!!!!!!!!!!!!!!!!!!!!!!!!!!!!!!!!!!!!!!!!!!!!!!aWTUSMMUSJKRTLI!!!!!!!!!!!!!!!!!!!!!!!!!!!!!!!!!!!!!!!!!!!!!!!!!!!!!!!!!!!!!!!!!!!!!!!!!!!!!!!!!!!!!!!!!!!!!!!!!!!!!!!!!!!!!!!!!!!!!!!!!!!!!!!!!!!!!!!!!!!!!!!!!!!!!!!!!!!!!!!!!!!!!!!!!!!!!!!!!!!!!!!!!!!!!!!!!!!!ZUUSQIKQURTWKN!!!!!!!!!!!!!!!!!!!!!!!!!!!!!!!!!!!!!!!!!!!!!!!!!!!!!!!!!!!!!!!!!!!!!!!!!!!!!!!!!!!!!!!!!!!!!!!!!!!!!!!!!!!!!!!!!!!!!!!!!!!!!!!!!!!!!!!!!!!!!!!!!!!!!!!!!!!!!!!!!!!!!!!!!!!!!!!!!!!!!!!!!!!!!!!!!!!!!!VSPMOQVQRWLNO!!!!!!!!!!!!!!!!!!!!!!!!!!!!!!!!!!!!!!!!!!!!!!!!!!!!!!!!!!!!!!!!!!!!!!!!!!!!!!!!!!!!!!!!!!!!!!!!!!!!!!!!!!!!!!!!!!!!!!!!!!!!!!!!!!!!!!!!!!!!!!!!!!!!!!!!!!!!!!!!!!!!!!!!!!!!!!!!!!!!!!!!!!!!!!!!!!!!!!!RPQSUXOLUKL!!!!!!!!!!!!!!!!!!!!!!!!!!!!!!!!!!!!!!!!!!!!!!!!!!!!!!!!!!!!!!!!!!!!!!!!!!!!!!!!!!!!!!!!!!!!!!!!!!!!!!!!!!!!!!!!!!!!!!!!!!!!!!!!!!!!!!!!!!!!!!!!!!!!!!!!!!!!!!!!!!!!!!!!!!!!!!!!!!!!!!!!!!!!!!!!!!!!!!!!WTWVUTPNIL!!!!!!!!!!!!!!!!!!!!!!!!!!!!!!!!!!!!!!!!!!!!!!!!!!!!!!!!!!!!!!!!!!!!!!!!!!!!!!!!!!!!!!!!!!!!!!!!!!!!!!!!!!!!!!!!!!!!!!!!!!!!!!!!!!!!!!!!!!!!!!!!!!!!!!!!!!!!!!!!!!!!!!!!!!!!!!!!!!!!!!!!!!!!!!!!!!!!!!!!!!XSYTQTQHJ!!!!!!!!!!!!!!!!!!!!!!!!!!!!!!!!!!!!!!!!!!!!!!!!!!!!!!!!!!!!!!!!!!!!!!!!!!!!!!!!!!!!!!!!!!!!!!!!!!!!!!!!!!!!!!!!!!!!!!!!!!!!!!!!!!!!!!!!!!!!!!!!!!!!!!!!!!!!!!!!!!!!!!!!!!!!!!!!!!!!!!!!!!!!!!!!!!!!!!!!!!!WTTTaLG!!!!!!!!!!!!!!!!!!!!!!!!!!!!!!!!!!!!!!!!!!!!!!!!!!!!!!!!!!!!!!!!!!!!!!!!!!!!!!!!!!!!!!!!!!!!!!!!!!!!!!!!!!!!!!!!!!!!!!!!!!!!!!!!!!!!!!!!!!!!!!!!!!!!!!!!!!!!!!!!!!!!!!!!!!!!!!!!!!!!!!!!!!!!!!!!!!!!!!!!!!!!UXUTRMJ!!!!!!!!!!!!!!!!!!!!!!!!!!!!!!!!!!!!!!!!!!!!!!!!!!!!!!!!!!!!!!!!!!!!!!!!!!!!!!!!!!!!!!!!!!!!!!!!!!!!!!!!!!!!!!!!!!!!!!!!!!!!!!!!!!!!!!!!!!!!!!!!!!!!!!!!!!!!!!!!!!!!!!!!!!!!!!!!!!!!!!!!!!!!!!!!!!!!!!!!!!!!!YWMGF!!!!!!!!!!!!!!!!!!!!!!!!!!!!!!!!!!!!!!!!!!!!!!!!!!!!!!!!!!!!!!!!!!!!!!!!!!!!!!!!!!!!!!!!!!!!!!!!!!!!!!!!!!!!!!!!!!!!!!!!!!!!!!!!!!!!!!!!!!!!!!!!!!!!!!!!!!!!!!!!!!!!!!!!!!!!!!!!!!!!!!!!!!!!!!!!!!!!!!!!!!!!!!RVMG!!!!!!!!!!!!!!!!!!!!!!!!!!!!!!!!!!!!!!!!!!!!!!!!!!!!!!!!!!!!!!!!!!!!!!!!!!!!!!!!!!!!!!!!!!!!!!!!!!!!!!!!!!!!!!!!!!!!!!!!!!!!!!!!!!!!!!!!!!!!!!!!!!!!!!!!!!!!!!!!!!!!!!!!!!!!!!!!!!!!!!!!!!!!!!!!!!!!!!!!!!!!!!!!TKL!!!!!!!!!!!!!!!!!!!!!!!!!!!!!!!!!!!!!!!!!!!!!!!!!!!!!!!!!!!!!!!!!!!!!!!!!!!!!!!!!!!!!!!!!!!!!!!!!!!!!!!!!!!!!!!!!!!!!!!!!!!!!!!!!!!!!!!!!!!!!!!!!!!!!!!!!!!!!!!!!!!!!!!!!!!!!!!!!!!!!!!!!!!!!!!!!!!!!!!!!!!!!!!!!N!!!!!!!!!!!!!!!!!!!!!!!!!!!!!!!!!!!!!!!!!!!!!!!!!!!!!!!!!!!!!!!!!!!!!!!!!!!!!!!!!!!!!!!!!!!!!!!!!!!!!!!!!!!!!!!!!!!!!!!!!!!!!!!!!!!!!!!!!!!!!!!!!!!!!!!!!!!!!!!!!!!!!!!!!!!!!!!!!!!!!!!!!!!!!!!!!!!!!!!!!!!!!!!!!!L!!!!!!!!!!!!!!!!!!!!!!!!!!!!!!!!!!!!!!!!!!!!!!!!!!!!!!!!!!!!!!!!!!!!!!!!!!!!!!!!!!!!!!!!!!!!!!!!!!!!!!!!!!!!!!!!!!!!!!!!!!!!!!!!!!!!!!!!!!!!!!!!!!!!!!!!!!!!!!!!!!!!!!!!!!!!!!!!!!!!!!!!!!!!!!!!!!!!!!!!!!!!!!!!!!!!!!!!!!!!!!!!!!!!!!!!!!!!!!!!!!!!!!!!!!!!!!!!!!!!!!!!!!!!!!!!!!!!!!!!!!!!!!!!!!!!!!!!!!!!!!!!!!!!!!!!!!!!!!!!!!!!!!!!!!!!!!!!!!!!!!!!!!!!!!!!!!!!!!!!!!!!!!!!!!!!!!!!!!!!!!!!!!!!!!!!!!!!!!!!!!!!!!!!!!!!!!!!!!!!!!!!!!!!!!!!!!!!!!!!!!!!!!!!!!!!!!!!!!!!!!!!!!!!!!!!!!!!!!!!!!!!!!!!!!!!!!!!!!!!!!!!!!!!!!!!!!!!!!!!!!!!!!!!!!!!!!!!!!!!!!!!!!!!!!!!!!!!!!!!!!!!!!!!!!!!!!!!!!!!!!!!!!!!!!!!!!!!!!!!!!!!!!!!!!!!!!!!!!!!!!!!!!!!!!!!!!!!!!!!!!!!!!!!!!!!!!!!!!!!!!!!!!!!!!!!!!!!!!!!!!!!!!!!!!!!!!!!!!!!!!!!!!!!!!!!!!!!!!!!!!!!!!!!!!!!!!!!!!!!!!!!!!!!!!!!!!!!!!!!!!!!!!!!!!!!!!!!!!!!!!!!!!!!!!!!!!!!!!!!!!!!!!!!!!!!!!!!!!!!!!!!!!!!!!!!!!!!!!!!!!!!!!!!!!!!!!!!!!!!!!!!!!!!!!!!!!!!!!!!!!!!!!!!!!!!!!!!!!!!!!!!!!!!!!!!!!!!!!!!!!!!!!!!!!!!!!!!!!!!!!!!!!!!!!!!!!!!!!!!!!!!!!!!!!!!!!!!!!!!!!!!!!!!!!!!!!!!!!!!!!!!!!!!!!!!!!!!!!!!!!!!!!!!!!!!!!!!!!!!!!!!!!!!!!!!!!!!!!!!!!!!!!!!!!!!!!!!!!!!!!!!!!!!!!!!!!!!!!!!!!!!!!!!!!!!!!!!!!!!!!!!!!!!!!!!!!!!!!!!!!!!!!!!!!!!!!!!!!!!!!!!!!!!!!!!!!!!!!!!!!!!!!!!!!!!!!!!!!!!!!!!!!!!!!!!!!!!!!!!!!!!!!!!!!!!!!!!!!!!!!!!!!!!!!!!!!!!!!!!!!!!!!!!!!!!!!!!!!!!!!!!!!!!!!!!!!!!!!!!!!!!!!!!!!!!!!!!!!!!!!!!!!!!!!!!!!!!!!!!!!!!!!!!!!!!!!!!!!!!!!!!!!!!!!!!!!!!!!!!!!!!!!!!!!!!!!!!!!!!!!!!!!!!!!!!!!!!!!!!!!!!!!!!!!!!!!!!!!!!!!!!!!!!!!!!!!!!!!!!!!!!!!!!!!!!!!!!!!!!!!!!!!!!!!!!!!!!!!!!!!!!!!!!!!!!!!!!!!!!!!!!!!!!!!!!!!!!!!!!!!!!!!!!!!!!!!!!!!!!!!!!!!!!!!!!!!!!!!!!!!!!!!!!!!!!!!!!!!!!!!!!!!!!!!!!!!!!!!!!!!!!!!!!!!!!!!!!!!!!!!!!!!!!!!!!!!!!!!!!!!!!!!!!!!!!!!!!!!!!!!!!!!!!!!!!!!!!!!!!!!!!!!!!!!!!!!!!!!!!!!!!!!!!!!!!!!!!!!!!!!!!!!!!!!!!!!!!!!!!!!!!!!!!!!!!!!!!!!!!!!!!!!!!!!!!!!!!!!!!!!!!!!!!!!!!!!!!!!!!!!!!!!!!!!!!!!!!!!!!!!!!!!!!!!!!!!!!!!!!!!!!!!!!!!!!!!!!!!!!!!!!!!!!!!!!!!!!!!!!!!!!!!!!!!!!!!!!!!!!!!!!!!!!!!!!!!!!!!!!!!!!!!!!!!!!!!!!!!!!!!!!!!!!!!!!!!!!!!!!!!!!!!!!!!!!!!!!!!!!!!!!!!!!!!!!!!!!!!!!!!!!!!!!!!!!!!!!!!!!!!!!!!!!!!!!!!!!!!!!!!!!!!!!!!!!!!!!!!!!!!!!!!!!!!!!!!!!!!!!!!!!!!!!!!!!!!!!!!!!!!!!!!!!!!!!!!!!!!!!!!!!!!!!!!!!!!!!!!!!!!!!!!!!!!!!!!!!!!!!!!!!!!!!!!!!!!!!!!!!!!!!!!!!!!!!!!!!!!!!!!!!!!!!!!!!!!!!!!!!!!!!!!!!!!!!!!!!!!!!!!!!!!!!!!!!!!!!!!!!!!!!!!!!!!!!!!!!!!!!!!!!!!!!!!!!!!!!!!!!!!!!!!!!!!!!!!!!!!!!!!!!!!!!!!!!!!!!!!!!!!!!!!!!!!!!!!!!!!!!!!!!!!!!!!!!!!!!!!!!!!!!!!!!!!!!!!!!!!!!!!!!!!!!!!!!!!!!!!!!!!!!!!!!!!!!!!!!!!!!!!!!!!!!!!!!!!!!!!!!!!!!!!!!!!!!!!!!!!!!!!!!!!!!!!!!!!!!!!!!!!!!!!!!!!!!!!!!!!!!!!!!!!!!!!!!!!!!!!!!!!!!!!!!!!!!!!!!!!!!!!!!!!!!!!!!!!!!!!!!!!!!!!!!!!!!!!!!!!!!!!!!!!!!!!!!!!!!!!!!!!!!!!!!!!!!!!!!!!!!!!!!!!!!!!!!!!!!!!!!!!!!!!!!!!!!!!!!!!!!!!!!!!!!!!!!!!!!!!!!!!!!!!!!!!!!!!!!!!!!!!!!!!!!!!!!!!!!!!!!!!!!!!!!!!!!!!!!!!!!!!!!!!!!!!!!!!!!!!!!!!!!!!!!!!!!!!!!!!!!!!!!!!!!!!!!!!!!!!!!!!!!!!!!!!!!!!!!!!!!!!!!!!!!!!!!!!!!!!!!!!!!!!!!!!!!!!!!!!!!!!!!!!!!!!!!!!!!!!!!!!!!!!!!!!!!!!!!!!!!!!!!!!!!!!!!!!!!!!!!!!!!!!!!!!!!!!!!!!!!!!!!!!!!!!!!!!!!!!!!!!!!!!!!!!!!!!!!!!!!!!!!!!!!!!!!!!!!!!!!!!!!!!!!!!!!!!!!!!!!!!!!!!!!!!!!!!!!!!!!!!!!!!!!!!!!!!!!!!!!!!!!!!!!!!!!!!!!!!!!!!!!!!!!!!!!!!!!!!!!!!!!!!!!!!!!!!!!!!!!!!!!!!!!!!!!!!!!!!!!!!!!!!!!!!!!!!!!!!!!!!!!!!!!!!!!!!!!!!!!!!!!!!!!!!!!!!!!!!!!!!!!!!!!!!!!!!!!!!!!!!!!!!!!!!!!!!!!!!!!!!!!!!!!!!!!!!!!!!!!!!!!!!!!!!!!!!!!!!!!!!!!!!!!!!!!!!!!!!!!!!!!!!!!!!!!!!!!!!!!!!!!!!!!!!!!!!!!!!!!!!!!!!!!!!!!!!!!!!!!!!!!!!!!!!!!!!!!!!!!!!!!!!!!!!!!!!!!!!!!!!!!!!!!!!!!!!!!!!!!!!!!!!!!!!!!!!!!!!!!!!!!!!!!!!!!!!!!!!!!!!!!!!!!!!!!!!!!!!!!!!!!!!!!!!!!!!!!!!!!!!!!!!!!!!!!!!!!!!!!!!!!!!!!!!!!!!!!!!!!!!!!!!!!!!!!!!!!!!!!!!!!!!!!!!!!!!!!!!!!!!!!!!!!!!!!!!!!!!!!!!!!!!!!!!!!!!!!!!!!!!!!!!!!!!!!!!!!!!!!!!!!!!!!!!!!!!!!!!!!!!!!!!!!!!!!!!!!!!!!!!!!!!!!!!!!!!!!!!!!!!!!!!!!!!!!!!!!!!!!!!!!!!!!!!!!!!!!!!!!!!!!!!!!!!!!!!!!!!!!!!!!!!!!!!!!!!!!!!!!!!!!!!!!!!!!!!!!!!!!!!!!!!!!!!!!!!!!!!!!!!!!!!!!!!!!!!!!!!!!!!!!!!!!!!!!!!!!!!!!!!!!!!!!!!!!!!!!!!!!!!!!!!!!!!!!!!!!!!!!!!!!!!!!!!!!!!!!!!!!!!!!!!!!!!!!!!!!!!!!!!!!!!!!!!!!!!!!!!!!!!!!!!!!!!!!!!!!!!!!!!!!!!!!!!!!!!!!!!!!!!!!!!!!!!!!!!!!!!!!!!!!!!!!!!!!!!!!!!!!!!!!!!!!!!!!!!!!!!!!!!!!!!!!!!!!!!!!!!!!!!!!!!!!!!!!!!!!!!!!!!!!!!!!!!!!!!!!!!!!!!!!!!!!!!!!!!!!!!!!!!!!!!!!!!!!!!!!!!!!!!!!!!!!!!!!!!!!!!!!!!!!!!!!!!!!!!!!!!!!!!!!!!!!!!!!!!!!!!!!!!!!!!!!!!!!!!!!!!!!!!!!!!!!!!!!!!!!!!!!!!!!!!!!!!!!!!!!!!!!!!!!!!!!!!!!!!!!!!!!!!!!!!!!!!!!!!!!!!!!!!!!!!!!!!!!!!!!!!!!!!!!!!!!!!!!!!!!!!!!!!!!!!!!!!!!!!!!!!!!!!!!!!!!!!!!!!!!!!!!!!!!!!!!!!!!!!!!!!!!!!!!!!!!!!!!!!!!!!!!!!!!!!!!!!!!!!!!!!!!!!!!!!!!!!!!!!!!!!!!!!!!!!!!!!!!!!!!!!!!!!!!!!!!!!!!!!!!!!!!!!!!!!!!!!!!!!!!!!!!!!!!!!!!!!!!!!!!!!!!!!!!!!!!!!!!!!!!!!!!!!!!!!!!!!!!!!!!!!!!!!!!!!!!!!!!!!!!!!!!!!!!!!!!!!!!!!!!!!!!!!!!!!!!!!!!!!!!!!!!!!!!!!!!!!!!!!!!!!!!!!!!!!!!!!!!!!!!!!!!!!!!!!!!!!!!!!!!!!!!!!!!!!!!!!!!!!!!!!!!!!!!!!!!!!!!!!!!!!!!!!!!!!!!!!!!!!!!!!!!!!!!!!!!!!!!!!!!!!!!!!!!!!!!!!!!!!!!!!!!!!!!!!!!!!!!!!!!!!!!!!!!!!!!!!!!!!!!!!!!!!!!!!!!!!!!!!!!!!!!!!!!!!!!!!!!!!!!!!!!!!!!!!!!!!!!!!!!!!!!!!!!!!!!!!!!!!!!!!!!!!!!!!!!!!!!!!!!!!!!!!!!!!!!!!!!!!!!!!!!!!!!!!!!!!!!!!!!!!!!!!!!!!!!!!!!!!!!!!!!!!!!!!!!!!!!!!!!!!!!!!!!!!!!!!!!!!!!!!!!!!!!!!!!!!!!!!!!!!!!!!!!!!!!!!!!!!!!!!!!!!!!!!!!!!!!!!!!!!!!!!!!!!!!!!!!!!!!!!!!!!!!!!!!!!!!!!!!!!!!!!!!!!!!!!!!!!!!!!!!!!!!!!!!!!!!!!!!!!!!!!!!!!!!!!!!!!!!!!!!!!!!!!!!!!!!!!!!!!!!!!!!!!!!!!!!!!!!!!!!!!!!!!!!!!!!!!!!!!!!!!!!!!!!!!!!!!!!!!!!!!!!!!!!!!!!!!!!!!!!!!!!!!!!!!!!!!!!!!!!!!!!!!!!!!!!!!!!!!!!!!!!!!!!!!!!!!!!!!!!!!!!!!!!!!!!!!!!!!!!!!!!!!!!!!!!!!!!!!!!!!!!!!!!!!!!!!!!!!!!!!!!!!!!!!!!!!!!!!!!!!!!!!!!!!!!!!!!!!!!!!!!!!!!!!!!!!!!!!!!!!!!!!!!!!!!!!!!!!!!!!!!!!!!!!!!!!!!!!!!!!!!!!!!!!!!!!!!!!!!!!!!!!!!!!!!!!!!!!!!!!!!!!!!!!!!!!!!!!!!!!!!!!!!!!!!!!!!!!!!!!!!!!!!!!!!!!!!!!!!!!!!!!!!!!!!!!!!!!!!!!!!!!!!!!!!!!!!!!!!!!!!!!!!!!!!!!!!!!!!!!!!!!!!!!!!!!!!!!!!!!!!!!!!!!!!!!!!!!!!!!!!!!!!!!!!!!!!!!!!!!!!!!!!!!!!!!!!!!!!!!!!!!!!!!!!!!!!!!!!!!!!!!!!!!!!!!!!!!!!!!!!!!!!!!!!!!!!!!!!!!!!!!!!!!!!!!!!!!!!!!!!!!!!!!!!!!!!!!!!!!!!!!!!!!!!!!!!!!!!!!!!!!!!!!!!!!!!!!!!!!!!!!!!!!!!!!!!!!!!!!!!!!!!!!!!!!!!!!!!!!!!!!!!!!!!!!!!!!!!!!!!!!!!!!!!!!!!!!!!!!!!!!!!!!!!!!!!!!!!!!!!!!!!!!!!!!!!!!!!!!!!!!!!!!!!!!!!!!!!!!!!!!!!!!!!!!!!!!!!!!!!!!!!!!!!!!!!!!!!!!!!!!!!!!!!!!!!!!!!!!!!!!!!!!!!!!!!!!!!!!!!!!!!!!!!!!!!!!!!!!!!!!!!!!!!!!!!!!!!!!!!!!!!!!!!!!!!!!!!!!!!!!!!!!!!!!!!!!!!!!!!!!!!!!!!!!!!!!!!!!!!!!!!!!!!!!!!!!!!!!!!!!!!!!!!!!!!!!!!!!!!!!!!!!!!!!!!!!!!!!!!!!!!!!!!!!!!!!!!!!!!!!!!!!!!!!!!!!!!!!!!!!!!!!!!!!!!!!!!!!!!!!!!!!!!!!!!!!!!!!!!!!!!!!!!!!!!!!!!!!!!!!!!!!!!!!!!!!!!!!!!!!!!!!!!!!!!!!!!!!!!!!!!!!!!!!!!!!!!!!!!!!!!!!!!!!!!!!!!!!!!!!!!!!!!!!!!!!!!!!!!!!!!!!!!!!!!!!!!!!!!!!!!!!!!!!!!!!!!!!!!!!!!!!!!!!!!!!!!!!!!!!!!!!!!!!!!!!!!!!!!!!!!!!!!!!!!!!!!!!!!!!!!!!!!!!!!!!!!!!!!!!!!!!!!!!!!!!!!!!!!!!!!!!!!!!!!!!!!!!!!!!!!!!!!!!!!!!!!!!!!!!!!!!!!!!!!!!!!!!!!!!!!!!!!!!!!!!!!!!!!!!!!!!!!!!!!!!!!!!!!!!!!!!!!!!!!!!!!!!!!!!!!!!!!!!!!!!!!!!!!!!!!!!!!!!!!!!!!!!!!!!!!!!!!!!!!!!!!!!!!!!!!!!!!!!!!!!!!!!!!!!!!!!!!!!!!!!!!!!!!!!!!!!!!!!!!!!!!!!!!!!!!!!!!!!!!!!!!!!!!!!!!!!!!!!!!!!!!!!!!!!!!!!!!!!!!!!!!!!!!!!!!!!!!!!!!!!!!!!!!!!!!!!!!!!!!!!!!!!!!!!!!!!!!!!!!!!!!!!!!!!!!!!!!!!!!!!!!!!!!!!!!!!!!!!!!!!!!!!!!!!!!!!!!!!!!!!!!!!!!!!!!!!!!!!!!!!!!!!!!!!!!!!!!!!!!!!!!!!!!!!!!!!!!!!!!!!!!!!!!!!!!!!!!!!!!!!!!!!!!!!!!!!!!!!!!!!!!!!!!!!!!!!!!!!!!!!!!!!!!!!!!!!!!!!!!!!!!!!!!!!!!!!!!!!!!!!!!!!!!!!!!!!!!!!!!!!!!!!!!!!!!!!!!!!!!!!!!!!!!!!!!!!!!!!!!!!!!!!!!!!!!!!!!!!!!!!!!!!!!!!!!!!!!!!!!!!!!!!!!!!!!!!!!!!!!!!!!!!!!!!!!!!!!!!!!!!!!!!!!!!!!!!!!!!!!!!!!!!!!!!!!!!!!!!!!!!!!!!!!!!!!!!!!!!!!!!!!!!!!!!!!!!!!!!!!!!!!!!!!!!!!!!!!!!!!!!!!!!!!!!!!!!!!!!!!!!!!!!!!!!!!!!!!!!!!!!!!!!!!!!!!!!!!!!!!!!!!!!!!!!!!!!!!!!!!!!!!!!!!!!!!!!!!!!!!!!!!!!!!!!!!!!!!!!!!!!!!!!!!!!!!!!!!!!!!!!!!!!!!!!!!!!!!!!!!!!!!!!!!!!!!!!!!!!!!!!!!!!!!!!!!!!!!!!!!!!!!!!!!!!!!!!!!!!!!!!!!!!!!!!!!!!!!!!!!!!!!!!!!!!!!!!!!!!!!!!!!!!!!!!!!!!!!!!!!!!!!!!!!!!!!!!!!!!!!!!!!!!!!!!!!!!!!!!!!!!!!!!!!!!!!!!!!!!!!!!!!!!!!!!!!!!!!!!!!!!!!!!!!!!!!!!!!!!!!!!!!!!!!!!!!!!!!!!!!!!!!!!!!!!!!!!!!!!!!!!!!!!!!!!!!!!!!!!!!!!!!!!!!!!!!!!!!!!!!!!!!!!!!!!!!!!!!!!!!!!!!!!!!!!!!!!!!!!!!!!!!!!!!!!!!!!!!!!!!!!!!!!!!!!!!!!!!!!!!!!!!!!!!!!!!!!!!!!!!!!!!!!!!!!!!!!!!!!!!!!!!!!!!!!!!!!!!!!!!!!!!!!!!!!!!!!!!!!!!!!!!!!!!!!!!!!!!!!!!!!!!!!!!!!!!!!!!!!!!!!!!!!!!!!!!!!!!!!!!!!!!!!!!!!!!!!!!!!!!!!!!!!!!!!!!!!!!!!!!!!!!!!!!!!!!!!!!!!!!!!!!!!!!!!!!!!!!!!!!!!!!!!!!!!!!!!!!!!!!!!!!!!!!!!!!!!!!!!!!!!!!!!!!!!!!!!!!!!!!!!!!!!!!!!!!!!!!!!!!!!!!!!!!!!!!!!!!!!!!!!!!!!!!!!!!!!!!!!!!!!!!!!!!!!!!!!!!!!!!!!!!!!!!!!!!!!!!!!!!!!!!!!!!!!!!!!!!!!!!!!!!!!!!!!!!!!!!!!!!!!!!!!!!!!!!!!";
var A="ABCDEFGHIJKLMNOPQRSTUVWXYZabcdefghijklmnopqrstuvwxyz0123456789+/!";
var NX=211,NY=282,XL=-2.1223,YB=-4.9949,DD=0.04;
var X0=284.7,SX=77.25,Y0=588.4,SY=77.0;
var cv=document.getElementById('c'),ctx=cv.getContext('2d');
var im=ctx.createImageData(902,1064),a=im.data;
for(var i=0;i<a.length;i+=4){a[i]=255;a[i+1]=255;a[i+2]=255;a[i+3]=255;}
var code=new Uint8Array(D.length);
for(var i=0;i<D.length;i++)code[i]=A.indexOf(D[i]);
for(var yy=105;yy<=972;yy++){
  var y=(Y0-(yy+0.5))/SY; var j=Math.floor((y-YB)/DD); if(j<0||j>=NY)continue;
  var row=NY-1-j;
  for(var xx=120;xx<=773;xx++){
    var x=(xx+0.5-X0)/SX; var k=Math.floor((x-XL)/DD); if(k<0||k>=NX)continue;
    var c=code[row*NX+k]; if(c>=64)continue;
    var o=(yy*902+xx)*4; var p=P[c]; a[o]=p[0];a[o+1]=p[1];a[o+2]=p[2];
  }
}
ctx.putImageData(im,0,0);
})();
</script>
</body></html>
